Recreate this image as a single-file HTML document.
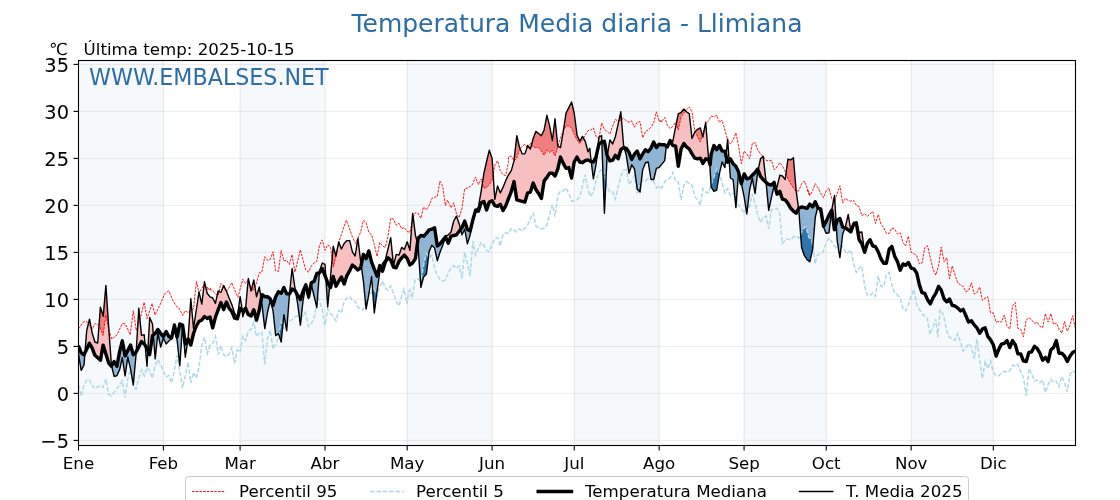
<!DOCTYPE html><html><head><meta charset="utf-8"><title>Temperatura Media diaria - Llimiana</title>
<style>html,body{margin:0;padding:0;background:#fff}svg{display:block}text{font-family:"DejaVu Sans","Liberation Sans",sans-serif;fill:#000}</style></head><body>
<svg width="1120" height="500" viewBox="0 0 1120 500">
<rect width="1120" height="500" fill="#fff"/>
<rect x="78.50" y="60.5" width="84.91" height="385.0" fill="#f5f9fc"/>
<rect x="240.10" y="60.5" width="84.91" height="385.0" fill="#f5f9fc"/>
<rect x="407.18" y="60.5" width="84.91" height="385.0" fill="#f5f9fc"/>
<rect x="574.26" y="60.5" width="84.91" height="385.0" fill="#f5f9fc"/>
<rect x="744.08" y="60.5" width="82.17" height="385.0" fill="#f5f9fc"/>
<rect x="911.16" y="60.5" width="82.17" height="385.0" fill="#f5f9fc"/>
<line x1="78.5" x2="1075.5" y1="440.40" y2="440.40" stroke="#808080" stroke-opacity="0.14" stroke-width="1"/>
<line x1="78.5" x2="1075.5" y1="393.40" y2="393.40" stroke="#808080" stroke-opacity="0.14" stroke-width="1"/>
<line x1="78.5" x2="1075.5" y1="346.40" y2="346.40" stroke="#808080" stroke-opacity="0.14" stroke-width="1"/>
<line x1="78.5" x2="1075.5" y1="299.40" y2="299.40" stroke="#808080" stroke-opacity="0.14" stroke-width="1"/>
<line x1="78.5" x2="1075.5" y1="252.40" y2="252.40" stroke="#808080" stroke-opacity="0.14" stroke-width="1"/>
<line x1="78.5" x2="1075.5" y1="205.40" y2="205.40" stroke="#808080" stroke-opacity="0.14" stroke-width="1"/>
<line x1="78.5" x2="1075.5" y1="158.40" y2="158.40" stroke="#808080" stroke-opacity="0.14" stroke-width="1"/>
<line x1="78.5" x2="1075.5" y1="111.40" y2="111.40" stroke="#808080" stroke-opacity="0.14" stroke-width="1"/>
<line x1="78.5" x2="1075.5" y1="64.40" y2="64.40" stroke="#808080" stroke-opacity="0.14" stroke-width="1"/>
<line x1="163.41" x2="163.41" y1="60.5" y2="445.5" stroke="#808080" stroke-opacity="0.17" stroke-width="1"/>
<line x1="240.10" x2="240.10" y1="60.5" y2="445.5" stroke="#808080" stroke-opacity="0.17" stroke-width="1"/>
<line x1="325.01" x2="325.01" y1="60.5" y2="445.5" stroke="#808080" stroke-opacity="0.17" stroke-width="1"/>
<line x1="407.18" x2="407.18" y1="60.5" y2="445.5" stroke="#808080" stroke-opacity="0.17" stroke-width="1"/>
<line x1="492.09" x2="492.09" y1="60.5" y2="445.5" stroke="#808080" stroke-opacity="0.17" stroke-width="1"/>
<line x1="574.26" x2="574.26" y1="60.5" y2="445.5" stroke="#808080" stroke-opacity="0.17" stroke-width="1"/>
<line x1="659.17" x2="659.17" y1="60.5" y2="445.5" stroke="#808080" stroke-opacity="0.17" stroke-width="1"/>
<line x1="744.08" x2="744.08" y1="60.5" y2="445.5" stroke="#808080" stroke-opacity="0.17" stroke-width="1"/>
<line x1="826.25" x2="826.25" y1="60.5" y2="445.5" stroke="#808080" stroke-opacity="0.17" stroke-width="1"/>
<line x1="911.16" x2="911.16" y1="60.5" y2="445.5" stroke="#808080" stroke-opacity="0.17" stroke-width="1"/>
<line x1="993.33" x2="993.33" y1="60.5" y2="445.5" stroke="#808080" stroke-opacity="0.17" stroke-width="1"/>
<clipPath id="c"><rect x="78.5" y="60.5" width="997.0" height="385.0"/></clipPath>
<g clip-path="url(#c)">
<polygon points="84.9,353.1 85.1,350.9 85.3,348.4 85.5,345.9 85.7,343.4 85.9,340.9 86.1,338.3 86.3,335.8 86.5,333.3 86.7,330.8 86.9,329.8 87.1,329.0 87.3,328.2 87.5,327.3 87.7,326.5 87.9,325.7 88.1,324.8 88.3,324.0 88.5,323.2 88.7,322.3 88.9,321.5 89.1,320.7 89.3,319.8 89.5,319.4 89.7,320.4 89.9,321.4 90.1,322.4 90.3,323.5 90.5,324.5 90.7,325.5 90.9,326.5 91.1,327.5 91.3,328.5 91.5,329.5 91.7,330.5 91.9,331.5 92.1,332.5 92.3,333.3 92.5,334.0 92.7,334.7 92.9,335.3 93.1,336.0 93.3,336.6 93.5,337.3 93.7,337.9 93.9,338.6 94.1,339.3 94.3,339.9 94.5,340.6 94.7,341.2 94.9,341.9 95.1,342.1 95.3,342.1 95.5,342.2 95.7,342.3 95.9,342.4 96.1,342.4 96.3,342.5 96.5,342.6 96.7,342.6 96.9,342.7 97.1,342.8 97.3,342.9 97.5,342.9 97.7,342.6 97.9,340.0 98.1,337.4 98.3,334.8 98.5,332.2 98.7,329.5 98.9,326.9 99.1,324.3 99.3,321.7 99.5,319.1 99.7,316.4 99.9,313.8 100.1,311.2 100.3,308.6 100.5,307.4 100.7,308.1 100.9,308.7 101.1,309.4 101.3,310.1 101.5,310.7 101.7,311.4 101.9,312.0 102.1,312.7 102.3,313.4 102.5,314.0 102.7,314.7 102.9,315.4 103.1,316.0 103.3,314.5 103.5,312.3 103.7,310.0 103.9,307.8 104.1,305.5 104.3,303.3 104.5,301.0 104.7,298.8 104.9,296.5 105.1,294.3 105.3,292.0 105.5,289.8 105.7,287.5 105.9,285.5 106.1,288.5 106.3,291.4 106.5,294.4 106.7,297.3 106.9,300.3 107.1,303.2 107.3,306.2 107.5,309.1 107.7,312.1 107.9,315.0 108.1,318.0 108.3,320.9 108.5,323.9 108.7,326.8 108.9,329.7 109.1,332.5 109.3,335.4 109.5,338.3 109.7,341.1 109.9,344.0 110.1,346.9 110.3,349.7 110.5,352.6 110.7,355.4 110.9,358.3 111.1,361.2 111.3,364.0 111.5,365.5 111.7,366.0 111.7,366.0 111.5,365.9 111.3,366.1 111.1,365.9 110.9,365.7 110.7,365.5 110.5,365.2 110.3,365.0 110.1,364.8 109.9,364.6 109.7,364.3 109.5,364.1 109.3,363.9 109.1,363.6 108.9,363.4 108.7,363.2 108.5,362.6 108.3,362.0 108.1,361.3 107.9,360.6 107.7,360.0 107.5,359.3 107.3,358.7 107.1,358.0 106.9,357.4 106.7,356.7 106.5,356.1 106.3,355.4 106.1,354.8 105.9,354.1 105.7,353.5 105.5,352.8 105.3,352.2 105.1,351.5 104.9,350.9 104.7,350.2 104.5,349.6 104.3,348.9 104.1,348.3 103.9,347.6 103.7,347.0 103.5,346.3 103.3,345.6 103.1,345.2 102.9,346.3 102.7,347.5 102.5,348.6 102.3,349.7 102.1,350.9 101.9,352.0 101.7,353.1 101.5,354.3 101.3,355.4 101.1,356.6 100.9,357.7 100.7,358.8 100.5,360.0 100.3,360.0 100.1,359.8 99.9,359.6 99.7,359.5 99.5,359.3 99.3,359.1 99.1,358.9 98.9,358.8 98.7,358.6 98.5,358.4 98.3,358.2 98.1,358.1 97.9,357.9 97.7,357.7 97.5,357.6 97.3,357.4 97.1,357.2 96.9,357.0 96.7,356.9 96.5,356.7 96.3,356.5 96.1,356.3 95.9,356.2 95.7,356.0 95.5,355.8 95.3,355.6 95.1,355.5 94.9,355.2 94.7,354.7 94.5,354.2 94.3,353.7 94.1,353.2 93.9,352.6 93.7,352.1 93.5,351.6 93.3,351.1 93.1,350.6 92.9,350.0 92.7,349.5 92.5,349.0 92.3,348.5 92.1,348.0 91.9,347.6 91.7,347.3 91.5,346.9 91.3,346.6 91.1,346.3 90.9,345.9 90.7,345.6 90.5,345.2 90.3,344.9 90.1,344.5 89.9,344.2 89.7,343.8 89.5,343.5 89.3,343.4 89.1,343.9 88.9,344.4 88.7,344.8 88.5,345.3 88.3,345.7 88.1,346.2 87.9,346.6 87.7,347.1 87.5,347.5 87.3,348.0 87.1,348.4 86.9,348.9 86.7,349.3 86.5,349.7 86.3,350.1 86.1,350.5 85.9,350.9 85.7,351.3 85.5,351.7 85.3,352.1 85.1,352.5 84.9,353.1" fill="#f7bfbf" fill-opacity="1"/>
<polygon points="136.1,353.0 136.3,350.5 136.5,347.0 136.7,343.6 136.9,340.2 137.1,336.8 137.3,333.3 137.5,329.9 137.7,326.5 137.9,323.0 138.1,319.6 138.3,316.2 138.5,312.7 138.7,309.3 138.9,309.7 139.1,311.7 139.3,313.7 139.5,315.6 139.7,317.6 139.9,319.6 140.1,321.6 140.3,323.6 140.5,325.5 140.7,327.5 140.9,329.5 141.1,331.5 141.3,333.5 141.5,335.4 141.7,335.4 141.9,335.3 142.1,335.3 142.3,335.2 142.5,335.2 142.7,335.1 142.9,335.1 143.1,335.0 143.3,335.0 143.5,335.0 143.7,334.9 143.9,334.9 144.1,334.8 144.3,335.5 144.5,337.8 144.7,340.1 144.9,342.4 145.1,344.7 145.3,346.2 145.3,346.2 145.1,345.2 144.9,344.9 144.7,344.6 144.5,344.3 144.3,344.0 144.1,343.8 143.9,343.6 143.7,343.4 143.5,343.2 143.3,343.1 143.1,342.9 142.9,342.7 142.7,342.5 142.5,342.4 142.3,342.2 142.1,342.0 141.9,341.8 141.7,341.7 141.5,341.5 141.3,341.8 141.1,342.1 140.9,342.5 140.7,342.9 140.5,343.3 140.3,343.7 140.1,344.1 139.9,344.5 139.7,344.9 139.5,345.3 139.3,345.7 139.1,346.1 138.9,346.4 138.7,346.8 138.5,347.2 138.3,347.7 138.1,348.1 137.9,348.5 137.7,348.9 137.5,349.3 137.3,349.7 137.1,350.1 136.9,350.5 136.7,350.9 136.5,351.3 136.3,351.7 136.1,353.0" fill="#f7bfbf" fill-opacity="1"/>
<polygon points="147.7,351.6 147.9,349.8 148.1,346.2 148.3,342.6 148.5,339.1 148.7,335.5 148.9,332.0 149.1,328.4 149.3,324.9 149.5,321.3 149.7,317.7 149.9,317.9 150.1,318.4 150.3,318.9 150.5,319.4 150.7,319.8 150.9,320.3 151.1,320.8 151.3,321.3 151.5,321.7 151.7,322.2 151.9,322.7 152.1,323.2 152.3,323.6 152.5,324.6 152.7,327.1 152.9,329.7 153.1,332.2 153.3,334.8 153.5,336.0 153.5,336.0 153.3,334.9 153.1,335.0 152.9,335.2 152.7,335.3 152.5,335.5 152.3,336.5 152.1,337.9 151.9,339.3 151.7,340.7 151.5,342.0 151.3,343.4 151.1,344.8 150.9,346.1 150.7,347.5 150.5,348.9 150.3,350.3 150.1,351.6 149.9,353.0 149.7,354.4 149.5,354.3 149.3,353.8 149.1,353.3 148.9,352.8 148.7,352.3 148.5,351.8 148.3,351.3 148.1,350.8 147.9,350.3 147.7,351.6" fill="#f7bfbf" fill-opacity="1"/>
<polygon points="187.9,339.4 188.1,337.9 188.3,335.0 188.5,332.1 188.7,329.2 188.9,326.3 189.1,323.4 189.3,320.5 189.5,317.6 189.7,314.7 189.9,311.8 190.1,308.9 190.3,306.0 190.5,303.0 190.7,300.1 190.9,299.8 191.1,302.0 191.3,304.2 191.5,306.3 191.7,308.5 191.9,310.7 192.1,312.9 192.3,315.0 192.5,317.2 192.7,319.4 192.9,321.6 193.1,323.7 193.3,325.9 193.5,328.1 193.7,327.4 193.9,326.1 194.1,324.7 194.3,323.4 194.5,322.0 194.7,320.7 194.9,319.3 195.1,317.9 195.3,316.6 195.5,315.2 195.7,313.9 195.9,312.5 196.1,311.2 196.3,309.8 196.5,308.5 196.7,307.2 196.9,305.9 197.1,304.6 197.3,303.3 197.5,302.0 197.7,300.6 197.9,299.3 198.1,298.0 198.3,296.7 198.5,295.4 198.7,294.1 198.9,292.8 199.1,292.4 199.3,293.3 199.5,294.1 199.7,295.0 199.9,295.9 200.1,296.8 200.3,297.7 200.5,298.6 200.7,299.4 200.9,300.3 201.1,301.2 201.3,302.1 201.5,303.0 201.7,303.9 201.9,302.9 202.1,301.3 202.3,299.7 202.5,298.0 202.7,296.4 202.9,294.8 203.1,293.1 203.3,291.5 203.5,289.9 203.7,288.3 203.9,286.6 204.1,285.0 204.3,283.4 204.5,281.8 204.7,282.7 204.9,283.5 205.1,284.3 205.3,285.2 205.5,286.0 205.7,286.9 205.9,287.7 206.1,288.5 206.3,289.4 206.5,290.2 206.7,291.1 206.9,291.9 207.1,292.7 207.3,293.4 207.5,293.7 207.7,293.9 207.9,294.2 208.1,294.4 208.3,294.7 208.5,295.0 208.7,295.2 208.9,295.5 209.1,295.8 209.3,296.0 209.5,296.3 209.7,296.5 209.9,296.8 210.1,297.0 210.3,297.0 210.5,297.1 210.7,297.2 210.9,297.3 211.1,297.4 211.3,297.4 211.5,297.5 211.7,297.6 211.9,297.7 212.1,297.8 212.3,297.8 212.5,297.9 212.7,298.0 212.9,298.4 213.1,298.8 213.3,299.2 213.5,299.6 213.7,299.9 213.9,300.3 214.1,300.7 214.3,301.1 214.5,301.5 214.7,301.9 214.9,302.3 215.1,302.7 215.3,303.1 215.5,303.2 215.7,302.3 215.9,301.4 216.1,300.5 216.3,299.6 216.5,298.6 216.7,297.7 216.9,296.8 217.1,295.9 217.3,295.0 217.5,294.1 217.7,293.2 217.9,292.3 218.1,291.4 218.3,291.1 218.5,291.2 218.7,291.3 218.9,291.4 219.1,291.5 219.3,291.6 219.5,291.7 219.7,291.8 219.9,291.9 220.1,292.0 220.3,292.2 220.5,292.3 220.7,292.4 220.9,292.5 221.1,292.1 221.3,291.5 221.5,291.0 221.7,290.5 221.9,290.0 222.1,289.5 222.3,289.0 222.5,288.5 222.7,288.0 222.9,287.5 223.1,286.9 223.3,286.4 223.5,285.9 223.7,285.6 223.9,286.0 224.1,286.4 224.3,286.8 224.5,287.2 224.7,287.6 224.9,288.0 225.1,288.4 225.3,288.8 225.5,289.2 225.7,289.6 225.9,290.0 226.1,290.4 226.3,290.8 226.5,291.2 226.7,291.8 226.9,292.3 227.1,292.8 227.3,293.3 227.5,293.8 227.7,294.3 227.9,294.8 228.1,295.3 228.3,295.8 228.5,296.4 228.7,296.9 228.9,297.4 229.1,297.9 229.3,298.4 229.5,298.9 229.7,299.4 229.9,299.9 230.1,300.4 230.3,300.9 230.5,301.4 230.7,301.9 230.9,302.4 231.1,302.9 231.3,303.4 231.5,303.8 231.7,304.3 231.9,304.8 232.1,305.5 232.3,306.1 232.5,306.7 232.7,307.3 232.9,307.9 233.1,308.5 233.3,309.1 233.5,309.8 233.7,310.4 233.9,311.0 234.1,311.6 234.3,312.2 234.5,312.8 234.7,313.3 234.9,313.6 235.1,313.9 235.3,314.2 235.5,314.4 235.7,314.7 235.9,315.0 236.1,315.3 236.3,315.6 236.5,315.9 236.7,316.2 236.9,316.4 237.1,316.7 237.3,317.0 237.5,316.1 237.7,314.6 237.9,313.1 238.1,311.6 238.3,310.1 238.5,308.6 238.7,307.1 238.9,305.6 239.1,304.2 239.3,302.7 239.5,301.2 239.7,299.7 239.9,298.2 240.1,296.7 240.3,297.9 240.5,299.1 240.7,300.3 240.9,301.5 241.1,302.8 241.3,304.0 241.5,305.3 241.7,307.0 241.9,308.7 242.1,310.4 242.1,310.4 241.9,310.1 241.7,309.9 241.5,309.7 241.3,309.5 241.1,309.3 240.9,309.1 240.7,308.9 240.5,308.7 240.3,308.5 240.1,308.3 239.9,309.1 239.7,309.8 239.5,310.6 239.3,311.4 239.1,312.1 238.9,312.9 238.7,313.7 238.5,314.4 238.3,315.2 238.1,316.0 237.9,316.7 237.7,317.5 237.5,318.3 237.3,318.8 237.1,318.7 236.9,318.7 236.7,318.6 236.5,318.6 236.3,318.5 236.1,318.5 235.9,318.4 235.7,318.4 235.5,318.3 235.3,318.3 235.1,318.2 234.9,318.2 234.7,318.1 234.5,317.8 234.3,317.4 234.1,316.9 233.9,316.4 233.7,316.0 233.5,315.5 233.3,315.1 233.1,314.6 232.9,314.1 232.7,313.7 232.5,313.2 232.3,312.8 232.1,312.3 231.9,311.8 231.7,311.6 231.5,311.3 231.3,311.1 231.1,310.8 230.9,310.5 230.7,310.3 230.5,310.0 230.3,309.8 230.1,309.5 229.9,309.3 229.7,309.0 229.5,308.8 229.3,308.5 229.1,308.2 228.9,307.7 228.7,307.3 228.5,306.8 228.3,306.4 228.1,305.9 227.9,305.4 227.7,305.0 227.5,304.5 227.3,304.1 227.1,303.6 226.9,303.1 226.7,302.7 226.5,302.2 226.3,302.3 226.1,302.9 225.9,303.4 225.7,304.0 225.5,304.5 225.3,305.1 225.1,305.7 224.9,306.2 224.7,306.8 224.5,307.4 224.3,307.9 224.1,308.5 223.9,309.0 223.7,309.6 223.5,309.3 223.3,308.7 223.1,308.2 222.9,307.7 222.7,307.2 222.5,306.6 222.3,306.1 222.1,305.6 221.9,305.1 221.7,304.5 221.5,304.0 221.3,303.5 221.1,303.0 220.9,302.6 220.7,303.1 220.5,303.6 220.3,304.2 220.1,304.7 219.9,305.2 219.7,305.7 219.5,306.3 219.3,306.8 219.1,307.3 218.9,307.8 218.7,308.4 218.5,308.9 218.3,309.4 218.1,310.0 217.9,310.5 217.7,311.1 217.5,311.6 217.3,312.2 217.1,312.8 216.9,313.3 216.7,313.9 216.5,314.4 216.3,315.0 216.1,315.6 215.9,316.1 215.7,316.7 215.5,317.3 215.3,318.0 215.1,318.7 214.9,319.5 214.7,320.3 214.5,321.0 214.3,321.8 214.1,322.6 213.9,323.3 213.7,324.1 213.5,324.9 213.3,325.6 213.1,326.4 212.9,327.2 212.7,327.9 212.5,327.1 212.3,326.3 212.1,325.5 211.9,324.7 211.7,323.9 211.5,323.1 211.3,322.3 211.1,321.5 210.9,320.7 210.7,319.9 210.5,319.1 210.3,318.3 210.1,317.5 209.9,317.0 209.7,317.1 209.5,317.3 209.3,317.4 209.1,317.5 208.9,317.6 208.7,317.7 208.5,317.8 208.3,317.9 208.1,318.0 207.9,318.1 207.7,318.2 207.5,318.4 207.3,318.5 207.1,318.4 206.9,318.3 206.7,318.1 206.5,318.0 206.3,317.8 206.1,317.7 205.9,317.5 205.7,317.4 205.5,317.2 205.3,317.1 205.1,316.9 204.9,316.8 204.7,316.7 204.5,316.5 204.3,316.7 204.1,317.0 203.9,317.3 203.7,317.5 203.5,317.8 203.3,318.0 203.1,318.3 202.9,318.5 202.7,318.8 202.5,319.0 202.3,319.3 202.1,319.6 201.9,319.8 201.7,320.0 201.5,320.1 201.3,320.2 201.1,320.4 200.9,320.5 200.7,320.6 200.5,320.7 200.3,320.8 200.1,320.9 199.9,321.0 199.7,321.1 199.5,321.2 199.3,321.3 199.1,321.5 198.9,321.7 198.7,322.0 198.5,322.3 198.3,322.7 198.1,323.0 197.9,323.3 197.7,323.7 197.5,324.0 197.3,324.3 197.1,324.6 196.9,325.0 196.7,325.3 196.5,325.6 196.3,326.0 196.1,326.5 195.9,327.0 195.7,327.6 195.5,328.1 195.3,328.7 195.1,329.2 194.9,329.8 194.7,330.3 194.5,330.9 194.3,331.4 194.1,332.0 193.9,332.5 193.7,333.1 193.5,333.7 193.3,334.5 193.1,335.3 192.9,336.2 192.7,337.0 192.5,337.9 192.3,338.7 192.1,339.5 191.9,340.4 191.7,341.2 191.5,342.1 191.3,342.9 191.1,343.7 190.9,344.6 190.7,344.8 190.5,344.3 190.3,343.9 190.1,343.5 189.9,343.0 189.7,342.6 189.5,342.2 189.3,341.7 189.1,341.3 188.9,340.8 188.7,340.4 188.5,340.0 188.3,339.5 188.1,339.1 187.9,339.4" fill="#f7bfbf" fill-opacity="1"/>
<polygon points="245.5,308.6 245.7,307.2 245.9,305.0 246.1,302.8 246.3,300.6 246.5,298.4 246.7,296.2 246.9,294.0 247.1,291.8 247.3,289.7 247.5,287.5 247.7,285.3 247.9,283.1 248.1,280.9 248.3,278.7 248.5,279.3 248.7,280.2 248.9,281.2 249.1,282.1 249.3,283.0 249.5,283.9 249.7,284.8 249.9,285.7 250.1,286.6 250.3,287.5 250.5,288.5 250.7,289.4 250.9,290.3 251.1,290.8 251.3,290.0 251.5,289.2 251.7,288.4 251.9,287.6 252.1,286.8 252.3,286.0 252.5,285.2 252.7,284.3 252.9,283.5 253.1,282.7 253.3,281.9 253.5,281.1 253.7,280.3 253.9,280.5 254.1,281.8 254.3,283.0 254.5,284.2 254.7,285.4 254.9,286.7 255.1,287.9 255.3,289.1 255.5,290.4 255.7,291.6 255.9,292.8 256.1,294.0 256.3,295.3 256.5,296.5 256.7,296.1 256.9,295.4 257.1,294.7 257.3,294.0 257.5,293.2 257.7,292.5 257.9,291.8 258.1,291.1 258.3,290.4 258.5,289.7 258.7,289.0 258.9,288.2 259.1,287.5 259.3,287.1 259.5,288.4 259.7,289.7 259.9,291.0 260.1,292.3 260.3,293.6 260.5,294.9 260.7,296.2 260.9,297.5 261.1,298.8 261.3,299.4 261.3,299.4 261.1,299.7 260.9,300.9 260.7,302.0 260.5,303.1 260.3,304.2 260.1,305.4 259.9,306.5 259.7,307.6 259.5,308.7 259.3,309.9 259.1,310.6 258.9,311.4 258.7,312.1 258.5,312.9 258.3,313.6 258.1,314.4 257.9,315.1 257.7,315.9 257.5,316.6 257.3,317.4 257.1,318.1 256.9,318.8 256.7,319.6 256.5,320.1 256.3,319.3 256.1,318.5 255.9,317.8 255.7,317.0 255.5,316.2 255.3,315.5 255.1,314.7 254.9,313.9 254.7,313.2 254.5,312.4 254.3,311.6 254.1,310.9 253.9,310.1 253.7,309.9 253.5,310.4 253.3,310.8 253.1,311.3 252.9,311.8 252.7,312.2 252.5,312.7 252.3,313.1 252.1,313.6 251.9,314.1 251.7,314.5 251.5,315.0 251.3,315.4 251.1,315.9 250.9,315.9 250.7,315.8 250.5,315.7 250.3,315.6 250.1,315.5 249.9,315.4 249.7,315.3 249.5,315.2 249.3,315.1 249.1,315.0 248.9,314.9 248.7,314.8 248.5,314.7 248.3,314.6 248.1,314.1 247.9,313.6 247.7,313.2 247.5,312.7 247.3,312.3 247.1,311.8 246.9,311.3 246.7,310.9 246.5,310.4 246.3,310.0 246.1,309.5 245.9,309.0 245.7,308.6 245.5,308.6" fill="#f7bfbf" fill-opacity="1"/>
<polygon points="289.5,293.9 289.7,292.1 289.9,290.2 290.1,288.3 290.3,286.4 290.5,284.4 290.7,282.5 290.9,280.6 291.1,278.6 291.3,276.7 291.5,274.8 291.7,272.9 291.9,270.9 292.1,269.0 292.3,269.7 292.5,271.1 292.7,272.5 292.9,273.9 293.1,275.2 293.3,276.6 293.5,278.0 293.7,279.4 293.9,280.8 294.1,282.2 294.3,283.6 294.5,285.0 294.7,286.3 294.9,287.7 295.1,288.9 295.3,290.0 295.5,291.2 295.7,292.1 295.7,292.1 295.5,291.5 295.3,291.1 295.1,290.8 294.9,290.4 294.7,290.3 294.5,290.2 294.3,290.1 294.1,290.0 293.9,289.9 293.7,289.8 293.5,289.7 293.3,289.6 293.1,289.5 292.9,289.4 292.7,289.3 292.5,289.2 292.3,289.1 292.1,289.1 291.9,289.4 291.7,289.8 291.5,290.1 291.3,290.5 291.1,290.9 290.9,291.2 290.7,291.6 290.5,291.9 290.3,292.3 290.1,292.7 289.9,293.0 289.7,293.4 289.5,293.9" fill="#f7bfbf" fill-opacity="1"/>
<polygon points="319.3,273.5 319.5,271.4 319.7,270.5 319.9,269.9 320.1,269.3 320.3,268.8 320.5,268.2 320.7,267.6 320.9,267.0 321.1,266.4 321.3,265.8 321.5,265.3 321.7,264.7 321.9,264.1 322.1,263.5 322.3,263.0 322.5,263.1 322.7,263.2 322.9,263.3 323.1,263.4 323.3,263.5 323.5,263.6 323.7,263.7 323.9,263.8 324.1,263.9 324.3,264.0 324.5,264.1 324.7,264.2 324.9,264.3 325.1,265.8 325.3,268.9 325.5,272.0 325.7,275.1 325.9,278.1 325.9,278.1 325.7,277.4 325.5,276.9 325.3,276.4 325.1,275.8 324.9,275.3 324.7,274.8 324.5,274.3 324.3,273.8 324.1,273.3 323.9,272.8 323.7,272.3 323.5,271.7 323.3,271.2 323.1,270.7 322.9,270.2 322.7,269.7 322.5,269.2 322.3,268.7 322.1,268.9 321.9,269.2 321.7,269.5 321.5,269.8 321.3,270.1 321.1,270.4 320.9,270.7 320.7,271.0 320.5,271.3 320.3,271.6 320.1,271.9 319.9,272.2 319.7,272.5 319.5,272.8 319.3,273.5" fill="#f7bfbf" fill-opacity="1"/>
<polygon points="329.5,286.8 329.7,285.6 329.9,283.4 330.1,281.2 330.3,279.1 330.5,276.9 330.7,274.6 330.9,272.4 331.1,270.1 331.3,267.9 331.5,265.6 331.7,263.4 331.9,261.1 332.1,258.9 332.3,256.6 332.5,254.4 332.7,252.1 332.9,249.9 333.1,247.6 333.3,246.5 333.5,247.2 333.7,247.9 333.9,248.6 334.1,249.3 334.3,250.0 334.5,250.8 334.7,251.5 334.9,252.2 335.1,252.9 335.3,253.6 335.5,254.3 335.7,255.0 335.9,255.8 336.1,255.3 336.3,254.3 336.5,253.3 336.7,252.2 336.9,251.2 337.1,250.2 337.3,249.2 337.5,248.2 337.7,247.1 337.9,246.1 338.1,245.1 338.3,244.1 338.5,243.0 338.7,242.0 338.9,242.5 339.1,243.0 339.3,243.5 339.5,244.0 339.7,244.5 339.9,245.1 340.1,245.6 340.3,246.1 340.5,246.6 340.7,247.1 340.9,247.6 341.1,248.1 341.3,248.6 341.5,248.9 341.7,248.5 341.9,248.1 342.1,247.7 342.3,247.2 342.5,246.8 342.7,246.4 342.9,246.0 343.1,245.6 343.3,245.2 343.5,244.8 343.7,244.4 343.9,244.0 344.1,243.6 344.3,243.3 344.5,243.1 344.7,242.9 344.9,242.7 345.1,242.5 345.3,242.3 345.5,242.1 345.7,241.8 345.9,241.6 346.1,241.4 346.3,241.2 346.5,241.0 346.7,240.8 346.9,240.6 347.1,240.6 347.3,240.6 347.5,240.6 347.7,240.6 347.9,240.6 348.1,240.6 348.3,240.6 348.5,240.6 348.7,240.6 348.9,240.6 349.1,240.6 349.3,240.6 349.5,240.6 349.7,240.8 349.9,241.6 350.1,242.4 350.3,243.2 350.5,244.0 350.7,244.8 350.9,245.7 351.1,246.5 351.3,247.3 351.5,248.1 351.7,248.9 351.9,249.8 352.1,250.6 352.3,251.4 352.5,252.0 352.7,252.3 352.9,252.6 353.1,252.9 353.3,253.2 353.5,253.5 353.7,253.8 353.9,254.1 354.1,254.4 354.3,254.7 354.5,255.0 354.7,255.3 354.9,255.6 355.1,255.9 355.3,255.0 355.5,253.7 355.7,252.4 355.9,251.1 356.1,249.9 356.3,248.6 356.5,247.3 356.7,246.0 356.9,244.7 357.1,243.5 357.3,242.2 357.5,240.9 357.7,239.6 357.9,238.7 358.1,240.3 358.3,242.0 358.5,243.6 358.7,245.3 358.9,246.9 359.1,248.5 359.3,250.2 359.5,251.8 359.7,253.5 359.9,255.1 360.1,256.8 360.3,258.4 360.5,260.0 360.7,261.6 360.9,263.1 361.1,264.5 361.3,265.3 361.3,265.3 361.1,265.5 360.9,266.5 360.7,267.5 360.5,268.0 360.3,268.1 360.1,268.3 359.9,268.4 359.7,268.6 359.5,268.8 359.3,268.9 359.1,269.1 358.9,269.2 358.7,269.4 358.5,269.5 358.3,269.7 358.1,269.8 357.9,270.0 357.7,269.8 357.5,269.6 357.3,269.4 357.1,269.2 356.9,269.0 356.7,268.8 356.5,268.6 356.3,268.4 356.1,268.2 355.9,268.0 355.7,267.8 355.5,267.6 355.3,267.4 355.1,267.2 354.9,267.0 354.7,266.9 354.5,266.7 354.3,266.6 354.1,266.4 353.9,266.3 353.7,266.1 353.5,265.9 353.3,265.8 353.1,265.6 352.9,265.5 352.7,265.3 352.5,265.2 352.3,265.3 352.1,265.7 351.9,266.1 351.7,266.5 351.5,266.9 351.3,267.3 351.1,267.8 350.9,268.2 350.7,268.6 350.5,269.0 350.3,269.4 350.1,269.8 349.9,270.2 349.7,270.6 349.5,271.0 349.3,271.3 349.1,271.7 348.9,272.1 348.7,272.4 348.5,272.8 348.3,273.1 348.1,273.5 347.9,273.9 347.7,274.2 347.5,274.6 347.3,274.9 347.1,275.3 346.9,275.7 346.7,276.3 346.5,276.9 346.3,277.5 346.1,278.1 345.9,278.7 345.7,279.3 345.5,280.0 345.3,280.6 345.1,281.2 344.9,281.8 344.7,282.4 344.5,283.0 344.3,283.6 344.1,283.8 343.9,283.3 343.7,282.8 343.5,282.3 343.3,281.7 343.1,281.2 342.9,280.7 342.7,280.2 342.5,279.7 342.3,279.2 342.1,278.7 341.9,278.2 341.7,277.7 341.5,277.1 341.3,277.2 341.1,277.5 340.9,277.9 340.7,278.2 340.5,278.5 340.3,278.8 340.1,279.1 339.9,279.4 339.7,279.7 339.5,280.1 339.3,280.4 339.1,280.7 338.9,281.0 338.7,281.3 338.5,281.7 338.3,282.0 338.1,282.4 337.9,282.7 337.7,283.1 337.5,283.5 337.3,283.8 337.1,284.2 336.9,284.5 336.7,284.9 336.5,285.2 336.3,285.6 336.1,286.0 335.9,286.0 335.7,285.2 335.5,284.5 335.3,283.8 335.1,283.1 334.9,282.4 334.7,281.7 334.5,281.0 334.3,280.2 334.1,279.5 333.9,278.8 333.7,278.1 333.5,277.4 333.3,276.7 333.1,276.9 332.9,277.7 332.7,278.6 332.5,279.4 332.3,280.2 332.1,281.0 331.9,281.8 331.7,282.6 331.5,283.5 331.3,284.3 331.1,285.1 330.9,285.9 330.7,286.7 330.5,287.6 330.3,287.3 330.1,286.9 329.9,286.5 329.7,286.2 329.5,286.8" fill="#f7bfbf" fill-opacity="1"/>
<polygon points="380.9,268.2 381.1,267.9 381.3,267.3 381.5,266.7 381.7,266.1 381.9,265.5 382.1,264.8 382.3,264.2 382.5,263.6 382.7,263.3 382.9,263.0 383.1,262.8 383.3,262.5 383.5,262.3 383.7,262.0 383.9,261.7 384.1,261.5 384.3,261.2 384.5,261.0 384.7,260.7 384.9,260.5 385.1,260.2 385.3,259.9 385.5,259.1 385.7,258.2 385.9,257.4 386.1,256.6 386.3,255.8 386.5,255.0 386.7,254.1 386.9,253.3 387.1,252.5 387.3,251.7 387.5,250.9 387.7,250.1 387.9,249.2 388.1,248.4 388.3,247.6 388.5,246.8 388.7,246.0 388.9,245.1 389.1,244.3 389.3,243.5 389.5,242.7 389.7,241.9 389.9,241.1 390.1,240.2 390.3,239.4 390.5,238.6 390.7,237.8 390.9,239.2 391.1,241.2 391.3,243.3 391.5,245.3 391.7,247.4 391.9,249.4 392.1,251.4 392.3,253.5 392.5,255.5 392.7,257.6 392.9,259.6 393.1,261.7 393.3,263.7 393.5,265.5 393.7,264.7 393.9,263.9 394.1,263.1 394.3,262.3 394.5,261.4 394.7,260.6 394.9,259.8 395.1,259.0 395.3,258.2 395.5,257.4 395.7,256.5 395.9,255.7 396.1,254.9 396.3,254.4 396.5,254.5 396.7,254.5 396.9,254.6 397.1,254.6 397.3,254.7 397.5,254.7 397.7,254.8 397.9,254.8 398.1,254.9 398.3,254.9 398.5,255.0 398.7,255.0 398.9,255.1 399.1,254.7 399.3,254.2 399.5,253.6 399.7,253.0 399.9,252.5 400.1,251.9 400.3,251.3 400.5,250.8 400.7,250.2 400.9,249.7 401.1,249.1 401.3,248.5 401.5,248.0 401.7,247.4 401.9,247.6 402.1,247.7 402.3,247.9 402.5,248.0 402.7,248.2 402.9,248.3 403.1,248.5 403.3,248.6 403.5,248.8 403.7,248.9 403.9,249.1 404.1,249.2 404.3,249.4 404.5,249.3 404.7,248.8 404.9,248.2 405.1,247.6 405.3,247.1 405.5,246.5 405.7,246.0 405.9,245.4 406.1,244.8 406.3,244.3 406.5,243.7 406.7,243.1 406.9,242.6 407.1,242.0 407.3,242.2 407.5,242.8 407.7,243.4 407.9,244.0 408.1,244.6 408.3,245.2 408.5,245.8 408.7,246.5 408.9,247.1 409.1,247.7 409.3,248.3 409.5,248.9 409.7,249.5 409.9,250.1 410.1,247.8 410.3,245.1 410.5,242.4 410.7,239.7 410.9,237.0 411.1,234.3 411.3,231.6 411.5,229.0 411.7,226.3 411.9,223.6 412.1,220.9 412.3,218.2 412.5,215.5 412.7,213.7 412.9,215.3 413.1,216.9 413.3,218.4 413.5,220.0 413.7,221.5 413.9,223.1 414.1,224.7 414.3,226.2 414.5,227.8 414.7,229.4 414.9,230.9 415.1,232.5 415.3,234.0 415.5,235.2 415.7,236.0 415.9,236.9 416.1,237.7 416.3,238.5 416.5,239.3 416.7,240.1 416.9,240.9 417.1,241.8 417.3,242.6 417.5,243.2 417.5,243.2 417.3,244.5 417.1,246.0 416.9,247.5 416.7,248.9 416.5,250.4 416.3,251.9 416.1,253.4 415.9,254.9 415.7,256.4 415.5,257.8 415.3,258.7 415.1,259.1 414.9,259.4 414.7,259.7 414.5,260.0 414.3,260.3 414.1,260.6 413.9,260.9 413.7,261.2 413.5,261.5 413.3,261.8 413.1,262.1 412.9,262.4 412.7,262.7 412.5,262.9 412.3,263.1 412.1,263.2 411.9,263.4 411.7,263.6 411.5,263.7 411.3,263.9 411.1,264.1 410.9,264.2 410.7,264.4 410.5,264.5 410.3,264.7 410.1,264.9 409.9,265.0 409.7,264.5 409.5,264.0 409.3,263.6 409.1,263.1 408.9,262.6 408.7,262.2 408.5,261.7 408.3,261.2 408.1,260.7 407.9,260.3 407.7,259.8 407.5,259.3 407.3,258.9 407.1,258.5 406.9,258.2 406.7,258.0 406.5,257.7 406.3,257.5 406.1,257.2 405.9,257.0 405.7,256.7 405.5,256.5 405.3,256.2 405.1,255.9 404.9,255.7 404.7,255.4 404.5,255.2 404.3,255.2 404.1,255.4 403.9,255.7 403.7,255.9 403.5,256.1 403.3,256.3 403.1,256.5 402.9,256.7 402.7,256.9 402.5,257.1 402.3,257.3 402.1,257.5 401.9,257.7 401.7,257.9 401.5,258.2 401.3,258.4 401.1,258.7 400.9,258.9 400.7,259.2 400.5,259.4 400.3,259.7 400.1,259.9 399.9,260.2 399.7,260.5 399.5,260.7 399.3,261.0 399.1,261.2 398.9,261.5 398.7,262.0 398.5,262.5 398.3,262.9 398.1,263.4 397.9,263.9 397.7,264.4 397.5,264.8 397.3,265.3 397.1,265.8 396.9,266.2 396.7,266.7 396.5,267.2 396.3,267.6 396.1,267.8 395.9,267.7 395.7,267.6 395.5,267.6 395.3,267.5 395.1,267.5 394.9,267.4 394.7,267.4 394.5,267.3 394.3,267.2 394.1,267.2 393.9,267.1 393.7,267.1 393.5,267.0 393.3,266.5 393.1,266.0 392.9,265.5 392.7,265.0 392.5,264.5 392.3,264.0 392.1,263.5 391.9,262.9 391.7,262.4 391.5,261.9 391.3,261.4 391.1,260.9 390.9,260.4 390.7,260.0 390.5,259.8 390.3,259.7 390.1,259.5 389.9,259.4 389.7,259.2 389.5,259.0 389.3,258.9 389.1,258.7 388.9,258.6 388.7,258.4 388.5,258.3 388.3,258.1 388.1,258.0 387.9,258.1 387.7,258.4 387.5,258.7 387.3,259.0 387.1,259.3 386.9,259.6 386.7,259.9 386.5,260.2 386.3,260.5 386.1,260.8 385.9,261.1 385.7,261.4 385.5,261.7 385.3,262.1 385.1,262.7 384.9,263.3 384.7,264.0 384.5,264.7 384.3,265.4 384.1,266.0 383.9,266.7 383.7,267.4 383.5,268.0 383.3,268.7 383.1,269.4 382.9,270.1 382.7,270.7 382.5,271.2 382.3,270.8 382.1,270.4 381.9,270.0 381.7,269.6 381.5,269.2 381.3,268.7 381.1,268.3 380.9,268.2" fill="#f7bfbf" fill-opacity="1"/>
<polygon points="445.1,237.5 445.3,237.0 445.5,236.3 445.7,236.1 445.9,236.0 446.1,235.9 446.3,235.8 446.5,235.7 446.7,235.6 446.9,235.5 447.1,235.4 447.3,235.3 447.5,235.2 447.7,235.1 447.9,235.0 448.1,234.9 448.3,234.8 448.5,234.6 448.7,234.4 448.9,234.2 449.1,233.9 449.3,233.7 449.5,233.5 449.7,233.3 449.9,233.1 450.1,232.9 450.3,232.7 450.5,232.5 450.7,232.3 450.9,232.1 451.1,231.6 451.3,230.8 451.5,230.0 451.7,229.2 451.9,228.4 452.1,227.6 452.3,226.8 452.5,226.0 452.7,225.2 452.9,224.4 453.1,223.6 453.3,222.8 453.5,222.0 453.7,221.2 453.9,220.7 454.1,220.4 454.3,220.0 454.5,219.7 454.7,219.3 454.9,219.0 455.1,218.6 455.3,218.3 455.5,217.9 455.7,217.6 455.9,217.2 456.1,216.9 456.3,216.5 456.5,216.3 456.7,216.8 456.9,217.4 457.1,217.9 457.3,218.5 457.5,219.1 457.7,219.6 457.9,220.2 458.1,220.7 458.3,221.3 458.5,221.9 458.7,222.4 458.9,223.0 459.1,223.6 459.3,224.2 459.5,225.0 459.7,225.8 459.9,226.6 460.1,227.4 460.3,228.2 460.5,229.0 460.7,229.5 460.7,229.5 460.5,229.5 460.3,229.8 460.1,230.1 459.9,230.4 459.7,230.6 459.5,230.9 459.3,231.2 459.1,231.5 458.9,231.7 458.7,232.0 458.5,232.2 458.3,232.5 458.1,232.7 457.9,233.0 457.7,233.2 457.5,233.5 457.3,233.8 457.1,234.0 456.9,234.3 456.7,234.5 456.5,234.8 456.3,234.8 456.1,234.9 455.9,234.9 455.7,235.0 455.5,235.1 455.3,235.1 455.1,235.2 454.9,235.2 454.7,235.3 454.5,235.3 454.3,235.4 454.1,235.4 453.9,235.5 453.7,235.5 453.5,235.6 453.3,235.6 453.1,235.7 452.9,235.7 452.7,235.8 452.5,235.8 452.3,235.9 452.1,235.9 451.9,236.0 451.7,236.0 451.5,236.1 451.3,236.1 451.1,236.2 450.9,236.5 450.7,237.0 450.5,237.5 450.3,238.0 450.1,238.5 449.9,239.0 449.7,239.5 449.5,240.0 449.3,240.6 449.1,241.1 448.9,241.6 448.7,242.1 448.5,242.6 448.3,243.1 448.1,242.8 447.9,242.4 447.7,241.9 447.5,241.4 447.3,241.0 447.1,240.5 446.9,240.1 446.7,239.6 446.5,239.1 446.3,238.7 446.1,238.2 445.9,237.8 445.7,237.3 445.5,236.9 445.3,237.2 445.1,237.5" fill="#f7bfbf" fill-opacity="1"/>
<polygon points="476.1,210.2 476.3,210.1 476.5,209.8 476.7,209.5 476.9,209.2 477.1,208.9 477.3,208.6 477.5,208.3 477.7,208.0 477.9,207.7 478.1,207.4 478.3,207.1 478.5,206.4 478.7,205.3 478.9,204.2 479.1,203.0 479.3,201.9 479.5,200.8 479.7,199.7 479.9,198.5 480.1,197.4 480.3,196.3 480.5,195.2 480.7,194.0 480.9,192.9 481.1,191.8 481.3,190.5 481.5,189.2 481.7,187.8 481.9,186.5 482.1,185.2 482.3,183.8 482.5,182.5 482.7,181.2 482.9,179.9 483.1,178.5 483.3,177.2 483.5,175.9 483.7,174.5 483.9,173.3 484.1,172.4 484.3,171.5 484.5,170.7 484.7,169.8 484.9,168.9 485.1,168.1 485.3,167.2 485.5,166.3 485.7,165.5 485.9,164.6 486.1,163.7 486.3,162.9 486.5,162.0 486.7,161.1 486.9,160.3 487.1,159.5 487.3,158.6 487.5,157.8 487.7,157.0 487.9,156.1 488.1,155.3 488.3,154.5 488.5,153.6 488.7,152.8 488.9,152.0 489.1,151.1 489.3,150.3 489.5,150.6 489.7,151.2 489.9,151.8 490.1,152.4 490.3,153.0 490.5,153.6 490.7,154.2 490.9,154.9 491.1,155.5 491.3,156.1 491.5,156.7 491.7,157.3 491.9,157.9 492.1,158.7 492.3,161.6 492.5,164.6 492.7,167.6 492.9,170.6 493.1,173.6 493.3,176.5 493.5,179.5 493.7,182.5 493.9,185.5 494.1,188.5 494.3,191.4 494.5,194.4 494.7,197.4 494.9,199.0 495.1,198.0 495.3,197.0 495.5,196.0 495.7,195.1 495.9,194.1 496.1,193.1 496.3,192.2 496.5,191.2 496.7,190.2 496.9,189.2 497.1,188.3 497.3,187.3 497.5,186.3 497.7,186.3 497.9,186.9 498.1,187.4 498.3,187.9 498.5,188.4 498.7,188.9 498.9,189.4 499.1,189.9 499.3,190.4 499.5,190.9 499.7,191.5 499.9,192.0 500.1,192.5 500.3,193.0 500.5,192.6 500.7,192.2 500.9,191.8 501.1,191.4 501.3,191.0 501.5,190.6 501.7,190.1 501.9,189.7 502.1,189.3 502.3,188.9 502.5,188.5 502.7,188.1 502.9,187.7 503.1,187.3 503.3,186.7 503.5,186.2 503.7,185.7 503.9,185.2 504.1,184.7 504.3,184.2 504.5,183.7 504.7,183.2 504.9,182.7 505.1,182.1 505.3,181.6 505.5,181.1 505.7,180.6 505.9,180.2 506.1,179.8 506.3,179.3 506.5,178.9 506.7,178.5 506.9,178.1 507.1,177.7 507.3,177.3 507.5,176.9 507.7,176.5 507.9,176.1 508.1,175.7 508.3,175.3 508.5,174.8 508.7,174.5 508.9,174.2 509.1,173.9 509.3,173.6 509.5,173.3 509.7,173.0 509.9,172.7 510.1,172.4 510.3,172.1 510.5,171.8 510.7,171.5 510.9,171.2 511.1,170.8 511.3,170.5 511.5,169.7 511.7,169.0 511.9,168.3 512.1,167.6 512.3,166.9 512.5,166.2 512.7,165.4 512.9,164.7 513.1,164.0 513.3,163.3 513.5,162.6 513.7,161.9 513.9,161.1 514.1,159.7 514.3,157.9 514.5,156.1 514.7,154.3 514.9,152.5 515.1,150.7 515.3,148.9 515.5,147.1 515.7,145.3 515.9,143.5 516.1,141.7 516.3,139.9 516.5,138.1 516.7,136.3 516.9,136.2 517.1,137.0 517.3,137.9 517.5,138.7 517.7,139.5 517.9,140.4 518.1,141.2 518.3,142.1 518.5,142.9 518.7,143.8 518.9,144.6 519.1,145.4 519.3,146.3 519.5,147.0 519.7,147.5 519.9,148.0 520.1,148.5 520.3,149.0 520.5,149.5 520.7,150.0 520.9,150.5 521.1,151.0 521.3,151.5 521.5,152.0 521.7,152.5 521.9,153.0 522.1,153.5 522.3,153.9 522.5,153.9 522.7,153.9 522.9,153.9 523.1,153.9 523.3,153.9 523.5,153.9 523.7,153.9 523.9,153.9 524.1,153.9 524.3,153.9 524.5,153.9 524.7,153.9 524.9,153.9 525.1,153.3 525.3,152.7 525.5,152.1 525.7,151.5 525.9,150.9 526.1,150.3 526.3,149.7 526.5,149.1 526.7,148.5 526.9,147.9 527.1,147.3 527.3,146.7 527.5,146.1 527.7,145.5 527.9,145.7 528.1,146.0 528.3,146.2 528.5,146.5 528.7,146.8 528.9,147.0 529.1,147.3 529.3,147.6 529.5,147.8 529.7,148.1 529.9,148.3 530.1,148.6 530.3,148.9 530.5,148.5 530.7,147.7 530.9,147.0 531.1,146.2 531.3,145.5 531.5,144.7 531.7,144.0 531.9,143.2 532.1,142.5 532.3,141.7 532.5,141.0 532.7,140.2 532.9,139.5 533.1,138.7 533.3,138.1 533.5,137.6 533.7,137.1 533.9,136.5 534.1,136.0 534.3,135.5 534.5,135.0 534.7,134.4 534.9,133.9 535.1,133.4 535.3,132.9 535.5,132.3 535.7,131.8 535.9,131.5 536.1,131.6 536.3,131.8 536.5,131.9 536.7,132.1 536.9,132.2 537.1,132.4 537.3,132.5 537.5,132.7 537.7,132.8 537.9,133.0 538.1,133.1 538.3,133.3 538.5,133.4 538.7,133.6 538.9,133.7 539.1,133.9 539.3,134.0 539.5,134.2 539.7,134.3 539.9,134.5 540.1,134.6 540.3,134.8 540.5,134.9 540.7,135.1 540.9,135.2 541.1,135.4 541.3,135.5 541.5,135.5 541.7,135.1 541.9,134.7 542.1,134.3 542.3,133.9 542.5,133.4 542.7,133.0 542.9,132.6 543.1,132.2 543.3,131.7 543.5,131.3 543.7,130.9 543.9,130.5 544.1,130.1 544.3,129.0 544.5,128.0 544.7,126.9 544.9,125.9 545.1,124.8 545.3,123.8 545.5,122.7 545.7,121.7 545.9,120.6 546.1,119.6 546.3,118.5 546.5,117.5 546.7,116.4 546.9,115.4 547.1,116.1 547.3,116.9 547.5,117.6 547.7,118.4 547.9,119.2 548.1,120.0 548.3,120.8 548.5,121.6 548.7,122.4 548.9,123.2 549.1,124.0 549.3,124.8 549.5,125.5 549.7,126.5 549.9,127.5 550.1,128.6 550.3,129.6 550.5,130.7 550.7,131.7 550.9,132.8 551.1,133.8 551.3,134.9 551.5,135.9 551.7,137.0 551.9,138.0 552.1,139.1 552.3,140.1 552.5,139.6 552.7,137.9 552.9,136.3 553.1,134.7 553.3,133.0 553.5,131.4 553.7,129.8 553.9,128.1 554.1,126.5 554.3,124.9 554.5,123.3 554.7,121.6 554.9,120.0 555.1,119.4 555.3,121.3 555.5,123.3 555.7,125.2 555.9,127.2 556.1,129.1 556.3,131.1 556.5,133.0 556.7,135.0 556.9,136.9 557.1,138.9 557.3,140.8 557.5,142.8 557.7,144.7 557.9,146.2 558.1,146.3 558.3,146.4 558.5,146.5 558.7,146.6 558.9,146.7 559.1,146.8 559.3,146.9 559.5,147.0 559.7,147.1 559.9,147.2 560.1,147.4 560.3,147.5 560.5,147.6 560.7,146.5 560.9,145.3 561.1,144.2 561.3,143.0 561.5,141.9 561.7,140.7 561.9,139.6 562.1,138.4 562.3,137.3 562.5,136.1 562.7,135.0 562.9,133.8 563.1,132.7 563.3,131.5 563.5,130.2 563.7,128.8 563.9,127.4 564.1,126.1 564.3,124.7 564.5,123.3 564.7,122.0 564.9,120.6 565.1,119.2 565.3,117.8 565.5,116.5 565.7,115.1 565.9,113.7 566.1,113.0 566.3,112.6 566.5,112.2 566.7,111.8 566.9,111.4 567.1,111.0 567.3,110.6 567.5,110.2 567.7,109.8 567.9,109.4 568.1,109.0 568.3,108.6 568.5,108.2 568.7,107.8 568.9,107.4 569.1,107.0 569.3,106.6 569.5,106.2 569.7,105.8 569.9,105.4 570.1,105.0 570.3,104.6 570.5,104.2 570.7,103.8 570.9,103.4 571.1,103.0 571.3,102.6 571.5,102.2 571.7,102.5 571.9,103.3 572.1,104.2 572.3,105.0 572.5,105.9 572.7,106.7 572.9,107.6 573.1,108.4 573.3,109.2 573.5,110.1 573.7,110.9 573.9,111.8 574.1,112.6 574.3,113.6 574.5,115.2 574.7,116.7 574.9,118.3 575.1,119.8 575.3,121.4 575.5,122.9 575.7,124.5 575.9,126.0 576.1,127.6 576.3,129.1 576.5,130.7 576.7,132.2 576.9,133.8 577.1,135.1 577.3,135.5 577.5,136.0 577.7,136.5 577.9,137.0 578.1,137.4 578.3,137.9 578.5,138.4 578.7,138.9 578.9,139.3 579.1,139.8 579.3,140.3 579.5,140.8 579.7,141.2 579.9,140.9 580.1,140.6 580.3,140.2 580.5,139.9 580.7,139.5 580.9,139.2 581.1,138.8 581.3,138.5 581.5,138.1 581.7,137.8 581.9,137.4 582.1,137.1 582.3,136.7 582.5,136.4 582.7,136.7 582.9,137.1 583.1,137.4 583.3,137.8 583.5,138.2 583.7,138.5 583.9,138.9 584.1,139.3 584.3,139.6 584.5,140.0 584.7,140.4 584.9,140.7 585.1,141.1 585.3,141.7 585.5,142.5 585.7,143.2 585.9,144.0 586.1,144.7 586.3,145.5 586.5,146.2 586.7,147.0 586.9,147.7 587.1,148.5 587.3,149.2 587.5,150.0 587.7,150.7 587.9,151.5 588.1,151.5 588.3,151.2 588.5,150.8 588.7,150.4 588.9,150.0 589.1,149.6 589.3,149.2 589.5,148.9 589.7,148.5 589.9,149.2 590.1,151.2 590.3,153.2 590.5,155.2 590.7,157.1 590.9,158.7 591.1,160.3 591.3,161.7 591.3,161.7 591.1,161.4 590.9,161.4 590.7,161.3 590.5,161.2 590.3,161.1 590.1,161.0 589.9,160.9 589.7,160.8 589.5,160.7 589.3,160.6 589.1,160.5 588.9,160.4 588.7,160.3 588.5,160.2 588.3,160.1 588.1,160.0 587.9,159.9 587.7,160.0 587.5,160.0 587.3,160.1 587.1,160.1 586.9,160.2 586.7,160.2 586.5,160.3 586.3,160.3 586.1,160.4 585.9,160.4 585.7,160.5 585.5,160.5 585.3,160.6 585.1,160.7 584.9,160.8 584.7,161.0 584.5,161.1 584.3,161.3 584.1,161.5 583.9,161.6 583.7,161.8 583.5,161.9 583.3,162.1 583.1,162.2 582.9,162.4 582.7,162.6 582.5,162.7 582.3,162.7 582.1,162.6 581.9,162.6 581.7,162.5 581.5,162.5 581.3,162.4 581.1,162.4 580.9,162.3 580.7,162.3 580.5,162.2 580.3,162.2 580.1,162.1 579.9,162.1 579.7,162.0 579.5,161.6 579.3,161.2 579.1,160.9 578.9,160.5 578.7,160.1 578.5,159.8 578.3,159.4 578.1,159.0 577.9,158.7 577.7,158.3 577.5,157.9 577.3,157.6 577.1,157.2 576.9,157.4 576.7,157.7 576.5,158.1 576.3,158.4 576.1,158.8 575.9,159.1 575.7,159.5 575.5,159.8 575.3,160.2 575.1,160.5 574.9,160.9 574.7,161.2 574.5,161.6 574.3,161.9 574.1,162.9 573.9,164.1 573.7,165.3 573.5,166.5 573.3,167.7 573.1,168.9 572.9,170.2 572.7,171.4 572.5,172.6 572.3,173.8 572.1,175.0 571.9,176.2 571.7,177.4 571.5,177.8 571.3,177.1 571.1,176.3 570.9,175.6 570.7,174.8 570.5,174.1 570.3,173.3 570.1,172.6 569.9,171.8 569.7,171.1 569.5,170.3 569.3,169.6 569.1,168.8 568.9,168.1 568.7,167.6 568.5,167.7 568.3,167.7 568.1,167.8 567.9,167.8 567.7,167.9 567.5,167.9 567.3,168.0 567.1,168.0 566.9,168.1 566.7,168.1 566.5,168.2 566.3,168.2 566.1,168.3 565.9,168.2 565.7,167.8 565.5,167.4 565.3,167.1 565.1,166.7 564.9,166.3 564.7,166.0 564.5,165.6 564.3,165.2 564.1,164.9 563.9,164.5 563.7,164.1 563.5,163.8 563.3,163.4 563.1,162.9 562.9,162.5 562.7,162.0 562.5,161.6 562.3,161.1 562.1,160.7 561.9,160.2 561.7,159.8 561.5,159.3 561.3,158.9 561.1,158.4 560.9,158.0 560.7,157.5 560.5,157.1 560.3,158.0 560.1,158.9 559.9,159.8 559.7,160.7 559.5,161.6 559.3,162.5 559.1,163.4 558.9,164.3 558.7,165.2 558.5,166.1 558.3,167.0 558.1,167.9 557.9,168.8 557.7,169.4 557.5,169.9 557.3,170.4 557.1,170.9 556.9,171.4 556.7,171.9 556.5,172.4 556.3,172.9 556.1,173.4 555.9,173.9 555.7,174.4 555.5,174.9 555.3,175.4 555.1,175.9 554.9,175.9 554.7,175.7 554.5,175.5 554.3,175.2 554.1,175.0 553.9,174.8 553.7,174.6 553.5,174.4 553.3,174.2 553.1,174.0 552.9,173.8 552.7,173.6 552.5,173.4 552.3,173.2 552.1,173.2 551.9,173.2 551.7,173.2 551.5,173.2 551.3,173.2 551.1,173.2 550.9,173.2 550.7,173.2 550.5,173.2 550.3,173.2 550.1,173.2 549.9,173.2 549.7,173.2 549.5,173.3 549.3,173.7 549.1,174.0 548.9,174.3 548.7,174.6 548.5,174.9 548.3,175.2 548.1,175.6 547.9,175.9 547.7,176.2 547.5,176.5 547.3,176.8 547.1,177.1 546.9,177.4 546.7,177.7 546.5,177.9 546.3,178.2 546.1,178.4 545.9,178.7 545.7,178.9 545.5,179.2 545.3,179.4 545.1,179.7 544.9,179.9 544.7,180.2 544.5,180.4 544.3,180.7 544.1,181.0 543.9,182.3 543.7,183.6 543.5,184.9 543.3,186.3 543.1,187.6 542.9,188.9 542.7,190.2 542.5,191.5 542.3,192.8 542.1,194.1 541.9,195.5 541.7,196.8 541.5,198.1 541.3,198.2 541.1,197.8 540.9,197.5 540.7,197.1 540.5,196.8 540.3,196.4 540.1,196.1 539.9,195.7 539.7,195.4 539.5,195.0 539.3,194.7 539.1,194.3 538.9,194.0 538.7,193.6 538.5,193.3 538.3,193.0 538.1,192.7 537.9,192.4 537.7,192.1 537.5,191.8 537.3,191.5 537.1,191.2 536.9,190.9 536.7,190.6 536.5,190.3 536.3,190.0 536.1,189.7 535.9,189.4 535.7,189.0 535.5,188.5 535.3,188.1 535.1,187.6 534.9,187.1 534.7,186.6 534.5,186.2 534.3,185.7 534.1,185.2 533.9,184.8 533.7,184.3 533.5,183.8 533.3,183.3 533.1,183.3 532.9,183.9 532.7,184.6 532.5,185.2 532.3,185.9 532.1,186.5 531.9,187.2 531.7,187.8 531.5,188.5 531.3,189.1 531.1,189.8 530.9,190.4 530.7,191.1 530.5,191.7 530.3,192.2 530.1,192.2 529.9,192.3 529.7,192.3 529.5,192.4 529.3,192.4 529.1,192.5 528.9,192.5 528.7,192.6 528.5,192.6 528.3,192.7 528.1,192.7 527.9,192.8 527.7,192.9 527.5,193.5 527.3,194.2 527.1,194.8 526.9,195.5 526.7,196.1 526.5,196.8 526.3,197.4 526.1,198.1 525.9,198.7 525.7,199.4 525.5,200.0 525.3,200.7 525.1,201.3 524.9,202.0 524.7,201.9 524.5,201.9 524.3,201.8 524.1,201.7 523.9,201.7 523.7,201.6 523.5,201.6 523.3,201.5 523.1,201.5 522.9,201.4 522.7,201.4 522.5,201.3 522.3,201.3 522.1,201.2 521.9,201.2 521.7,201.1 521.5,201.1 521.3,201.0 521.1,201.0 520.9,200.9 520.7,200.9 520.5,200.8 520.3,200.8 520.1,200.7 519.9,200.7 519.7,200.6 519.5,200.6 519.3,200.5 519.1,200.5 518.9,200.4 518.7,200.4 518.5,200.3 518.3,200.3 518.1,200.2 517.9,200.2 517.7,200.1 517.5,200.0 517.3,200.0 517.1,199.9 516.9,199.9 516.7,199.4 516.5,198.1 516.3,196.8 516.1,195.5 515.9,194.2 515.7,192.9 515.5,191.6 515.3,190.3 515.1,189.0 514.9,187.7 514.7,186.4 514.5,185.1 514.3,183.8 514.1,182.5 513.9,181.9 513.7,182.6 513.5,183.4 513.3,184.1 513.1,184.8 512.9,185.6 512.7,186.3 512.5,187.0 512.3,187.8 512.1,188.5 511.9,189.3 511.7,190.0 511.5,190.7 511.3,191.5 511.1,192.0 510.9,192.5 510.7,193.0 510.5,193.5 510.3,194.1 510.1,194.6 509.9,195.1 509.7,195.6 509.5,196.1 509.3,196.6 509.1,197.1 508.9,197.6 508.7,198.1 508.5,198.7 508.3,199.2 508.1,199.7 507.9,200.2 507.7,200.7 507.5,201.2 507.3,201.7 507.1,202.2 506.9,202.7 506.7,203.3 506.5,203.8 506.3,204.3 506.1,204.8 505.9,205.3 505.7,205.8 505.5,206.1 505.3,206.5 505.1,206.8 504.9,207.2 504.7,207.6 504.5,207.9 504.3,208.3 504.1,208.7 503.9,209.0 503.7,209.4 503.5,209.8 503.3,210.1 503.1,210.5 502.9,210.3 502.7,209.8 502.5,209.3 502.3,208.9 502.1,208.4 501.9,207.9 501.7,207.5 501.5,207.0 501.3,206.5 501.1,206.1 500.9,205.6 500.7,205.1 500.5,204.7 500.3,204.2 500.1,204.4 499.9,204.5 499.7,204.7 499.5,204.8 499.3,205.0 499.1,205.2 498.9,205.3 498.7,205.5 498.5,205.7 498.3,205.8 498.1,206.0 497.9,206.1 497.7,206.3 497.5,206.4 497.3,206.3 497.1,206.3 496.9,206.2 496.7,206.1 496.5,206.1 496.3,206.0 496.1,206.0 495.9,205.9 495.7,205.9 495.5,205.8 495.3,205.7 495.1,205.7 494.9,205.6 494.7,205.4 494.5,205.0 494.3,204.7 494.1,204.3 493.9,203.9 493.7,203.6 493.5,203.2 493.3,202.9 493.1,202.5 492.9,202.2 492.7,201.8 492.5,201.4 492.3,201.1 492.1,200.7 491.9,200.8 491.7,200.9 491.5,201.0 491.3,201.1 491.1,201.2 490.9,201.3 490.7,201.4 490.5,201.5 490.3,201.6 490.1,201.7 489.9,201.8 489.7,201.9 489.5,202.0 489.3,202.2 489.1,202.8 488.9,203.4 488.7,204.0 488.5,204.5 488.3,205.1 488.1,205.7 487.9,206.2 487.7,206.8 487.5,207.4 487.3,207.9 487.1,208.5 486.9,209.1 486.7,209.6 486.5,209.6 486.3,208.9 486.1,208.3 485.9,207.7 485.7,207.1 485.5,206.5 485.3,205.8 485.1,205.2 484.9,204.6 484.7,204.0 484.5,203.3 484.3,202.7 484.1,202.1 483.9,201.5 483.7,201.5 483.5,201.6 483.3,201.7 483.1,201.8 482.9,201.9 482.7,202.0 482.5,202.1 482.3,202.2 482.1,202.3 481.9,202.4 481.7,202.5 481.5,202.6 481.3,202.7 481.1,202.9 480.9,203.5 480.7,204.1 480.5,204.8 480.3,205.4 480.1,206.0 479.9,206.6 479.7,207.2 479.5,207.9 479.3,208.5 479.1,209.1 478.9,209.7 478.7,210.4 478.5,211.0 478.3,211.3 478.1,211.1 477.9,211.0 477.7,210.9 477.5,210.8 477.3,210.7 477.1,210.6 476.9,210.5 476.7,210.4 476.5,210.3 476.3,210.2 476.1,210.2" fill="#f7bfbf" fill-opacity="1"/>
<polygon points="597.5,150.5 597.7,148.7 597.9,146.7 598.1,144.8 598.3,142.9 598.5,141.0 598.7,139.0 598.9,137.1 599.1,136.9 599.3,136.8 599.5,136.7 599.7,136.6 599.9,136.5 600.1,136.4 600.3,136.3 600.5,136.2 600.7,136.1 600.9,136.0 601.1,135.9 601.3,135.8 601.5,135.7 601.7,137.0 601.9,142.3 601.9,142.3 601.7,141.9 601.5,142.0 601.3,142.2 601.1,142.3 600.9,142.5 600.7,142.7 600.5,142.8 600.3,143.0 600.1,143.1 599.9,143.3 599.7,143.4 599.5,143.6 599.3,143.8 599.1,143.9 598.9,144.1 598.7,145.0 598.5,145.9 598.3,146.8 598.1,147.7 597.9,148.6 597.7,149.5 597.5,150.5" fill="#f7bfbf" fill-opacity="1"/>
<polygon points="607.1,156.3 607.3,155.6 607.5,154.4 607.7,153.2 607.9,152.0 608.1,150.7 608.3,149.5 608.5,148.3 608.7,147.1 608.9,145.8 609.1,144.6 609.3,143.4 609.5,142.1 609.7,140.9 609.9,140.0 610.1,140.3 610.3,140.5 610.5,140.8 610.7,141.1 610.9,141.4 611.1,141.7 611.3,142.0 611.5,142.3 611.7,142.6 611.9,142.9 612.1,143.2 612.3,143.5 612.5,143.8 612.7,143.8 612.9,143.2 613.1,142.7 613.3,142.2 613.5,141.7 613.7,141.2 613.9,140.7 614.1,140.2 614.3,139.7 614.5,139.2 614.7,138.6 614.9,138.1 615.1,137.6 615.3,137.1 615.5,136.3 615.7,135.4 615.9,134.4 616.1,133.5 616.3,132.6 616.5,131.7 616.7,130.8 616.9,129.8 617.1,128.9 617.3,128.0 617.5,127.1 617.7,126.2 617.9,125.2 618.1,124.3 618.3,123.4 618.5,122.5 618.7,121.6 618.9,120.6 619.1,119.7 619.3,118.8 619.5,117.9 619.7,117.0 619.9,116.0 620.1,115.1 620.3,114.2 620.5,113.3 620.7,112.4 620.9,112.8 621.1,115.2 621.3,117.7 621.5,120.1 621.7,122.6 621.9,125.1 622.1,127.5 622.3,130.0 622.5,132.4 622.7,134.9 622.9,137.4 623.1,139.8 623.3,142.3 623.5,144.7 623.7,146.0 623.9,146.7 624.1,147.4 624.3,147.9 624.3,147.9 624.1,147.7 623.9,147.6 623.7,147.6 623.5,147.6 623.3,147.8 623.1,147.9 622.9,148.1 622.7,148.2 622.5,148.4 622.3,148.5 622.1,148.7 621.9,148.8 621.7,149.0 621.5,149.1 621.3,149.3 621.1,149.4 620.9,149.6 620.7,150.0 620.5,150.6 620.3,151.3 620.1,152.0 619.9,152.7 619.7,153.4 619.5,154.1 619.3,154.7 619.1,155.4 618.9,156.1 618.7,156.8 618.5,157.5 618.3,158.2 618.1,158.8 617.9,158.5 617.7,158.3 617.5,158.0 617.3,157.8 617.1,157.5 616.9,157.3 616.7,157.0 616.5,156.8 616.3,156.5 616.1,156.3 615.9,156.0 615.7,155.8 615.5,155.5 615.3,155.3 615.1,155.7 614.9,156.0 614.7,156.4 614.5,156.8 614.3,157.1 614.1,157.5 613.9,157.9 613.7,158.3 613.5,158.6 613.3,159.0 613.1,159.4 612.9,159.7 612.7,160.1 612.5,160.2 612.3,160.3 612.1,160.3 611.9,160.4 611.7,160.4 611.5,160.5 611.3,160.5 611.1,160.6 610.9,160.6 610.7,160.7 610.5,160.7 610.3,160.8 610.1,160.8 609.9,160.9 609.7,160.6 609.5,160.2 609.3,159.8 609.1,159.4 608.9,159.0 608.7,158.6 608.5,158.2 608.3,157.8 608.1,157.4 607.9,157.0 607.7,156.6 607.5,156.2 607.3,155.8 607.1,156.3" fill="#f7bfbf" fill-opacity="1"/>
<polygon points="668.1,145.2 668.3,144.6 668.5,144.1 668.7,143.6 668.9,143.1 669.1,142.6 669.3,142.0 669.5,141.5 669.7,141.0 669.9,140.5 670.1,140.0 670.3,139.9 670.5,140.0 670.7,140.2 670.9,140.3 671.1,140.4 671.3,140.5 671.5,140.6 671.7,140.7 671.9,140.8 672.1,140.9 672.3,141.0 672.5,141.1 672.7,141.2 672.9,140.8 673.1,139.8 673.3,138.8 673.5,137.8 673.7,136.8 673.9,135.8 674.1,134.8 674.3,133.8 674.5,132.8 674.7,131.8 674.9,130.8 675.1,129.8 675.3,128.8 675.5,127.8 675.7,126.8 675.9,125.8 676.1,124.8 676.3,123.8 676.5,122.8 676.7,121.8 676.9,120.8 677.1,119.8 677.3,118.8 677.5,117.8 677.7,116.8 677.9,115.8 678.1,114.8 678.3,113.9 678.5,113.8 678.7,113.7 678.9,113.6 679.1,113.5 679.3,113.4 679.5,113.3 679.7,113.2 679.9,113.1 680.1,113.0 680.3,112.9 680.5,112.8 680.7,112.7 680.9,112.6 681.1,112.5 681.3,112.2 681.5,112.0 681.7,111.7 681.9,111.5 682.1,111.2 682.3,111.0 682.5,110.7 682.7,110.5 682.9,110.2 683.1,110.0 683.3,109.7 683.5,109.5 683.7,109.2 683.9,109.0 684.1,109.3 684.3,109.5 684.5,109.7 684.7,109.9 684.9,110.1 685.1,110.3 685.3,110.5 685.5,110.7 685.7,110.9 685.9,111.1 686.1,111.4 686.3,111.6 686.5,111.8 686.7,111.9 686.9,112.1 687.1,112.2 687.3,112.4 687.5,112.5 687.7,112.7 687.9,112.8 688.1,113.0 688.3,113.1 688.5,113.3 688.7,113.4 688.9,113.6 689.1,113.7 689.3,113.9 689.5,115.4 689.7,117.2 689.9,119.1 690.1,120.9 690.3,122.7 690.5,124.6 690.7,126.4 690.9,128.3 691.1,130.1 691.3,132.0 691.5,133.8 691.7,135.6 691.9,137.5 692.1,138.2 692.3,137.8 692.5,137.3 692.7,136.9 692.9,136.4 693.1,136.0 693.3,135.5 693.5,135.1 693.7,134.6 693.9,134.2 694.1,133.7 694.3,133.3 694.5,132.8 694.7,132.4 694.9,132.1 695.1,131.8 695.3,131.6 695.5,131.4 695.7,131.2 695.9,131.0 696.1,130.8 696.3,130.6 696.5,130.4 696.7,130.2 696.9,129.9 697.1,129.7 697.3,129.5 697.5,129.3 697.7,129.2 697.9,129.1 698.1,129.0 698.3,128.9 698.5,128.8 698.7,128.7 698.9,128.6 699.1,128.5 699.3,128.4 699.5,128.3 699.7,128.2 699.9,128.1 700.1,128.0 700.3,128.0 700.5,128.7 700.7,129.4 700.9,130.1 701.1,130.8 701.3,131.4 701.5,132.1 701.7,132.8 701.9,133.5 702.1,134.2 702.3,134.9 702.5,135.5 702.7,136.2 702.9,136.9 703.1,136.2 703.3,135.2 703.5,134.1 703.7,133.1 703.9,132.0 704.1,131.0 704.3,129.9 704.5,128.9 704.7,127.8 704.9,126.8 705.1,125.7 705.3,124.7 705.5,123.6 705.7,122.6 705.9,124.4 706.1,126.9 706.3,129.5 706.5,132.1 706.7,134.7 706.9,137.3 707.1,139.8 707.3,142.4 707.5,145.0 707.7,147.6 707.9,150.1 708.1,152.7 708.3,155.3 708.5,157.2 708.7,158.2 708.9,159.3 709.1,160.4 709.3,161.4 709.5,162.5 709.7,163.7 709.7,163.7 709.5,162.9 709.3,162.3 709.1,161.7 708.9,161.0 708.7,160.4 708.5,159.8 708.3,159.5 708.1,159.4 707.9,159.3 707.7,159.3 707.5,159.2 707.3,159.2 707.1,159.1 706.9,159.1 706.7,159.0 706.5,159.0 706.3,158.9 706.1,158.9 705.9,158.8 705.7,158.8 705.5,159.2 705.3,159.5 705.1,159.8 704.9,160.2 704.7,160.5 704.5,160.8 704.3,161.2 704.1,161.5 703.9,161.8 703.7,162.1 703.5,162.5 703.3,162.8 703.1,163.1 702.9,163.3 702.7,162.9 702.5,162.5 702.3,162.1 702.1,161.7 701.9,161.3 701.7,160.9 701.5,160.5 701.3,160.1 701.1,159.7 700.9,159.3 700.7,158.9 700.5,158.5 700.3,158.1 700.1,158.1 699.9,158.2 699.7,158.2 699.5,158.3 699.3,158.3 699.1,158.4 698.9,158.4 698.7,158.5 698.5,158.5 698.3,158.6 698.1,158.6 697.9,158.7 697.7,158.7 697.5,158.8 697.3,158.7 697.1,158.7 696.9,158.6 696.7,158.6 696.5,158.5 696.3,158.5 696.1,158.4 695.9,158.4 695.7,158.3 695.5,158.3 695.3,158.2 695.1,158.2 694.9,158.1 694.7,157.9 694.5,157.6 694.3,157.3 694.1,157.0 693.9,156.7 693.7,156.4 693.5,156.1 693.3,155.8 693.1,155.5 692.9,155.2 692.7,154.9 692.5,154.6 692.3,154.3 692.1,154.0 691.9,153.7 691.7,153.3 691.5,152.9 691.3,152.6 691.1,152.2 690.9,151.8 690.7,151.5 690.5,151.1 690.3,150.7 690.1,150.4 689.9,150.0 689.7,149.6 689.5,149.3 689.3,148.9 689.1,148.8 688.9,148.6 688.7,148.5 688.5,148.3 688.3,148.2 688.1,148.0 687.9,147.9 687.7,147.7 687.5,147.6 687.3,147.4 687.1,147.3 686.9,147.1 686.7,147.0 686.5,146.8 686.3,146.5 686.1,146.3 685.9,146.0 685.7,145.8 685.5,145.5 685.3,145.2 685.1,145.0 684.9,144.7 684.7,144.4 684.5,144.2 684.3,143.9 684.1,143.7 683.9,143.4 683.7,143.7 683.5,144.1 683.3,144.5 683.1,144.9 682.9,145.3 682.7,145.7 682.5,146.1 682.3,146.5 682.1,146.9 681.9,147.3 681.7,147.7 681.5,148.1 681.3,148.5 681.1,148.9 680.9,150.0 680.7,151.3 680.5,152.5 680.3,153.7 680.1,154.9 679.9,156.2 679.7,157.4 679.5,158.6 679.3,159.9 679.1,161.1 678.9,162.3 678.7,163.6 678.5,164.8 678.3,166.0 678.1,164.9 677.9,163.4 677.7,161.9 677.5,160.4 677.3,158.9 677.1,157.4 676.9,155.9 676.7,154.4 676.5,152.9 676.3,151.4 676.1,149.9 675.9,148.4 675.7,146.9 675.5,146.1 675.3,146.1 675.1,146.0 674.9,146.0 674.7,145.9 674.5,145.9 674.3,145.8 674.1,145.8 673.9,145.7 673.7,145.7 673.5,145.6 673.3,145.6 673.1,145.5 672.9,145.5 672.7,145.3 672.5,144.9 672.3,144.5 672.1,144.2 671.9,143.8 671.7,143.4 671.5,143.1 671.3,142.7 671.1,142.3 670.9,142.0 670.7,141.6 670.5,141.2 670.3,140.9 670.1,140.6 669.9,141.1 669.7,141.5 669.5,142.0 669.3,142.4 669.1,142.9 668.9,143.3 668.7,143.8 668.5,144.2 668.3,144.7 668.1,145.2" fill="#f7bfbf" fill-opacity="1"/>
<polygon points="725.9,156.3 726.1,155.3 726.3,153.2 726.5,151.0 726.7,148.9 726.9,146.7 727.1,144.6 727.3,142.5 727.5,140.3 727.7,140.4 727.9,143.2 728.1,145.9 728.3,148.7 728.5,151.5 728.7,154.3 728.9,157.0 729.1,159.8 729.3,161.4 729.3,161.4 729.1,160.4 728.9,160.7 728.7,160.9 728.5,161.2 728.3,161.4 728.1,161.7 727.9,161.9 727.7,162.2 727.5,161.8 727.3,161.0 727.1,160.1 726.9,159.3 726.7,158.5 726.5,157.6 726.3,156.8 726.1,155.9 725.9,156.3" fill="#f7bfbf" fill-opacity="1"/>
<polygon points="740.3,179.3 740.5,180.1 740.7,180.8 740.9,181.5 741.1,182.2 741.3,182.9 741.5,183.5 741.5,183.5 741.3,183.5 741.1,182.7 740.9,181.8 740.7,181.0 740.5,180.1 740.3,179.3" fill="#f7bfbf" fill-opacity="1"/>
<polygon points="758.1,170.1 758.3,169.2 758.5,168.2 758.7,167.3 758.9,166.3 759.1,165.4 759.3,164.4 759.5,163.5 759.7,162.5 759.9,161.6 760.1,160.6 760.3,159.7 760.5,158.7 760.7,158.4 760.9,158.2 761.1,158.1 761.3,157.9 761.5,157.8 761.7,157.6 761.9,157.4 762.1,157.3 762.3,157.1 762.5,157.0 762.7,156.8 762.9,156.6 763.1,156.5 763.3,157.2 763.5,159.0 763.7,160.8 763.9,162.6 764.1,164.4 764.3,166.2 764.5,168.0 764.7,169.8 764.9,171.6 765.1,173.4 765.3,175.2 765.5,177.0 765.7,178.8 765.9,180.6 766.1,182.5 766.1,182.5 765.9,182.2 765.7,182.0 765.5,181.8 765.3,181.6 765.1,181.4 764.9,181.2 764.7,181.0 764.5,180.8 764.3,180.6 764.1,180.4 763.9,180.2 763.7,180.0 763.5,179.8 763.3,179.6 763.1,179.4 762.9,179.2 762.7,179.0 762.5,178.8 762.3,178.6 762.1,178.4 761.9,178.1 761.7,177.9 761.5,177.7 761.3,177.5 761.1,177.3 760.9,177.1 760.7,176.9 760.5,176.6 760.3,176.0 760.1,175.5 759.9,174.9 759.7,174.4 759.5,173.8 759.3,173.3 759.1,172.7 758.9,172.2 758.7,171.6 758.5,171.1 758.3,170.5 758.1,170.1" fill="#f7bfbf" fill-opacity="1"/>
<polygon points="774.9,185.9 775.1,186.3 775.3,186.4 775.5,186.5 775.7,186.6 775.9,186.7 776.1,186.8 776.3,186.9 776.5,187.0 776.7,187.1 776.9,187.2 777.1,186.6 777.3,185.8 777.5,184.9 777.7,184.1 777.9,183.2 778.1,182.4 778.3,181.5 778.5,180.7 778.7,179.8 778.9,179.0 779.1,178.1 779.3,177.3 779.5,176.4 779.7,175.6 779.9,175.4 780.1,175.4 780.3,175.5 780.5,175.5 780.7,175.6 780.9,175.6 781.1,175.7 781.3,175.7 781.5,175.8 781.7,175.8 781.9,175.9 782.1,175.9 782.3,176.0 782.5,176.1 782.7,176.4 782.9,176.6 783.1,176.9 783.3,177.1 783.5,177.4 783.7,177.6 783.9,177.9 784.1,178.1 784.3,178.4 784.5,178.6 784.7,178.9 784.9,179.1 785.1,179.4 785.3,178.9 785.5,177.4 785.7,175.9 785.9,174.4 786.1,172.8 786.3,171.3 786.5,169.8 786.7,168.2 786.9,166.7 787.1,165.2 787.3,163.7 787.5,162.1 787.7,160.6 787.9,159.2 788.1,159.3 788.3,159.3 788.5,159.4 788.7,159.4 788.9,159.5 789.1,159.5 789.3,159.6 789.5,159.6 789.7,159.7 789.9,159.7 790.1,159.8 790.3,159.8 790.5,159.9 790.7,159.9 790.9,159.7 791.1,159.6 791.3,159.4 791.5,159.3 791.7,159.1 791.9,158.9 792.1,158.8 792.3,158.6 792.5,158.5 792.7,158.3 792.9,158.2 793.1,158.0 793.3,157.8 793.5,159.6 793.7,162.0 793.9,164.4 794.1,166.8 794.3,169.2 794.5,171.6 794.7,174.0 794.9,176.4 795.1,178.8 795.3,181.2 795.5,183.6 795.7,186.0 795.9,188.4 796.1,190.8 796.3,192.5 796.5,193.8 796.7,195.2 796.9,196.6 797.1,198.0 797.3,199.4 797.5,200.8 797.7,202.2 797.9,203.6 798.1,205.0 798.3,206.3 798.5,207.7 798.7,208.8 798.7,208.8 798.5,208.9 798.3,209.2 798.1,209.6 797.9,210.0 797.7,210.3 797.5,210.7 797.3,211.1 797.1,211.4 796.9,211.8 796.7,212.2 796.5,212.5 796.3,212.9 796.1,213.1 795.9,213.0 795.7,212.8 795.5,212.7 795.3,212.5 795.1,212.4 794.9,212.2 794.7,212.1 794.5,211.9 794.3,211.8 794.1,211.6 793.9,211.5 793.7,211.3 793.5,211.2 793.3,211.0 793.1,210.8 792.9,210.6 792.7,210.4 792.5,210.2 792.3,210.0 792.1,209.8 791.9,209.5 791.7,209.3 791.5,209.1 791.3,208.9 791.1,208.7 790.9,208.5 790.7,208.3 790.5,207.9 790.3,207.6 790.1,207.2 789.9,206.9 789.7,206.5 789.5,206.2 789.3,205.8 789.1,205.5 788.9,205.1 788.7,204.8 788.5,204.4 788.3,204.1 788.1,203.7 787.9,203.4 787.7,203.1 787.5,202.9 787.3,202.6 787.1,202.3 786.9,202.1 786.7,201.8 786.5,201.5 786.3,201.3 786.1,201.0 785.9,200.7 785.7,200.5 785.5,200.2 785.3,200.0 785.1,199.8 784.9,199.8 784.7,199.7 784.5,199.7 784.3,199.6 784.1,199.6 783.9,199.5 783.7,199.5 783.5,199.4 783.3,199.4 783.1,199.3 782.9,199.3 782.7,199.2 782.5,199.2 782.3,198.8 782.1,198.2 781.9,197.7 781.7,197.1 781.5,196.5 781.3,195.9 781.1,195.3 780.9,194.8 780.7,194.2 780.5,193.6 780.3,193.0 780.1,192.4 779.9,191.9 779.7,191.5 779.5,191.7 779.3,191.9 779.1,192.1 778.9,192.3 778.7,192.5 778.5,192.7 778.3,192.9 778.1,193.1 777.9,193.3 777.7,193.5 777.5,193.7 777.3,193.9 777.1,194.1 776.9,194.0 776.7,193.2 776.5,192.3 776.3,191.5 776.1,190.6 775.9,189.8 775.7,188.9 775.5,188.1 775.3,187.2 775.1,186.4 774.9,185.9" fill="#f7bfbf" fill-opacity="1"/>
<polygon points="817.5,207.5 817.7,207.3 817.9,206.5 818.1,206.2 818.3,206.7 818.5,207.2 818.7,207.7 818.9,208.2 819.1,208.6 819.1,208.6 818.9,208.4 818.7,208.3 818.5,208.3 818.3,208.2 818.1,208.1 817.9,207.8 817.7,207.4 817.5,207.5" fill="#f7bfbf" fill-opacity="1"/>
<polygon points="831.7,210.4 831.9,209.3 832.1,208.2 832.3,207.1 832.5,206.0 832.7,205.0 832.9,203.9 833.1,202.8 833.3,201.7 833.5,200.7 833.7,199.6 833.9,198.5 834.1,197.5 834.3,196.4 834.5,196.1 834.7,199.4 834.9,202.7 835.1,206.1 835.3,209.4 835.5,212.7 835.7,216.0 835.9,219.4 836.1,222.7 836.3,224.7 836.3,224.7 836.1,224.0 835.9,224.7 835.7,225.4 835.5,226.1 835.3,226.8 835.1,227.5 834.9,228.2 834.7,228.9 834.5,229.6 834.3,228.8 834.1,227.4 833.9,225.9 833.7,224.4 833.5,223.0 833.3,221.5 833.1,220.0 832.9,218.5 832.7,217.1 832.5,215.6 832.3,214.1 832.1,212.6 831.9,211.2 831.7,210.4" fill="#f7bfbf" fill-opacity="1"/>
<polygon points="845.1,227.7 845.3,227.3 845.5,226.6 845.7,225.7 845.9,224.8 846.1,223.9 846.3,223.0 846.5,222.0 846.7,221.1 846.9,220.2 847.1,219.3 847.3,218.4 847.5,217.4 847.7,216.5 847.9,215.6 848.1,214.7 848.3,215.3 848.5,216.5 848.7,217.7 848.9,219.0 849.1,220.2 849.3,221.4 849.5,222.7 849.7,223.9 849.9,225.1 850.1,226.4 850.3,227.6 850.5,228.8 850.7,230.1 850.9,231.3 851.1,230.6 851.3,229.9 851.5,229.3 851.7,228.6 851.9,227.9 852.1,227.3 852.3,226.6 852.5,225.9 852.7,225.2 852.9,224.6 853.1,223.9 853.3,223.2 853.5,222.6 853.7,222.1 853.9,222.2 854.1,222.2 854.3,222.3 854.5,222.3 854.7,222.4 854.9,222.4 855.1,222.5 855.3,222.5 855.5,222.6 855.7,222.6 855.9,222.7 856.1,222.7 856.3,222.8 856.5,223.2 856.7,224.0 856.9,224.7 857.1,225.4 857.3,226.1 857.5,226.9 857.7,227.6 857.9,228.3 858.1,229.0 858.3,229.8 858.5,230.5 858.7,231.2 858.9,231.9 859.1,232.6 859.3,232.7 859.5,232.6 859.7,232.6 859.9,232.5 860.1,232.4 860.3,232.4 860.5,232.3 860.7,232.3 860.9,232.2 861.1,232.2 861.3,232.1 861.5,232.1 861.7,232.0 861.9,232.3 862.1,233.8 862.3,235.3 862.5,236.8 862.7,238.3 862.9,239.8 863.1,241.3 863.3,242.8 863.5,244.3 863.7,245.8 863.9,247.3 864.1,248.8 864.3,250.3 864.5,251.8 864.5,252.1 864.3,251.4 864.1,250.8 863.9,250.2 863.7,249.5 863.5,248.9 863.3,248.3 863.1,247.6 862.9,247.0 862.7,246.4 862.5,245.7 862.3,245.1 862.1,244.5 861.9,243.9 861.7,243.6 861.5,243.3 861.3,243.0 861.1,242.7 860.9,242.4 860.7,242.1 860.5,241.8 860.3,241.5 860.1,241.2 859.9,240.9 859.7,240.6 859.5,240.3 859.3,240.0 859.1,239.6 858.9,238.4 858.7,237.2 858.5,236.0 858.3,234.8 858.1,233.6 857.9,232.4 857.7,231.2 857.5,230.0 857.3,228.8 857.1,227.6 856.9,226.4 856.7,225.2 856.5,224.0 856.3,222.8 856.1,223.0 855.9,223.1 855.7,223.2 855.5,223.3 855.3,223.4 855.1,223.5 854.9,223.6 854.7,223.7 854.5,223.8 854.3,223.9 854.1,224.0 853.9,224.1 853.7,224.2 853.5,224.6 853.3,225.2 853.1,225.7 852.9,226.3 852.7,226.8 852.5,227.4 852.3,227.9 852.1,228.5 851.9,229.0 851.7,229.6 851.5,230.1 851.3,230.7 851.1,231.2 850.9,231.8 850.7,231.9 850.5,231.7 850.3,231.5 850.1,231.4 849.9,231.2 849.7,231.1 849.5,230.9 849.3,230.7 849.1,230.6 848.9,230.4 848.7,230.3 848.5,230.1 848.3,230.0 848.1,229.8 847.9,229.7 847.7,229.5 847.5,229.4 847.3,229.2 847.1,229.1 846.9,228.9 846.7,228.8 846.5,228.6 846.3,228.5 846.1,228.3 845.9,228.2 845.7,228.0 845.5,227.9 845.3,227.7 845.1,227.7" fill="#f7bfbf" fill-opacity="1"/>
<polygon points="78.5,354.0 78.7,355.2 78.9,356.4 79.1,357.6 79.3,358.8 79.5,360.0 79.7,361.2 79.9,362.4 80.1,363.6 80.3,364.8 80.5,366.0 80.7,367.2 80.9,368.4 81.1,369.6 81.3,370.3 81.5,369.9 81.7,369.5 81.9,369.1 82.1,368.7 82.3,368.3 82.5,367.9 82.7,367.5 82.9,367.1 83.1,366.7 83.3,366.3 83.5,365.9 83.7,365.5 83.9,365.2 84.1,363.5 84.3,361.0 84.5,358.4 84.7,355.9 84.9,353.4 85.1,351.7 85.1,351.7 84.9,352.9 84.7,353.3 84.5,353.6 84.3,354.0 84.1,354.4 83.9,354.7 83.7,354.5 83.5,354.4 83.3,354.3 83.1,354.2 82.9,354.0 82.7,353.9 82.5,353.8 82.3,353.6 82.1,353.5 81.9,353.4 81.7,353.2 81.5,353.1 81.3,353.0 81.1,352.7 80.9,352.2 80.7,351.6 80.5,351.1 80.3,350.6 80.1,350.1 79.9,349.6 79.7,349.0 79.5,348.5 79.3,348.0 79.1,347.5 78.9,346.9 78.7,346.4 78.5,345.9" fill="#90b4d4" fill-opacity="1"/>
<polygon points="111.5,365.7 111.7,366.4 111.9,367.2 112.1,368.0 112.3,368.9 112.5,369.7 112.7,370.5 112.9,371.4 113.1,372.2 113.3,373.0 113.5,373.9 113.7,374.7 113.9,375.5 114.1,376.4 114.3,376.4 114.5,376.3 114.7,376.3 114.9,376.2 115.1,376.2 115.3,376.1 115.5,376.1 115.7,376.1 115.9,376.0 116.1,376.0 116.3,375.9 116.5,375.9 116.7,375.8 116.9,375.7 117.1,375.2 117.3,374.8 117.5,374.4 117.7,373.9 117.9,373.5 118.1,373.1 118.3,372.6 118.5,372.2 118.7,371.7 118.9,371.3 119.1,370.9 119.3,370.4 119.5,370.0 119.7,369.3 119.9,368.4 120.1,367.5 120.3,366.6 120.5,365.8 120.7,364.9 120.9,364.0 121.1,363.1 121.3,362.2 121.5,361.3 121.7,360.5 121.9,359.6 122.1,358.7 122.3,357.8 122.5,358.9 122.7,360.2 122.9,361.5 123.1,362.8 123.3,364.1 123.5,365.5 123.7,366.8 123.9,368.1 124.1,369.4 124.3,370.8 124.5,372.1 124.7,373.4 124.9,374.7 125.1,375.5 125.3,374.2 125.5,372.8 125.7,371.4 125.9,370.1 126.1,368.7 126.3,367.3 126.5,365.9 126.7,364.6 126.9,363.2 127.1,361.8 127.3,360.4 127.5,359.1 127.7,357.7 127.9,357.4 128.1,358.3 128.3,359.1 128.5,360.0 128.7,360.8 128.9,361.7 129.1,362.5 129.3,363.3 129.5,364.2 129.7,365.0 129.9,365.9 130.1,366.7 130.3,367.6 130.5,368.4 130.7,369.5 130.9,370.7 131.1,371.9 131.3,373.1 131.5,374.3 131.7,375.5 131.9,376.6 132.1,377.8 132.3,379.0 132.5,380.2 132.7,381.4 132.9,382.6 133.1,383.7 133.3,384.6 133.5,382.4 133.7,380.3 133.9,378.1 134.1,376.0 134.3,373.8 134.5,371.7 134.7,369.5 134.9,367.4 135.1,365.2 135.3,363.0 135.5,360.9 135.7,358.7 135.9,356.6 136.1,353.9 136.3,351.1 136.3,351.1 136.1,352.2 135.9,352.4 135.7,352.6 135.5,352.8 135.3,352.9 135.1,353.1 134.9,353.3 134.7,353.5 134.5,353.6 134.3,353.8 134.1,354.0 133.9,354.2 133.7,354.3 133.5,354.5 133.3,354.7 133.1,354.2 132.9,353.5 132.7,352.8 132.5,352.1 132.3,351.4 132.1,350.7 131.9,350.0 131.7,349.3 131.5,348.6 131.3,347.9 131.1,347.2 130.9,346.5 130.7,345.8 130.5,345.1 130.3,345.4 130.1,345.9 129.9,346.3 129.7,346.7 129.5,347.1 129.3,347.5 129.1,347.9 128.9,348.3 128.7,348.7 128.5,349.1 128.3,349.5 128.1,349.9 127.9,350.4 127.7,350.8 127.5,351.1 127.3,351.5 127.1,351.9 126.9,352.3 126.7,352.7 126.5,353.1 126.3,353.5 126.1,353.9 125.9,354.3 125.7,354.7 125.5,355.1 125.3,355.4 125.1,355.8 124.9,355.0 124.7,354.0 124.5,352.9 124.3,351.8 124.1,350.7 123.9,349.6 123.7,348.5 123.5,347.4 123.3,346.4 123.1,345.3 122.9,344.2 122.7,343.1 122.5,342.0 122.3,340.9 122.1,341.6 121.9,342.4 121.7,343.3 121.5,344.1 121.3,344.9 121.1,345.7 120.9,346.5 120.7,347.3 120.5,348.2 120.3,349.0 120.1,349.8 119.9,350.6 119.7,351.4 119.5,352.4 119.3,353.4 119.1,354.5 118.9,355.5 118.7,356.6 118.5,357.6 118.3,358.7 118.1,359.7 117.9,360.8 117.7,361.8 117.5,362.8 117.3,363.9 117.1,364.9 116.9,366.0 116.7,365.9 116.5,365.6 116.3,365.2 116.1,364.9 115.9,364.6 115.7,364.2 115.5,363.9 115.3,363.6 115.1,363.2 114.9,362.9 114.7,362.6 114.5,362.3 114.3,361.9 114.1,361.6 113.9,361.9 113.7,362.2 113.5,362.6 113.3,362.9 113.1,363.2 112.9,363.5 112.7,363.9 112.5,364.2 112.3,364.5 112.1,364.9 111.9,365.2 111.7,365.5 111.5,365.7" fill="#90b4d4" fill-opacity="1"/>
<polygon points="145.1,344.9 145.3,347.0 145.5,349.3 145.7,351.6 145.9,353.9 146.1,356.2 146.3,358.5 146.5,360.8 146.7,363.0 146.9,365.3 147.1,364.0 147.3,360.4 147.5,356.9 147.7,353.3 147.9,350.0 147.9,350.0 147.7,349.8 147.5,349.3 147.3,348.8 147.1,348.3 146.9,347.9 146.7,347.6 146.5,347.3 146.3,347.0 146.1,346.7 145.9,346.4 145.7,346.1 145.5,345.8 145.3,345.5 145.1,344.9" fill="#90b4d4" fill-opacity="1"/>
<polygon points="153.3,334.8 153.5,337.3 153.7,339.9 153.9,342.4 154.1,345.0 154.3,347.5 154.5,350.1 154.7,352.6 154.9,355.2 155.1,357.7 155.3,357.9 155.5,356.0 155.7,354.1 155.9,352.2 156.1,350.3 156.3,348.4 156.5,346.5 156.7,344.6 156.9,342.7 157.1,340.9 157.3,339.0 157.5,337.1 157.7,335.2 157.9,333.3 158.1,333.9 158.3,334.9 158.5,335.9 158.7,336.9 158.9,338.0 159.1,339.0 159.3,340.0 159.5,341.0 159.7,342.0 159.9,343.1 160.1,344.1 160.3,345.1 160.5,346.1 160.7,346.9 160.9,346.2 161.1,345.6 161.3,344.9 161.5,344.3 161.7,343.6 161.9,343.0 162.1,342.3 162.3,341.6 162.5,341.0 162.7,340.3 162.9,339.7 163.1,339.0 163.3,338.4 163.5,338.2 163.7,338.6 163.9,339.1 164.1,339.5 164.3,340.0 164.5,340.4 164.7,340.8 164.9,341.3 165.1,341.7 165.3,342.1 165.5,342.6 165.7,343.0 165.9,343.5 166.1,343.9 166.3,343.8 166.5,343.6 166.7,343.4 166.9,343.2 167.1,343.0 167.3,342.7 167.5,342.5 167.7,342.3 167.9,342.1 168.1,341.9 168.3,341.6 168.5,341.4 168.7,341.2 168.9,341.0 169.1,340.8 169.3,340.6 169.5,340.4 169.7,340.3 169.9,340.1 170.1,339.9 170.3,339.7 170.5,339.5 170.7,339.3 170.9,339.2 171.1,339.0 171.3,338.8 171.5,338.6 171.7,338.3 171.9,337.7 172.1,337.2 172.3,336.7 172.5,336.1 172.7,335.6 172.9,335.0 173.1,334.5 173.3,333.9 173.5,333.4 173.7,332.8 173.9,332.3 174.1,331.7 174.3,331.2 174.5,331.4 174.7,332.1 174.9,332.8 175.1,333.4 175.3,334.1 175.5,334.7 175.7,335.4 175.9,336.0 176.1,336.7 176.3,337.4 176.5,338.0 176.7,338.7 176.9,339.3 177.1,340.0 177.3,341.8 177.5,343.7 177.7,345.6 177.9,347.4 178.1,349.3 178.3,351.2 178.5,353.0 178.7,354.9 178.9,356.8 179.1,358.7 179.3,360.5 179.5,362.4 179.7,364.3 179.9,364.7 180.1,361.7 180.3,358.7 180.5,355.7 180.7,352.7 180.9,349.7 181.1,346.7 181.3,343.7 181.5,340.7 181.7,337.7 181.9,334.7 182.1,331.7 182.3,328.7 182.5,325.7 182.7,325.9 182.9,328.3 183.1,330.7 183.3,333.0 183.5,335.4 183.7,337.8 183.9,340.2 184.1,342.6 184.3,344.9 184.5,347.3 184.7,349.7 184.9,352.1 185.1,354.5 185.3,356.9 185.5,355.9 185.7,354.5 185.9,353.2 186.1,351.8 186.3,350.5 186.5,349.1 186.7,347.7 186.9,346.4 187.1,345.0 187.3,343.7 187.5,342.3 187.7,340.9 187.9,339.6 188.1,338.5 188.1,338.5 187.9,339.3 187.7,339.7 187.5,340.0 187.3,340.4 187.1,340.8 186.9,341.1 186.7,341.5 186.5,341.8 186.3,342.2 186.1,342.6 185.9,342.9 185.7,343.3 185.5,343.7 185.3,343.9 185.1,342.5 184.9,341.1 184.7,339.7 184.5,338.3 184.3,336.9 184.1,335.5 183.9,334.1 183.7,332.8 183.5,331.4 183.3,330.0 183.1,328.6 182.9,327.2 182.7,325.8 182.5,325.0 182.3,324.9 182.1,324.8 181.9,324.8 181.7,324.7 181.5,324.6 181.3,324.5 181.1,324.5 180.9,324.4 180.7,324.3 180.5,324.2 180.3,324.2 180.1,324.1 179.9,324.0 179.7,324.7 179.5,325.6 179.3,326.6 179.1,327.5 178.9,328.5 178.7,329.4 178.5,330.4 178.3,331.3 178.1,332.3 177.9,333.2 177.7,334.2 177.5,335.1 177.3,336.1 177.1,337.0 176.9,336.1 176.7,335.2 176.5,334.4 176.3,333.5 176.1,332.6 175.9,331.7 175.7,330.8 175.5,330.0 175.3,329.1 175.1,328.2 174.9,327.3 174.7,326.5 174.5,325.6 174.3,325.3 174.1,326.3 173.9,327.2 173.7,328.2 173.5,329.1 173.3,330.1 173.1,331.0 172.9,332.0 172.7,332.9 172.5,333.9 172.3,334.8 172.1,335.8 171.9,336.7 171.7,337.6 171.5,337.9 171.3,337.8 171.1,337.7 170.9,337.6 170.7,337.5 170.5,337.4 170.3,337.3 170.1,337.2 169.9,337.1 169.7,336.9 169.5,336.8 169.3,336.7 169.1,336.6 168.9,336.5 168.7,336.2 168.5,335.8 168.3,335.4 168.1,335.1 167.9,334.7 167.7,334.3 167.5,334.0 167.3,333.6 167.1,333.2 166.9,332.9 166.7,332.5 166.5,332.1 166.3,331.8 166.1,331.6 165.9,332.0 165.7,332.3 165.5,332.7 165.3,333.0 165.1,333.4 164.9,333.8 164.7,334.1 164.5,334.5 164.3,334.9 164.1,335.2 163.9,335.6 163.7,336.0 163.5,336.3 163.3,336.4 163.1,336.2 162.9,335.9 162.7,335.7 162.5,335.5 162.3,335.3 162.1,335.1 161.9,334.8 161.7,334.6 161.5,334.4 161.3,334.2 161.1,334.0 160.9,333.8 160.7,333.5 160.5,333.3 160.3,333.0 160.1,332.7 159.9,332.4 159.7,332.1 159.5,331.8 159.3,331.5 159.1,331.2 158.9,330.9 158.7,330.6 158.5,330.3 158.3,330.0 158.1,329.7 157.9,329.5 157.7,329.8 157.5,330.1 157.3,330.4 157.1,330.7 156.9,331.0 156.7,331.3 156.5,331.6 156.3,331.9 156.1,332.2 155.9,332.5 155.7,332.8 155.5,333.1 155.3,333.3 155.1,333.6 154.9,333.7 154.7,333.9 154.5,334.0 154.3,334.2 154.1,334.3 153.9,334.4 153.7,334.6 153.5,334.7 153.3,334.8" fill="#90b4d4" fill-opacity="1"/>
<polygon points="241.9,309.4 242.1,310.4 242.3,312.1 242.5,313.8 242.7,315.5 242.9,316.5 243.1,315.9 243.3,315.3 243.5,314.7 243.7,314.1 243.9,313.5 244.1,312.9 244.3,312.3 244.5,311.7 244.7,311.1 244.9,310.5 245.1,309.9 245.3,309.3 245.5,308.7 245.7,307.9 245.7,307.9 245.5,308.4 245.3,308.6 245.1,308.8 244.9,309.0 244.7,309.2 244.5,309.4 244.3,309.6 244.1,309.8 243.9,310.0 243.7,310.2 243.5,310.4 243.3,310.6 243.1,310.8 242.9,311.0 242.7,311.0 242.5,310.8 242.3,310.5 242.1,310.3 241.9,309.4" fill="#90b4d4" fill-opacity="1"/>
<polygon points="261.1,299.3 261.3,300.1 261.5,301.4 261.7,302.8 261.9,304.1 262.1,305.6 262.3,307.3 262.5,309.0 262.7,310.8 262.9,312.5 263.1,314.2 263.3,316.0 263.5,317.7 263.7,319.5 263.9,321.2 264.1,322.9 264.3,324.7 264.5,326.4 264.7,328.1 264.9,327.7 265.1,326.6 265.3,325.4 265.5,324.2 265.7,323.0 265.9,321.9 266.1,320.7 266.3,319.5 266.5,318.3 266.7,317.1 266.9,316.0 267.1,314.8 267.3,313.6 267.5,312.5 267.7,311.6 267.9,310.7 268.1,309.9 268.3,309.0 268.5,308.1 268.7,307.2 268.9,306.4 269.1,305.5 269.3,304.6 269.5,303.8 269.7,302.9 269.9,302.0 270.1,301.2 270.3,300.9 270.5,301.6 270.7,302.3 270.9,303.0 271.1,303.7 271.3,304.4 271.5,305.1 271.7,305.9 271.9,306.6 272.1,307.3 272.3,308.0 272.5,308.7 272.7,309.4 272.9,310.2 273.1,311.6 273.3,313.4 273.5,315.3 273.7,317.1 273.9,319.0 274.1,320.8 274.3,322.6 274.5,324.5 274.7,326.3 274.9,328.2 275.1,330.0 275.3,331.8 275.5,333.7 275.7,335.5 275.9,335.5 276.1,335.3 276.3,335.1 276.5,335.0 276.7,334.8 276.9,334.7 277.1,334.5 277.3,334.4 277.5,334.2 277.7,334.1 277.9,333.9 278.1,333.8 278.3,333.6 278.5,333.7 278.7,334.3 278.9,334.9 279.1,335.5 279.3,336.1 279.5,336.8 279.7,337.4 279.9,338.0 280.1,338.6 280.3,339.3 280.5,339.9 280.7,340.5 280.9,341.1 281.1,341.7 281.3,340.9 281.5,338.9 281.7,336.9 281.9,334.9 282.1,332.9 282.3,330.9 282.5,328.9 282.7,326.9 282.9,324.9 283.1,322.9 283.3,320.9 283.5,318.9 283.7,316.9 283.9,314.9 284.1,315.6 284.3,316.8 284.5,318.0 284.7,319.2 284.9,320.3 285.1,321.5 285.3,322.7 285.5,323.9 285.7,325.0 285.9,326.2 286.1,327.4 286.3,328.6 286.5,329.7 286.7,330.2 286.9,327.6 287.1,325.0 287.3,322.4 287.5,319.8 287.7,317.2 287.9,314.6 288.1,312.0 288.3,309.4 288.5,306.8 288.7,304.2 288.9,301.6 289.1,298.9 289.3,296.3 289.5,294.1 289.7,292.8 289.7,292.8 289.5,293.7 289.3,293.9 289.1,293.9 288.9,293.9 288.7,293.9 288.5,293.9 288.3,293.9 288.1,293.9 287.9,293.9 287.7,293.9 287.5,293.9 287.3,293.9 287.1,293.9 286.9,293.9 286.7,293.9 286.5,293.5 286.3,293.1 286.1,292.6 285.9,292.1 285.7,291.7 285.5,291.2 285.3,290.8 285.1,290.3 284.9,289.8 284.7,289.4 284.5,288.9 284.3,288.5 284.1,288.0 283.9,287.7 283.7,288.1 283.5,288.5 283.3,288.9 283.1,289.3 282.9,289.7 282.7,290.1 282.5,290.5 282.3,290.9 282.1,291.3 281.9,291.7 281.7,292.1 281.5,292.6 281.3,293.0 281.1,293.2 280.9,293.1 280.7,293.0 280.5,292.8 280.3,292.7 280.1,292.6 279.9,292.5 279.7,292.4 279.5,292.3 279.3,292.2 279.1,292.1 278.9,292.0 278.7,291.9 278.5,291.8 278.3,292.1 278.1,292.4 277.9,292.8 277.7,293.1 277.5,293.5 277.3,293.9 277.1,294.2 276.9,294.6 276.7,294.9 276.5,295.3 276.3,295.6 276.1,296.0 275.9,296.4 275.7,296.7 275.5,297.4 275.3,298.0 275.1,298.7 274.9,299.3 274.7,299.9 274.5,300.6 274.3,301.2 274.1,301.9 273.9,302.5 273.7,303.2 273.5,303.8 273.3,304.4 273.1,305.1 272.9,305.3 272.7,304.8 272.5,304.4 272.3,303.9 272.1,303.4 271.9,302.9 271.7,302.4 271.5,301.9 271.3,301.4 271.1,300.9 270.9,300.4 270.7,299.9 270.5,299.5 270.3,299.0 270.1,298.7 269.9,298.5 269.7,298.4 269.5,298.2 269.3,298.1 269.1,297.9 268.9,297.8 268.7,297.6 268.5,297.5 268.3,297.3 268.1,297.2 267.9,297.0 267.7,296.9 267.5,296.7 267.3,296.7 267.1,296.7 266.9,296.7 266.7,296.7 266.5,296.7 266.3,296.7 266.1,296.7 265.9,296.7 265.7,296.7 265.5,296.7 265.3,296.7 265.1,296.7 264.9,296.7 264.7,296.7 264.5,296.5 264.3,296.4 264.1,296.2 263.9,296.0 263.7,295.9 263.5,295.7 263.3,295.6 263.1,295.4 262.9,295.3 262.7,295.1 262.5,295.0 262.3,294.8 262.1,294.7 261.9,295.2 261.7,296.4 261.5,297.5 261.3,298.6 261.1,299.3" fill="#90b4d4" fill-opacity="1"/>
<polygon points="295.5,291.3 295.7,292.3 295.9,293.5 296.1,294.6 296.3,295.8 296.5,296.9 296.7,298.1 296.9,299.2 297.1,300.4 297.3,301.6 297.5,302.7 297.7,304.0 297.9,305.6 298.1,307.2 298.3,308.8 298.5,310.4 298.7,312.0 298.9,313.5 299.1,315.1 299.3,316.7 299.5,318.3 299.7,319.9 299.9,321.5 300.1,323.0 300.3,324.6 300.5,323.8 300.7,322.0 300.9,320.1 301.1,318.3 301.3,316.5 301.5,314.6 301.7,312.8 301.9,311.0 302.1,309.1 302.3,307.3 302.5,305.5 302.7,303.6 302.9,301.8 303.1,300.0 303.3,298.9 303.5,297.9 303.7,296.8 303.9,295.8 304.1,294.7 304.3,293.6 304.5,292.6 304.7,291.5 304.9,290.5 305.1,289.4 305.3,288.3 305.5,287.3 305.7,286.2 305.9,285.8 306.1,286.7 306.3,287.7 306.5,288.6 306.7,289.6 306.9,290.5 307.1,291.5 307.3,292.4 307.5,293.4 307.7,294.3 307.9,295.3 308.1,296.2 308.3,297.2 308.5,298.1 308.7,297.9 308.9,296.8 309.1,295.8 309.3,294.8 309.5,293.8 309.7,292.8 309.9,291.7 310.1,290.7 310.3,289.7 310.5,288.7 310.7,287.6 310.9,286.6 311.1,285.6 311.3,284.6 311.5,285.3 311.7,286.1 311.9,287.0 312.1,287.8 312.3,288.6 312.5,289.5 312.7,290.3 312.9,291.2 313.1,292.0 313.3,292.8 313.5,293.7 313.7,294.5 313.9,295.4 314.1,296.2 314.3,297.0 314.5,297.9 314.7,298.7 314.9,299.6 315.1,300.4 315.3,301.3 315.5,302.1 315.7,303.0 315.9,303.8 316.1,304.7 316.3,305.5 316.5,306.4 316.7,307.2 316.9,306.2 317.1,303.5 317.3,300.8 317.5,298.2 317.7,295.5 317.9,292.8 318.1,290.1 318.3,287.5 318.5,284.8 318.7,282.1 318.9,279.4 319.1,276.8 319.3,274.1 319.5,272.1 319.5,272.1 319.3,272.9 319.1,272.9 318.9,273.0 318.7,273.0 318.5,273.1 318.3,273.1 318.1,273.2 317.9,273.2 317.7,273.3 317.5,273.3 317.3,273.4 317.1,273.4 316.9,273.5 316.7,273.8 316.5,274.3 316.3,274.9 316.1,275.5 315.9,276.0 315.7,276.6 315.5,277.2 315.3,277.8 315.1,278.3 314.9,278.9 314.7,279.5 314.5,280.0 314.3,280.6 314.1,281.2 313.9,281.4 313.7,281.5 313.5,281.6 313.3,281.7 313.1,281.8 312.9,281.9 312.7,282.0 312.5,282.1 312.3,282.2 312.1,282.3 311.9,282.4 311.7,282.5 311.5,282.6 311.3,282.8 311.1,283.8 310.9,284.8 310.7,285.8 310.5,286.9 310.3,287.9 310.1,288.9 309.9,289.9 309.7,291.0 309.5,292.0 309.3,293.0 309.1,294.0 308.9,295.0 308.7,296.1 308.5,296.4 308.3,295.5 308.1,294.6 307.9,293.8 307.7,292.9 307.5,292.0 307.3,291.2 307.1,290.3 306.9,289.4 306.7,288.5 306.5,287.7 306.3,286.8 306.1,285.9 305.9,285.1 305.7,285.1 305.5,285.6 305.3,286.0 305.1,286.5 304.9,287.0 304.7,287.4 304.5,287.9 304.3,288.3 304.1,288.8 303.9,289.3 303.7,289.7 303.5,290.2 303.3,290.6 303.1,291.1 302.9,291.7 302.7,292.3 302.5,292.9 302.3,293.5 302.1,294.2 301.9,294.8 301.7,295.4 301.5,296.0 301.3,296.6 301.1,297.2 300.9,297.8 300.7,298.5 300.5,299.1 300.3,299.4 300.1,299.1 299.9,298.8 299.7,298.5 299.5,298.2 299.3,297.9 299.1,297.6 298.9,297.3 298.7,297.0 298.5,296.6 298.3,296.3 298.1,296.0 297.9,295.7 297.7,295.4 297.5,295.1 297.3,294.7 297.1,294.4 296.9,294.0 296.7,293.7 296.5,293.3 296.3,292.9 296.1,292.6 295.9,292.2 295.7,291.9 295.5,291.3" fill="#90b4d4" fill-opacity="1"/>
<polygon points="325.7,276.2 325.9,278.2 326.1,281.3 326.3,284.4 326.5,287.5 326.7,290.6 326.9,293.7 327.1,296.8 327.3,299.9 327.5,303.0 327.7,306.1 327.9,305.3 328.1,303.1 328.3,300.9 328.5,298.7 328.7,296.5 328.9,294.3 329.1,292.2 329.3,290.0 329.5,287.8 329.7,285.9 329.7,285.9 329.5,285.8 329.3,285.5 329.1,285.1 328.9,284.8 328.7,284.4 328.5,284.0 328.3,283.7 328.1,283.3 327.9,283.0 327.7,282.6 327.5,282.1 327.3,281.5 327.1,281.0 326.9,280.5 326.7,280.0 326.5,279.5 326.3,278.9 326.1,278.4 325.9,277.9 325.7,276.2" fill="#90b4d4" fill-opacity="1"/>
<polygon points="361.1,265.0 361.3,266.0 361.5,267.5 361.7,268.9 361.9,270.4 362.1,271.9 362.3,273.4 362.5,274.8 362.7,276.3 362.9,277.8 363.1,279.2 363.3,280.7 363.5,282.6 363.7,284.6 363.9,286.6 364.1,288.7 364.3,290.7 364.5,292.8 364.7,294.8 364.9,296.8 365.1,298.9 365.3,300.9 365.5,302.9 365.7,305.0 365.9,307.0 366.1,309.0 366.3,307.9 366.5,306.9 366.7,305.8 366.9,304.7 367.1,303.7 367.3,302.6 367.5,301.6 367.7,300.5 367.9,299.4 368.1,298.4 368.3,297.3 368.5,296.3 368.7,295.2 368.9,294.1 369.1,292.8 369.3,291.4 369.5,290.1 369.7,288.8 369.9,287.5 370.1,286.2 370.3,284.9 370.5,283.6 370.7,282.2 370.9,280.9 371.1,279.6 371.3,278.3 371.5,277.0 371.7,278.2 371.9,280.9 372.1,283.5 372.3,286.2 372.5,288.9 372.7,291.5 372.9,294.2 373.1,296.8 373.3,299.5 373.5,302.2 373.7,304.8 373.9,307.5 374.1,310.2 374.3,312.8 374.5,311.5 374.7,309.9 374.9,308.3 375.1,306.7 375.3,305.1 375.5,303.5 375.7,301.9 375.9,300.2 376.1,298.6 376.3,297.0 376.5,295.4 376.7,293.8 376.9,292.2 377.1,290.7 377.3,289.3 377.5,287.9 377.7,286.5 377.9,285.1 378.1,283.7 378.3,282.3 378.5,280.9 378.7,279.6 378.9,278.2 379.1,276.8 379.3,275.4 379.5,274.0 379.7,272.6 379.9,271.7 380.1,271.0 380.3,270.4 380.5,269.8 380.7,269.2 380.9,268.6 381.1,268.1 381.1,268.1 380.9,267.9 380.7,267.5 380.5,267.1 380.3,266.7 380.1,266.2 379.9,265.8 379.7,265.9 379.5,266.7 379.3,267.5 379.1,268.3 378.9,269.0 378.7,269.8 378.5,270.6 378.3,271.4 378.1,272.1 377.9,272.9 377.7,273.7 377.5,274.5 377.3,275.2 377.1,276.0 376.9,275.8 376.7,275.3 376.5,274.8 376.3,274.3 376.1,273.8 375.9,273.3 375.7,272.7 375.5,272.2 375.3,271.7 375.1,271.2 374.9,270.7 374.7,270.2 374.5,269.7 374.3,269.2 374.1,268.7 373.9,268.1 373.7,267.6 373.5,267.1 373.3,266.6 373.1,266.1 372.9,265.5 372.7,265.0 372.5,264.5 372.3,264.0 372.1,263.5 371.9,262.9 371.7,262.4 371.5,261.8 371.3,261.0 371.1,260.2 370.9,259.3 370.7,258.5 370.5,257.7 370.3,256.9 370.1,256.1 369.9,255.3 369.7,254.4 369.5,253.6 369.3,252.8 369.1,252.0 368.9,251.2 368.7,251.3 368.5,251.8 368.3,252.4 368.1,253.0 367.9,253.5 367.7,254.1 367.5,254.7 367.3,255.2 367.1,255.8 366.9,256.3 366.7,256.9 366.5,257.5 366.3,258.0 366.1,258.6 365.9,258.3 365.7,258.0 365.5,257.7 365.3,257.4 365.1,257.1 364.9,256.8 364.7,256.5 364.5,256.2 364.3,255.8 364.1,255.5 363.9,255.2 363.7,254.9 363.5,254.6 363.3,254.7 363.1,255.7 362.9,256.6 362.7,257.6 362.5,258.6 362.3,259.6 362.1,260.6 361.9,261.6 361.7,262.6 361.5,263.5 361.3,264.5 361.1,265.0" fill="#90b4d4" fill-opacity="1"/>
<polygon points="417.3,243.5 417.5,243.4 417.7,244.2 417.9,245.0 418.1,245.9 418.3,248.5 418.5,251.5 418.7,254.5 418.9,257.5 419.1,260.6 419.3,263.6 419.5,266.6 419.7,269.6 419.9,272.7 420.1,275.7 420.3,278.7 420.5,281.7 420.7,284.8 420.9,287.3 421.1,286.5 421.3,285.8 421.5,285.0 421.7,284.2 421.9,283.5 422.1,282.7 422.3,281.9 422.5,281.2 422.7,280.4 422.9,279.6 423.1,278.9 423.3,278.1 423.5,277.3 423.7,276.8 423.9,276.6 424.1,276.4 424.3,276.2 424.5,276.0 424.7,275.8 424.9,275.5 425.1,275.3 425.3,275.1 425.5,274.9 425.7,274.7 425.9,274.5 426.1,274.3 426.3,274.1 426.5,272.8 426.7,271.2 426.9,269.5 427.1,267.9 427.3,266.3 427.5,264.6 427.7,263.0 427.9,261.3 428.1,259.7 428.3,258.1 428.5,256.4 428.7,254.8 428.9,253.2 429.1,251.6 429.3,251.1 429.5,250.7 429.7,250.2 429.9,249.7 430.1,249.3 430.3,248.8 430.5,248.4 430.7,247.9 430.9,247.4 431.1,247.0 431.3,246.5 431.5,246.1 431.7,245.6 431.9,245.4 432.1,245.6 432.3,245.8 432.5,246.0 432.7,246.2 432.9,246.4 433.1,246.6 433.3,246.8 433.5,247.0 433.7,247.2 433.9,247.4 434.1,247.6 434.3,247.8 434.5,248.0 434.7,248.7 434.9,249.6 435.1,250.5 435.3,251.5 435.5,252.4 435.7,253.3 435.9,254.2 436.1,255.1 436.3,256.1 436.5,257.0 436.7,257.9 436.9,258.8 437.1,259.7 437.3,260.7 437.5,260.1 437.7,259.5 437.9,258.9 438.1,258.3 438.3,257.7 438.5,257.0 438.7,256.4 438.9,255.8 439.1,255.2 439.3,254.6 439.5,254.0 439.7,253.4 439.9,252.8 440.1,252.2 440.3,251.7 440.5,251.1 440.7,250.6 440.9,250.1 441.1,249.6 441.3,249.1 441.5,248.6 441.7,248.1 441.9,247.6 442.1,247.1 442.3,246.5 442.5,246.0 442.7,245.5 442.9,244.9 443.1,244.3 443.3,243.6 443.5,242.9 443.7,242.3 443.9,241.6 444.1,240.9 444.3,240.3 444.5,239.6 444.7,238.9 444.9,238.3 445.1,237.6 445.3,237.1 445.3,237.1 445.1,237.4 444.9,237.7 444.7,238.0 444.5,238.2 444.3,238.5 444.1,238.7 443.9,239.0 443.7,239.2 443.5,239.5 443.3,239.7 443.1,240.0 442.9,240.3 442.7,240.5 442.5,240.8 442.3,241.0 442.1,241.3 441.9,241.5 441.7,241.8 441.5,242.0 441.3,242.3 441.1,242.6 440.9,242.8 440.7,243.1 440.5,243.3 440.3,243.6 440.1,243.8 439.9,244.0 439.7,244.2 439.5,244.3 439.3,244.5 439.1,244.6 438.9,244.8 438.7,244.9 438.5,245.1 438.3,245.2 438.1,245.4 437.9,245.5 437.7,245.7 437.5,245.9 437.3,245.9 437.1,244.6 436.9,243.3 436.7,242.0 436.5,240.6 436.3,239.3 436.1,238.0 435.9,236.6 435.7,235.3 435.5,234.0 435.3,232.7 435.1,231.3 434.9,230.0 434.7,228.7 434.5,227.8 434.3,227.9 434.1,228.0 433.9,228.1 433.7,228.2 433.5,228.3 433.3,228.4 433.1,228.6 432.9,228.7 432.7,228.8 432.5,228.9 432.3,229.0 432.1,229.1 431.9,229.2 431.7,229.2 431.5,229.3 431.3,229.3 431.1,229.4 430.9,229.4 430.7,229.5 430.5,229.5 430.3,229.6 430.1,229.6 429.9,229.7 429.7,229.7 429.5,229.8 429.3,229.8 429.1,229.9 428.9,230.1 428.7,230.4 428.5,230.7 428.3,230.9 428.1,231.2 427.9,231.4 427.7,231.7 427.5,231.9 427.3,232.2 427.1,232.4 426.9,232.7 426.7,233.0 426.5,233.2 426.3,233.5 426.1,233.7 425.9,233.9 425.7,234.1 425.5,234.3 425.3,234.5 425.1,234.7 424.9,234.9 424.7,235.1 424.5,235.3 424.3,235.5 424.1,235.7 423.9,235.9 423.7,236.1 423.5,236.2 423.3,236.1 423.1,236.1 422.9,236.0 422.7,236.0 422.5,235.9 422.3,235.9 422.1,235.8 421.9,235.8 421.7,235.7 421.5,235.7 421.3,235.6 421.1,235.6 420.9,235.5 420.7,235.7 420.5,235.9 420.3,236.1 420.1,236.3 419.9,236.5 419.7,236.7 419.5,236.9 419.3,237.1 419.1,237.3 418.9,237.5 418.7,237.7 418.5,237.9 418.3,238.1 418.1,238.6 417.9,240.0 417.7,241.5 417.5,243.0 417.3,243.5" fill="#90b4d4" fill-opacity="1"/>
<polygon points="460.5,229.3 460.7,229.8 460.9,230.6 461.1,231.4 461.3,232.2 461.5,233.0 461.7,233.8 461.9,234.6 462.1,234.5 462.3,234.1 462.5,233.7 462.7,233.3 462.9,232.9 463.1,232.5 463.3,232.1 463.5,231.7 463.7,231.2 463.9,230.8 464.1,230.4 464.3,230.0 464.5,229.6 464.7,229.2 464.9,230.3 465.1,231.4 465.3,232.4 465.5,233.5 465.7,234.6 465.9,235.6 466.1,236.7 466.3,237.8 466.5,238.9 466.7,239.9 466.9,241.0 467.1,242.1 467.3,243.2 467.5,243.7 467.7,243.0 467.9,242.4 468.1,241.7 468.3,241.0 468.5,240.4 468.7,239.7 468.9,239.0 469.1,238.4 469.3,237.7 469.5,237.0 469.7,236.4 469.9,235.7 470.1,235.1 470.3,234.2 470.5,233.2 470.7,232.2 470.9,231.2 471.1,230.1 471.3,229.1 471.5,228.1 471.7,227.1 471.9,226.1 472.1,225.1 472.3,224.1 472.5,223.1 472.7,222.1 472.9,221.1 473.1,220.3 473.3,219.6 473.5,218.9 473.7,218.1 473.9,217.4 474.1,216.7 474.3,215.9 474.5,215.2 474.7,214.5 474.9,213.8 475.1,213.0 475.3,212.3 475.5,211.6 475.7,210.9 475.9,210.6 476.1,210.4 476.3,210.1 476.3,210.1 476.1,210.1 475.9,210.0 475.7,209.9 475.5,210.5 475.3,211.2 475.1,211.9 474.9,212.6 474.7,213.3 474.5,214.0 474.3,214.7 474.1,215.5 473.9,216.2 473.7,216.9 473.5,217.6 473.3,218.3 473.1,219.0 472.9,219.8 472.7,220.6 472.5,221.4 472.3,222.2 472.1,223.0 471.9,223.9 471.7,224.7 471.5,225.5 471.3,226.3 471.1,227.1 470.9,227.9 470.7,228.8 470.5,229.6 470.3,230.4 470.1,230.9 469.9,230.8 469.7,230.7 469.5,230.6 469.3,230.5 469.1,230.3 468.9,230.2 468.7,230.1 468.5,230.0 468.3,229.9 468.1,229.8 467.9,229.7 467.7,229.6 467.5,229.5 467.3,229.1 467.1,228.5 466.9,227.9 466.7,227.2 466.5,226.6 466.3,226.0 466.1,225.4 465.9,224.8 465.7,224.2 465.5,223.6 465.3,222.9 465.1,222.3 464.9,221.7 464.7,221.1 464.5,221.6 464.3,222.0 464.1,222.5 463.9,223.0 463.7,223.4 463.5,223.9 463.3,224.4 463.1,224.8 462.9,225.3 462.7,225.8 462.5,226.2 462.3,226.7 462.1,227.2 461.9,227.6 461.7,227.9 461.5,228.1 461.3,228.4 461.1,228.7 460.9,229.0 460.7,229.2 460.5,229.3" fill="#90b4d4" fill-opacity="1"/>
<polygon points="591.1,160.9 591.3,161.9 591.5,163.5 591.7,165.0 591.9,166.6 592.1,168.2 592.3,169.8 592.5,171.4 592.7,173.0 592.9,174.6 593.1,176.2 593.3,177.8 593.5,178.4 593.7,177.3 593.9,176.2 594.1,175.0 594.3,173.9 594.5,172.8 594.7,171.7 594.9,170.5 595.1,169.4 595.3,168.3 595.5,167.2 595.7,166.0 595.9,164.9 596.1,163.8 596.3,162.2 596.5,160.2 596.7,158.3 596.9,156.4 597.1,154.4 597.3,152.5 597.5,150.6 597.7,149.1 597.7,149.1 597.5,150.4 597.3,151.3 597.1,152.2 596.9,153.1 596.7,154.0 596.5,154.9 596.3,155.8 596.1,156.7 595.9,157.1 595.7,157.5 595.5,157.9 595.3,158.3 595.1,158.7 594.9,159.1 594.7,159.5 594.5,159.9 594.3,160.3 594.1,160.7 593.9,161.1 593.7,161.5 593.5,161.9 593.3,162.0 593.1,161.9 592.9,161.9 592.7,161.8 592.5,161.8 592.3,161.7 592.1,161.7 591.9,161.6 591.7,161.6 591.5,161.5 591.3,161.5 591.1,160.9" fill="#90b4d4" fill-opacity="1"/>
<polygon points="601.7,139.5 601.9,142.7 602.1,148.4 602.3,154.0 602.5,159.7 602.7,165.4 602.9,171.0 603.1,176.7 603.3,182.4 603.5,188.0 603.7,193.7 603.9,199.4 604.1,205.0 604.3,210.7 604.5,210.9 604.7,206.8 604.9,202.6 605.1,198.5 605.3,194.4 605.5,190.3 605.7,186.1 605.9,182.0 606.1,177.9 606.3,173.8 606.5,169.6 606.7,165.5 606.9,161.4 607.1,157.3 607.3,155.7 607.3,155.7 607.1,155.4 606.9,154.5 606.7,153.5 606.5,152.4 606.3,151.3 606.1,150.3 605.9,149.2 605.7,148.2 605.5,147.1 605.3,146.1 605.1,145.0 604.9,144.0 604.7,142.9 604.5,141.9 604.3,141.3 604.1,141.3 603.9,141.4 603.7,141.4 603.5,141.5 603.3,141.5 603.1,141.6 602.9,141.6 602.7,141.7 602.5,141.7 602.3,141.8 602.1,141.8 601.9,141.9 601.7,139.5" fill="#90b4d4" fill-opacity="1"/>
<polygon points="624.1,147.6 624.3,148.1 624.5,148.9 624.7,149.6 624.9,150.3 625.1,151.0 625.3,151.7 625.5,152.4 625.7,153.2 625.9,153.9 626.1,154.6 626.3,155.3 626.5,156.6 626.7,157.9 626.9,159.2 627.1,160.5 627.3,161.8 627.5,163.1 627.7,164.4 627.9,165.8 628.1,167.1 628.3,168.4 628.5,169.7 628.7,171.0 628.9,172.3 629.1,173.0 629.3,172.4 629.5,171.8 629.7,171.2 629.9,170.6 630.1,169.9 630.3,169.3 630.5,168.7 630.7,168.1 630.9,167.5 631.1,166.9 631.3,166.3 631.5,165.7 631.7,165.0 631.9,165.0 632.1,165.3 632.3,165.6 632.5,165.9 632.7,166.2 632.9,166.5 633.1,166.8 633.3,167.1 633.5,167.4 633.7,167.7 633.9,168.1 634.1,168.4 634.3,168.7 634.5,169.0 634.7,170.4 634.9,171.8 635.1,173.3 635.3,174.8 635.5,176.3 635.7,177.8 635.9,179.3 636.1,180.7 636.3,182.2 636.5,183.7 636.7,185.2 636.9,186.7 637.1,188.1 637.3,189.3 637.5,189.5 637.7,189.8 637.9,190.0 638.1,190.2 638.3,190.4 638.5,190.6 638.7,190.8 638.9,191.0 639.1,191.2 639.3,191.4 639.5,191.6 639.7,191.8 639.9,192.0 640.1,191.2 640.3,189.6 640.5,188.0 640.7,186.3 640.9,184.7 641.1,183.1 641.3,181.4 641.5,179.8 641.7,178.2 641.9,176.5 642.1,174.9 642.3,173.2 642.5,171.6 642.7,170.0 642.9,169.3 643.1,168.8 643.3,168.3 643.5,167.7 643.7,167.2 643.9,166.7 644.1,166.2 644.3,165.7 644.5,165.2 644.7,164.7 644.9,164.2 645.1,163.7 645.3,163.1 645.5,162.7 645.7,162.6 645.9,162.6 646.1,162.5 646.3,162.5 646.5,162.4 646.7,162.4 646.9,162.3 647.1,162.3 647.3,162.2 647.5,162.2 647.7,162.1 647.9,162.1 648.1,162.0 648.3,162.6 648.5,163.8 648.7,165.1 648.9,166.4 649.1,167.7 649.3,169.0 649.5,170.2 649.7,171.5 649.9,172.8 650.1,174.1 650.3,175.3 650.5,176.6 650.7,177.9 650.9,179.2 651.1,179.5 651.3,179.5 651.5,179.5 651.7,179.5 651.9,179.5 652.1,179.5 652.3,179.5 652.5,179.5 652.7,179.5 652.9,179.5 653.1,179.5 653.3,179.5 653.5,179.5 653.7,179.5 653.9,178.6 654.1,177.8 654.3,177.0 654.5,176.2 654.7,175.4 654.9,174.6 655.1,173.7 655.3,172.9 655.5,172.1 655.7,171.3 655.9,170.5 656.1,169.6 656.3,168.8 656.5,168.3 656.7,168.2 656.9,168.1 657.1,168.1 657.3,168.0 657.5,167.9 657.7,167.8 657.9,167.8 658.1,167.7 658.3,167.6 658.5,167.5 658.7,167.5 658.9,167.4 659.1,167.3 659.3,167.1 659.5,166.9 659.7,166.7 659.9,166.4 660.1,166.2 660.3,166.0 660.5,165.7 660.7,165.5 660.9,165.3 661.1,165.0 661.3,164.8 661.5,164.6 661.7,164.3 661.9,164.1 662.1,163.9 662.3,163.6 662.5,163.4 662.7,163.1 662.9,162.8 663.1,162.6 663.3,162.3 663.5,162.1 663.7,161.8 663.9,161.6 664.1,161.3 664.3,161.1 664.5,160.8 664.7,160.4 664.9,158.6 665.1,156.8 665.3,155.0 665.5,153.2 665.7,151.4 665.9,149.7 666.1,147.9 666.3,146.9 666.5,146.9 666.7,147.0 666.9,147.0 667.1,147.1 667.3,147.1 667.5,146.7 667.7,146.2 667.9,145.7 668.1,145.2 668.3,144.7 668.3,144.7 668.1,145.1 667.9,145.6 667.7,146.0 667.5,146.5 667.3,146.8 667.1,146.7 666.9,146.5 666.7,146.4 666.5,146.2 666.3,146.0 666.1,145.9 665.9,145.7 665.7,145.6 665.5,145.4 665.3,145.3 665.1,145.1 664.9,144.9 664.7,144.8 664.5,144.8 664.3,144.8 664.1,144.8 663.9,144.8 663.7,144.8 663.5,144.8 663.3,144.8 663.1,144.8 662.9,144.8 662.7,144.8 662.5,144.8 662.3,144.8 662.1,144.8 661.9,144.7 661.7,144.7 661.5,144.6 661.3,144.6 661.1,144.5 660.9,144.5 660.7,144.4 660.5,144.4 660.3,144.3 660.1,144.3 659.9,144.2 659.7,144.2 659.5,144.1 659.3,144.1 659.1,144.2 658.9,144.4 658.7,144.7 658.5,144.9 658.3,145.2 658.1,145.4 657.9,145.7 657.7,145.9 657.5,146.2 657.3,146.4 657.1,146.7 656.9,146.9 656.7,147.2 656.5,147.4 656.3,147.4 656.1,147.0 655.9,146.5 655.7,146.1 655.5,145.7 655.3,145.3 655.1,144.9 654.9,144.4 654.7,144.0 654.5,143.6 654.3,143.2 654.1,142.7 653.9,142.3 653.7,142.0 653.5,142.5 653.3,142.9 653.1,143.4 652.9,143.8 652.7,144.3 652.5,144.7 652.3,145.2 652.1,145.6 651.9,146.1 651.7,146.5 651.5,147.0 651.3,147.4 651.1,147.9 650.9,148.3 650.7,148.5 650.5,148.8 650.3,149.0 650.1,149.3 649.9,149.5 649.7,149.8 649.5,150.0 649.3,150.3 649.1,150.5 648.9,150.8 648.7,151.0 648.5,151.3 648.3,151.5 648.1,151.8 647.9,151.6 647.7,151.4 647.5,151.3 647.3,151.1 647.1,151.0 646.9,150.8 646.7,150.7 646.5,150.5 646.3,150.3 646.1,150.2 645.9,150.0 645.7,149.9 645.5,149.7 645.3,149.9 645.1,150.2 644.9,150.5 644.7,150.8 644.5,151.1 644.3,151.4 644.1,151.7 643.9,152.0 643.7,152.3 643.5,152.6 643.3,152.9 643.1,153.2 642.9,153.5 642.7,153.8 642.5,154.2 642.3,154.5 642.1,154.9 641.9,155.3 641.7,155.6 641.5,156.0 641.3,156.4 641.1,156.7 640.9,157.1 640.7,157.5 640.5,157.8 640.3,158.2 640.1,158.6 639.9,158.5 639.7,158.0 639.5,157.4 639.3,156.9 639.1,156.3 638.9,155.8 638.7,155.2 638.5,154.7 638.3,154.1 638.1,153.6 637.9,153.0 637.7,152.5 637.5,151.9 637.3,151.4 637.1,151.2 636.9,151.4 636.7,151.6 636.5,151.8 636.3,152.0 636.1,152.2 635.9,152.4 635.7,152.6 635.5,152.8 635.3,153.1 635.1,153.3 634.9,153.5 634.7,153.7 634.5,153.9 634.3,154.3 634.1,154.7 633.9,155.1 633.7,155.5 633.5,155.9 633.3,156.3 633.1,156.7 632.9,157.1 632.7,157.5 632.5,157.9 632.3,158.3 632.1,158.7 631.9,159.1 631.7,159.4 631.5,158.9 631.3,158.4 631.1,157.9 630.9,157.3 630.7,156.8 630.5,156.3 630.3,155.8 630.1,155.2 629.9,154.7 629.7,154.2 629.5,153.6 629.3,153.1 629.1,152.6 628.9,152.2 628.7,151.9 628.5,151.6 628.3,151.3 628.1,151.0 627.9,150.7 627.7,150.4 627.5,150.1 627.3,149.8 627.1,149.5 626.9,149.2 626.7,148.9 626.5,148.6 626.3,148.3 626.1,148.2 625.9,148.2 625.7,148.1 625.5,148.1 625.3,148.0 625.1,148.0 624.9,147.9 624.7,147.9 624.5,147.8 624.3,147.8 624.1,147.6" fill="#90b4d4" fill-opacity="1"/>
<polygon points="709.5,162.7 709.7,163.9 709.9,167.0 710.1,170.1 710.3,173.2 710.5,176.3 710.7,179.4 710.9,182.5 711.1,185.5 711.3,187.4 711.5,187.7 711.7,188.0 711.9,188.3 712.1,188.6 712.3,189.0 712.5,189.3 712.7,189.6 712.9,189.9 713.1,190.2 713.3,190.5 713.5,190.9 713.7,191.2 713.9,191.4 714.1,191.3 714.3,191.2 714.5,191.1 714.7,191.0 714.9,190.9 715.1,190.8 715.3,190.7 715.5,190.6 715.7,190.5 715.9,190.4 716.1,190.3 716.3,190.2 716.5,190.1 716.7,189.9 716.9,188.7 717.1,187.5 717.3,186.3 717.5,185.1 717.7,183.9 717.9,182.7 718.1,181.5 718.3,180.3 718.5,179.1 718.7,177.9 718.9,176.7 719.1,175.5 719.3,174.3 719.5,173.1 719.7,172.3 719.9,171.5 720.1,170.6 720.3,169.8 720.5,168.9 720.7,168.1 720.9,167.2 721.1,166.4 721.3,165.6 721.5,164.7 721.7,163.9 721.9,163.0 722.1,162.2 722.3,162.3 722.5,162.7 722.7,163.1 722.9,163.5 723.1,163.9 723.3,164.3 723.5,164.7 723.7,165.1 723.9,165.5 724.1,165.9 724.3,166.3 724.5,166.7 724.7,167.1 724.9,167.5 725.1,166.0 725.3,163.8 725.5,161.7 725.7,159.6 725.9,157.4 726.1,155.6 726.1,155.6 725.9,155.1 725.7,154.2 725.5,153.4 725.3,152.6 725.1,151.7 724.9,151.1 724.7,151.1 724.5,151.1 724.3,151.1 724.1,151.1 723.9,151.1 723.7,151.1 723.5,151.1 723.3,151.1 723.1,151.1 722.9,151.1 722.7,151.1 722.5,151.1 722.3,151.1 722.1,151.0 721.9,150.6 721.7,150.1 721.5,149.7 721.3,149.3 721.1,148.9 720.9,148.5 720.7,148.0 720.5,147.6 720.3,147.2 720.1,146.8 719.9,146.3 719.7,145.9 719.5,145.5 719.3,145.7 719.1,146.0 718.9,146.3 718.7,146.6 718.5,146.9 718.3,147.2 718.1,147.5 717.9,147.8 717.7,148.1 717.5,148.4 717.3,148.7 717.1,149.0 716.9,149.3 716.7,149.6 716.5,149.4 716.3,149.1 716.1,148.8 715.9,148.5 715.7,148.2 715.5,147.9 715.3,147.6 715.1,147.3 714.9,147.0 714.7,146.7 714.5,146.4 714.3,146.1 714.1,145.8 713.9,145.5 713.7,146.0 713.5,146.6 713.3,147.3 713.1,147.9 712.9,148.5 712.7,149.2 712.5,149.8 712.3,150.4 712.1,151.1 711.9,151.7 711.7,152.3 711.5,153.0 711.3,153.6 711.1,154.9 710.9,156.9 710.7,158.8 710.5,160.8 710.3,162.7 710.1,164.7 709.9,164.2 709.7,163.6 709.5,162.7" fill="#90b4d4" fill-opacity="1"/>
<polygon points="729.1,160.1 729.3,162.6 729.5,165.3 729.7,168.1 729.9,170.9 730.1,173.6 730.3,176.4 730.5,178.0 730.7,178.2 730.9,178.3 731.1,178.4 731.3,178.5 731.5,178.6 731.7,178.7 731.9,178.8 732.1,179.0 732.3,179.1 732.5,179.2 732.7,179.3 732.9,179.4 733.1,179.8 733.3,181.8 733.5,183.8 733.7,185.8 733.9,187.8 734.1,189.8 734.3,191.8 734.5,193.8 734.7,195.8 734.9,197.8 735.1,199.8 735.3,201.8 735.5,203.8 735.7,205.8 735.9,207.3 736.1,204.7 736.3,202.2 736.5,199.6 736.7,197.0 736.9,194.4 737.1,191.8 737.3,189.3 737.5,186.7 737.7,184.1 737.9,181.5 738.1,178.9 738.3,176.4 738.5,173.8 738.7,173.8 738.9,174.5 739.1,175.2 739.3,175.9 739.5,176.6 739.7,177.3 739.9,178.0 740.1,178.7 740.3,179.4 740.5,180.1 740.5,180.1 740.3,179.3 740.1,178.4 739.9,177.6 739.7,176.7 739.5,175.9 739.3,175.0 739.1,174.2 738.9,173.3 738.7,172.5 738.5,171.7 738.3,171.3 738.1,170.9 737.9,170.5 737.7,170.0 737.5,169.6 737.3,169.2 737.1,168.8 736.9,168.4 736.7,167.9 736.5,167.5 736.3,167.1 736.1,166.7 735.9,166.3 735.7,166.1 735.5,165.9 735.3,165.7 735.1,165.5 734.9,165.3 734.7,165.1 734.5,165.0 734.3,164.8 734.1,164.6 733.9,164.4 733.7,164.2 733.5,164.1 733.3,163.9 733.1,163.7 732.9,163.4 732.7,163.0 732.5,162.6 732.3,162.3 732.1,161.9 731.9,161.5 731.7,161.1 731.5,160.8 731.3,160.4 731.1,160.0 730.9,159.7 730.7,159.3 730.5,158.9 730.3,158.9 730.1,159.2 729.9,159.4 729.7,159.7 729.5,159.9 729.3,160.2 729.1,160.1" fill="#90b4d4" fill-opacity="1"/>
<polygon points="741.3,183.2 741.5,183.8 741.7,184.8 741.9,185.8 742.1,186.8 742.3,187.8 742.5,188.8 742.7,189.8 742.9,190.8 743.1,191.8 743.3,192.8 743.5,193.8 743.7,194.8 743.9,195.8 744.1,196.8 744.3,198.0 744.5,199.3 744.7,200.5 744.9,201.8 745.1,203.0 745.3,204.3 745.5,205.6 745.7,206.8 745.9,208.1 746.1,209.4 746.3,210.6 746.5,211.9 746.7,213.2 746.9,213.1 747.1,211.4 747.3,209.7 747.5,208.0 747.7,206.3 747.9,204.6 748.1,202.9 748.3,201.2 748.5,199.5 748.7,197.8 748.9,196.1 749.1,194.4 749.3,192.7 749.5,191.0 749.7,189.7 749.9,188.8 750.1,187.9 750.3,187.0 750.5,186.1 750.7,185.2 750.9,184.3 751.1,183.4 751.3,182.5 751.5,181.6 751.7,180.7 751.9,179.8 752.1,178.9 752.3,178.2 752.5,179.3 752.7,180.4 752.9,181.5 753.1,182.6 753.3,183.7 753.5,184.8 753.7,185.9 753.9,187.0 754.1,188.1 754.3,189.2 754.5,190.3 754.7,191.4 754.9,192.5 755.1,193.4 755.3,191.8 755.5,190.2 755.7,188.5 755.9,186.9 756.1,185.3 756.3,183.6 756.5,182.0 756.7,180.4 756.9,178.7 757.1,177.1 757.3,175.5 757.5,173.8 757.7,172.2 757.9,171.1 758.1,170.1 758.3,169.9 758.3,169.9 758.1,170.0 757.9,169.4 757.7,169.1 757.5,169.3 757.3,169.6 757.1,169.9 756.9,170.1 756.7,170.4 756.5,170.7 756.3,170.9 756.1,171.2 755.9,171.4 755.7,171.7 755.5,172.0 755.3,172.2 755.1,172.5 754.9,172.7 754.7,172.9 754.5,173.1 754.3,173.3 754.1,173.5 753.9,173.7 753.7,173.9 753.5,174.1 753.3,174.3 753.1,174.5 752.9,174.7 752.7,174.9 752.5,175.1 752.3,175.3 752.1,175.5 751.9,175.7 751.7,175.9 751.5,176.1 751.3,176.4 751.1,176.6 750.9,176.8 750.7,177.0 750.5,177.2 750.3,177.4 750.1,177.6 749.9,177.8 749.7,178.0 749.5,178.2 749.3,178.2 749.1,178.3 748.9,178.3 748.7,178.4 748.5,178.4 748.3,178.5 748.1,178.5 747.9,178.6 747.7,178.6 747.5,178.7 747.3,178.7 747.1,178.8 746.9,178.8 746.7,178.6 746.5,178.3 746.3,177.9 746.1,177.5 745.9,177.1 745.7,176.8 745.5,176.4 745.3,176.0 745.1,175.7 744.9,175.3 744.7,174.9 744.5,174.6 744.3,174.2 744.1,174.1 743.9,174.8 743.7,175.5 743.5,176.2 743.3,176.9 743.1,177.6 742.9,178.3 742.7,179.0 742.5,179.7 742.3,180.4 742.1,181.1 741.9,181.8 741.7,182.5 741.5,183.2 741.3,183.2" fill="#90b4d4" fill-opacity="1"/>
<polygon points="765.9,181.4 766.1,182.5 766.3,184.7 766.5,186.8 766.7,189.0 766.9,191.2 767.1,193.3 767.3,195.5 767.5,197.6 767.7,199.8 767.9,201.9 768.1,204.1 768.3,206.3 768.5,208.4 768.7,210.3 768.9,209.3 769.1,208.4 769.3,207.4 769.5,206.5 769.7,205.5 769.9,204.6 770.1,203.6 770.3,202.7 770.5,201.7 770.7,200.8 770.9,199.8 771.1,198.9 771.3,197.9 771.5,197.0 771.7,196.1 771.9,195.3 772.1,194.5 772.3,193.6 772.5,192.8 772.7,191.9 772.9,191.1 773.1,190.2 773.3,189.4 773.5,188.6 773.7,187.7 773.9,186.9 774.1,186.0 774.3,185.9 774.5,186.0 774.7,186.1 774.9,186.2 775.1,186.3 775.1,186.3 774.9,185.5 774.7,184.7 774.5,183.8 774.3,183.0 774.1,182.4 773.9,182.6 773.7,182.8 773.5,183.0 773.3,183.2 773.1,183.4 772.9,183.6 772.7,183.9 772.5,184.1 772.3,184.3 772.1,184.5 771.9,184.7 771.7,184.9 771.5,185.1 771.3,185.1 771.1,185.0 770.9,185.0 770.7,184.9 770.5,184.9 770.3,184.8 770.1,184.8 769.9,184.7 769.7,184.7 769.5,184.6 769.3,184.6 769.1,184.5 768.9,184.5 768.7,184.4 768.5,184.3 768.3,184.1 768.1,184.0 767.9,183.8 767.7,183.7 767.5,183.5 767.3,183.3 767.1,183.2 766.9,183.0 766.7,182.9 766.5,182.7 766.3,182.6 766.1,182.4 765.9,181.4" fill="#90b4d4" fill-opacity="1"/>
<polygon points="798.5,208.3 798.7,209.1 798.9,211.1 799.1,213.8 799.3,216.5 799.5,219.2 799.7,221.9 799.9,224.6 800.1,227.3 800.3,230.0 800.5,232.7 800.7,235.4 800.9,238.1 801.1,240.8 801.3,243.5 801.5,246.2 801.7,247.8 801.9,248.4 802.1,249.0 802.3,249.5 802.5,250.1 802.7,250.7 802.9,251.3 803.1,251.8 803.3,252.4 803.5,253.0 803.7,253.6 803.9,254.1 804.1,254.7 804.3,255.3 804.5,255.7 804.7,256.0 804.9,256.3 805.1,256.6 805.3,256.9 805.5,257.2 805.7,257.5 805.9,257.8 806.1,258.1 806.3,258.4 806.5,258.7 806.7,259.0 806.9,259.3 807.1,259.6 807.3,259.8 807.5,259.9 807.7,260.1 807.9,260.3 808.1,260.4 808.3,260.6 808.5,260.7 808.7,260.9 808.9,261.1 809.1,261.2 809.3,261.4 809.5,261.5 809.7,261.7 809.9,261.4 810.1,260.5 810.3,259.6 810.5,258.7 810.7,257.8 810.9,256.9 811.1,256.0 811.3,255.1 811.5,254.2 811.7,253.3 811.9,252.4 812.1,251.5 812.3,250.6 812.5,249.7 812.7,247.8 812.9,245.4 813.1,243.0 813.3,240.7 813.5,238.3 813.7,236.0 813.9,233.6 814.1,231.2 814.3,228.9 814.5,226.5 814.7,224.2 814.9,221.8 815.1,219.5 815.3,217.2 815.5,216.3 815.7,215.5 815.9,214.7 816.1,213.9 816.3,213.1 816.5,212.3 816.7,211.4 816.9,210.6 817.1,209.8 817.3,209.0 817.5,208.2 817.7,207.4 817.7,207.4 817.5,206.9 817.3,206.5 817.1,206.0 816.9,205.6 816.7,205.1 816.5,204.7 816.3,204.2 816.1,203.8 815.9,203.3 815.7,202.9 815.5,202.4 815.3,202.0 815.1,202.1 814.9,202.4 814.7,202.8 814.5,203.2 814.3,203.6 814.1,204.0 813.9,204.3 813.7,204.7 813.5,205.1 813.3,205.5 813.1,205.8 812.9,206.2 812.7,206.6 812.5,206.8 812.3,206.6 812.1,206.4 811.9,206.2 811.7,206.0 811.5,205.8 811.3,205.6 811.1,205.4 810.9,205.2 810.7,205.0 810.5,204.8 810.3,204.6 810.1,204.4 809.9,204.2 809.7,204.1 809.5,204.5 809.3,204.8 809.1,205.1 808.9,205.4 808.7,205.7 808.5,206.0 808.3,206.4 808.1,206.7 807.9,207.0 807.7,207.3 807.5,207.6 807.3,207.9 807.1,208.2 806.9,208.2 806.7,208.2 806.5,208.1 806.3,208.1 806.1,208.0 805.9,208.0 805.7,207.9 805.5,207.9 805.3,207.8 805.1,207.8 804.9,207.7 804.7,207.7 804.5,207.6 804.3,207.6 804.1,207.5 803.9,207.5 803.7,207.4 803.5,207.4 803.3,207.3 803.1,207.3 802.9,207.2 802.7,207.1 802.5,207.1 802.3,207.0 802.1,207.0 801.9,206.9 801.7,206.9 801.5,206.9 801.3,207.0 801.1,207.1 800.9,207.2 800.7,207.3 800.5,207.4 800.3,207.5 800.1,207.6 799.9,207.7 799.7,207.8 799.5,207.9 799.3,208.0 799.1,208.1 798.9,208.2 798.7,208.5 798.5,208.3" fill="#90b4d4" fill-opacity="1"/>
<polygon points="818.9,208.3 819.1,208.7 819.3,209.2 819.5,209.8 819.7,210.3 819.9,210.8 820.1,211.3 820.3,211.8 820.5,212.3 820.7,212.8 820.9,213.7 821.1,214.7 821.3,215.7 821.5,216.7 821.7,217.8 821.9,218.8 822.1,219.8 822.3,220.8 822.5,221.8 822.7,222.9 822.9,223.9 823.1,224.9 823.3,225.9 823.5,227.0 823.7,227.4 823.9,227.9 824.1,228.4 824.3,228.9 824.5,229.3 824.7,229.8 824.9,230.3 825.1,230.7 825.3,231.2 825.5,231.7 825.7,232.1 825.9,232.6 826.1,233.1 826.3,233.4 826.5,233.3 826.7,233.3 826.9,233.2 827.1,233.2 827.3,233.1 827.5,233.1 827.7,233.0 827.9,233.0 828.1,232.9 828.3,232.9 828.5,232.8 828.7,232.8 828.9,232.7 829.1,231.8 829.3,230.1 829.5,228.5 829.7,226.8 829.9,225.2 830.1,223.5 830.3,221.9 830.5,220.3 830.7,218.6 830.9,217.0 831.1,215.3 831.3,213.7 831.5,212.0 831.7,210.4 831.9,210.2 831.9,210.2 831.7,210.4 831.5,210.7 831.3,211.1 831.1,211.4 830.9,211.8 830.7,212.1 830.5,212.5 830.3,212.8 830.1,213.2 829.9,213.5 829.7,213.9 829.5,214.2 829.3,214.6 829.1,214.9 828.9,215.3 828.7,215.7 828.5,216.2 828.3,216.6 828.1,217.1 827.9,217.5 827.7,218.0 827.5,218.4 827.3,218.9 827.1,219.3 826.9,219.8 826.7,220.2 826.5,220.7 826.3,221.1 826.1,221.6 825.9,221.9 825.7,222.3 825.5,222.7 825.3,223.0 825.1,223.4 824.9,223.8 824.7,224.1 824.5,224.5 824.3,224.9 824.1,225.3 823.9,225.6 823.7,226.0 823.5,226.3 823.3,225.1 823.1,223.8 822.9,222.6 822.7,221.3 822.5,220.1 822.3,218.8 822.1,217.6 821.9,216.3 821.7,215.1 821.5,213.8 821.3,212.6 821.1,211.3 820.9,210.1 820.7,208.8 820.5,208.8 820.3,208.7 820.1,208.7 819.9,208.6 819.7,208.6 819.5,208.5 819.3,208.5 819.1,208.4 818.9,208.3" fill="#90b4d4" fill-opacity="1"/>
<polygon points="836.1,223.4 836.3,226.0 836.5,229.3 836.7,232.6 836.9,236.0 837.1,239.3 837.3,241.6 837.5,242.8 837.7,244.0 837.9,245.2 838.1,246.4 838.3,247.6 838.5,248.9 838.7,250.1 838.9,251.3 839.1,252.5 839.3,253.7 839.5,254.9 839.7,256.1 839.9,257.3 840.1,256.2 840.3,254.5 840.5,252.8 840.7,251.1 840.9,249.3 841.1,247.6 841.3,245.9 841.5,244.2 841.7,242.5 841.9,240.7 842.1,239.0 842.3,237.3 842.5,235.6 842.7,234.0 842.9,233.4 843.1,232.9 843.3,232.4 843.5,231.9 843.7,231.4 843.9,230.9 844.1,230.4 844.3,229.9 844.5,229.4 844.7,228.8 844.9,228.3 845.1,227.8 845.3,227.5 845.3,227.5 845.1,227.7 844.9,227.6 844.7,227.6 844.5,227.5 844.3,227.5 844.1,227.4 843.9,227.4 843.7,227.3 843.5,227.3 843.3,227.2 843.1,227.2 842.9,227.1 842.7,227.0 842.5,226.4 842.3,225.8 842.1,225.2 841.9,224.6 841.7,224.0 841.5,223.4 841.3,222.8 841.1,222.2 840.9,221.6 840.7,221.0 840.5,220.4 840.3,219.8 840.1,219.2 839.9,218.6 839.7,218.7 839.5,218.9 839.3,219.0 839.1,219.1 838.9,219.2 838.7,219.3 838.5,219.4 838.3,219.5 838.1,219.6 837.9,219.7 837.7,219.8 837.5,219.9 837.3,220.0 837.1,220.5 836.9,221.2 836.7,221.9 836.5,222.6 836.3,223.3 836.1,223.4" fill="#90b4d4" fill-opacity="1"/>
<polygon points="88.1,324.4 88.3,324.0 88.5,323.2 88.7,322.3 88.9,321.5 89.1,320.7 89.3,319.8 89.5,319.4 89.7,320.4 89.9,321.4 90.1,322.4 90.3,323.5 90.5,324.5 90.7,325.5 90.9,326.5 91.1,327.5 91.3,328.2 91.3,328.2 91.1,327.6 90.9,327.4 90.7,327.2 90.5,327.0 90.3,326.8 90.1,326.6 89.9,326.4 89.7,326.2 89.5,326.0 89.3,325.8 89.1,325.6 88.9,325.2 88.7,324.9 88.5,324.6 88.3,324.3 88.1,324.4" fill="#f08080" fill-opacity="1"/>
<polygon points="98.9,326.2 99.1,324.3 99.3,321.7 99.5,319.1 99.7,316.4 99.9,313.8 100.1,311.2 100.3,308.6 100.5,307.4 100.7,308.1 100.9,308.7 101.1,309.4 101.3,310.1 101.5,310.7 101.7,311.4 101.9,312.0 102.1,312.7 102.3,313.4 102.5,314.0 102.7,314.7 102.9,315.4 103.1,316.0 103.3,314.5 103.5,312.3 103.7,310.0 103.9,307.8 104.1,305.5 104.3,303.3 104.5,301.0 104.7,298.8 104.9,296.5 105.1,294.3 105.3,292.0 105.5,289.8 105.7,287.5 105.9,285.5 106.1,288.5 106.3,291.4 106.5,294.4 106.7,297.3 106.9,300.3 107.1,303.2 107.3,306.2 107.5,309.1 107.7,312.1 107.9,315.0 108.1,318.0 108.3,320.9 108.5,323.9 108.7,326.8 108.9,329.6 108.9,329.6 108.7,328.8 108.5,328.0 108.3,327.0 108.1,326.1 107.9,325.1 107.7,324.2 107.5,323.2 107.3,322.3 107.1,321.3 106.9,320.3 106.7,319.4 106.5,318.4 106.3,317.5 106.1,316.5 105.9,315.6 105.7,315.5 105.5,317.1 105.3,318.6 105.1,320.2 104.9,321.7 104.7,323.3 104.5,324.8 104.3,326.3 104.1,327.9 103.9,329.4 103.7,331.0 103.5,332.5 103.3,334.1 103.1,335.4 102.9,334.9 102.7,334.3 102.5,333.8 102.3,333.3 102.1,332.7 101.9,332.2 101.7,331.7 101.5,331.1 101.3,330.6 101.1,330.1 100.9,329.5 100.7,329.0 100.5,328.5 100.3,327.9 100.1,327.4 99.9,326.9 99.7,326.3 99.5,325.8 99.3,325.7 99.1,325.6 98.9,326.2" fill="#f08080" fill-opacity="1"/>
<polygon points="137.7,326.2 137.9,323.0 138.1,319.6 138.3,316.2 138.5,312.7 138.7,309.3 138.9,309.7 139.1,311.7 139.3,313.7 139.5,315.6 139.7,317.6 139.9,319.2 139.9,319.2 139.7,319.5 139.5,320.1 139.3,320.8 139.1,321.4 138.9,322.1 138.7,322.7 138.5,323.4 138.3,324.0 138.1,324.7 137.9,325.3 137.7,326.2" fill="#f08080" fill-opacity="1"/>
<polygon points="189.9,311.6 190.1,308.9 190.3,306.0 190.5,303.0 190.7,300.1 190.9,299.8 191.1,302.0 191.3,304.2 191.5,306.3 191.7,308.5 191.9,310.3 191.9,310.3 191.7,310.1 191.5,310.3 191.3,310.4 191.1,310.5 190.9,310.7 190.7,310.8 190.5,310.9 190.3,311.1 190.1,311.2 189.9,311.6" fill="#f08080" fill-opacity="1"/>
<polygon points="198.7,293.0 198.9,292.8 199.1,292.4 199.3,293.0 199.3,293.0 199.1,293.0 198.9,293.0 198.7,293.0" fill="#f08080" fill-opacity="1"/>
<polygon points="203.9,285.8 204.1,285.0 204.3,283.4 204.5,281.8 204.7,282.7 204.9,283.5 205.1,284.3 205.3,285.2 205.5,286.0 205.7,286.9 205.9,287.5 205.9,287.5 205.7,287.1 205.5,286.9 205.3,286.6 205.1,286.4 204.9,286.2 204.7,285.9 204.5,285.7 204.3,285.5 204.1,285.2 203.9,285.8" fill="#f08080" fill-opacity="1"/>
<polygon points="217.3,294.9 217.5,294.1 217.7,293.2 217.9,292.3 218.1,291.4 218.3,291.1 218.5,291.2 218.7,291.3 218.9,291.4 219.1,291.3 219.1,291.3 218.9,292.0 218.7,292.9 218.5,293.8 218.3,294.7 218.1,295.2 217.9,295.1 217.7,295.0 217.5,294.9 217.3,294.9" fill="#f08080" fill-opacity="1"/>
<polygon points="223.3,286.4 223.5,285.9 223.7,285.6 223.9,286.0 224.1,286.4 224.3,286.8 224.5,287.2 224.7,287.6 224.9,288.0 225.1,288.4 225.3,288.8 225.5,289.2 225.7,289.6 225.9,290.0 226.1,290.4 226.3,290.8 226.5,291.2 226.7,291.5 226.7,291.5 226.5,291.5 226.3,291.8 226.1,291.4 225.9,291.0 225.7,290.7 225.5,290.3 225.3,289.9 225.1,289.5 224.9,289.2 224.7,288.8 224.5,288.4 224.3,288.1 224.1,287.7 223.9,287.3 223.7,287.0 223.5,286.7 223.3,286.4" fill="#f08080" fill-opacity="1"/>
<polygon points="248.1,280.5 248.3,278.7 248.5,279.3 248.7,280.2 248.9,281.2 249.1,282.1 249.3,283.0 249.5,283.9 249.7,284.8 249.7,284.8 249.5,284.1 249.3,283.4 249.1,282.7 248.9,281.9 248.7,281.2 248.5,280.5 248.3,279.9 248.1,280.5" fill="#f08080" fill-opacity="1"/>
<polygon points="251.1,290.3 251.3,290.0 251.5,289.2 251.7,288.4 251.9,287.6 252.1,286.8 252.3,286.0 252.5,285.2 252.7,284.3 252.9,283.5 253.1,282.7 253.3,281.9 253.5,281.1 253.7,280.3 253.9,280.5 254.1,281.8 254.3,283.0 254.5,284.2 254.7,285.4 254.9,286.7 255.1,287.2 255.1,287.2 254.9,287.0 254.7,287.5 254.5,288.0 254.3,288.4 254.1,288.9 253.9,289.4 253.7,289.7 253.5,289.7 253.3,289.8 253.1,289.9 252.9,289.9 252.7,290.0 252.5,290.0 252.3,290.1 252.1,290.1 251.9,290.2 251.7,290.2 251.5,290.3 251.3,290.4 251.1,290.3" fill="#f08080" fill-opacity="1"/>
<polygon points="332.1,258.9 332.3,256.6 332.5,254.4 332.7,252.1 332.9,249.9 333.1,247.6 333.3,246.5 333.5,247.2 333.7,247.9 333.9,248.6 334.1,249.3 334.3,250.0 334.5,250.8 334.7,251.5 334.9,252.2 335.1,252.9 335.3,253.6 335.5,254.3 335.7,255.0 335.9,255.8 336.1,255.3 336.1,255.3 335.9,256.1 335.7,257.0 335.5,257.8 335.3,258.6 335.1,259.5 334.9,260.3 334.7,261.2 334.5,262.0 334.3,262.9 334.1,263.7 333.9,264.5 333.7,265.4 333.5,266.2 333.3,267.1 333.1,266.1 332.9,264.6 332.7,263.2 332.5,261.7 332.3,260.3 332.1,258.9" fill="#f08080" fill-opacity="1"/>
<polygon points="336.1,255.3 336.3,254.3 336.5,253.3 336.7,252.2 336.9,251.2 337.1,250.2 337.3,249.2 337.5,248.2 337.7,247.1 337.9,246.1 338.1,245.1 338.3,244.1 338.5,243.0 338.7,242.0 338.9,242.5 338.9,242.5 338.7,243.3 338.5,244.3 338.3,245.2 338.1,246.1 337.9,247.0 337.7,247.9 337.5,248.8 337.3,249.7 337.1,250.6 336.9,251.6 336.7,252.5 336.5,253.4 336.3,254.3 336.1,255.3" fill="#f08080" fill-opacity="1"/>
<polygon points="411.9,222.8 412.1,220.9 412.3,218.2 412.5,215.5 412.7,213.7 412.9,215.3 413.1,216.9 413.3,217.7 413.3,217.7 413.1,217.3 412.9,217.7 412.7,218.1 412.5,218.9 412.3,219.9 412.1,221.0 411.9,222.8" fill="#f08080" fill-opacity="1"/>
<polygon points="482.3,183.4 482.5,182.5 482.7,181.2 482.9,179.9 483.1,178.5 483.3,177.2 483.5,175.9 483.7,174.5 483.9,173.3 484.1,172.4 484.3,171.5 484.5,170.7 484.7,169.8 484.9,168.9 485.1,168.1 485.3,167.2 485.5,166.3 485.7,165.5 485.9,164.6 486.1,163.7 486.3,162.9 486.5,162.0 486.7,161.1 486.9,160.3 487.1,159.5 487.3,158.6 487.5,157.8 487.7,157.0 487.9,156.1 488.1,155.3 488.3,154.5 488.5,153.6 488.7,152.8 488.9,152.0 489.1,151.1 489.3,150.3 489.5,150.6 489.7,151.2 489.9,151.8 490.1,152.4 490.3,153.0 490.5,153.6 490.7,154.2 490.9,154.9 491.1,155.5 491.3,156.1 491.5,156.7 491.7,157.3 491.9,157.9 492.1,158.7 492.3,161.6 492.5,164.6 492.7,167.6 492.9,170.6 493.1,173.6 493.3,175.0 493.3,175.0 493.1,174.6 492.9,175.7 492.7,176.9 492.5,178.0 492.3,179.2 492.1,180.4 491.9,180.7 491.7,181.0 491.5,181.3 491.3,181.6 491.1,181.9 490.9,182.2 490.7,182.5 490.5,182.8 490.3,183.1 490.1,183.4 489.9,183.7 489.7,184.0 489.5,184.3 489.3,184.6 489.1,184.8 488.9,185.0 488.7,185.2 488.5,185.5 488.3,185.7 488.1,185.9 487.9,186.1 487.7,186.3 487.5,186.5 487.3,186.7 487.1,186.9 486.9,187.1 486.7,187.3 486.5,187.5 486.3,187.5 486.1,187.6 485.9,187.6 485.7,187.7 485.5,187.7 485.3,187.8 485.1,187.8 484.9,187.9 484.7,187.9 484.5,188.0 484.3,188.0 484.1,188.1 483.9,188.1 483.7,187.7 483.5,187.0 483.3,186.4 483.1,185.7 482.9,185.0 482.7,184.3 482.5,183.6 482.3,183.4" fill="#f08080" fill-opacity="1"/>
<polygon points="513.9,160.9 514.1,159.7 514.3,157.9 514.5,156.1 514.7,154.3 514.9,152.5 515.1,150.7 515.3,148.9 515.5,147.1 515.7,145.3 515.9,143.5 516.1,141.7 516.3,139.9 516.5,138.1 516.7,136.3 516.9,136.2 517.1,137.0 517.3,137.9 517.5,138.7 517.7,139.5 517.9,140.4 518.1,141.2 518.3,142.1 518.5,142.9 518.7,143.8 518.9,144.6 519.1,145.4 519.3,146.3 519.5,147.0 519.7,147.5 519.9,148.0 520.1,148.5 520.3,148.8 520.3,148.8 520.1,148.8 519.9,149.1 519.7,149.3 519.5,149.6 519.3,150.1 519.1,150.7 518.9,151.4 518.7,152.0 518.5,152.6 518.3,153.3 518.1,153.9 517.9,154.5 517.7,155.2 517.5,155.8 517.3,156.4 517.1,157.1 516.9,157.7 516.7,158.2 516.5,158.4 516.3,158.6 516.1,158.8 515.9,159.0 515.7,159.2 515.5,159.4 515.3,159.6 515.1,159.8 514.9,160.0 514.7,160.2 514.5,160.4 514.3,160.6 514.1,160.8 513.9,160.9" fill="#f08080" fill-opacity="1"/>
<polygon points="526.9,147.5 527.1,147.3 527.3,146.7 527.5,146.1 527.7,145.5 527.9,145.7 528.1,146.0 528.3,146.2 528.5,146.5 528.7,146.6 528.7,146.6 528.5,146.8 528.3,147.2 528.1,147.5 527.9,147.9 527.7,148.3 527.5,148.0 527.3,147.7 527.1,147.4 526.9,147.5" fill="#f08080" fill-opacity="1"/>
<polygon points="531.3,145.0 531.5,144.7 531.7,144.0 531.9,143.2 532.1,142.5 532.3,141.7 532.5,141.0 532.7,140.2 532.9,139.5 533.1,138.7 533.3,138.1 533.5,137.6 533.7,137.1 533.9,136.5 534.1,136.0 534.3,135.5 534.5,135.0 534.7,134.4 534.9,133.9 535.1,133.4 535.3,132.9 535.5,132.3 535.7,131.8 535.9,131.5 536.1,131.6 536.3,131.8 536.5,131.9 536.7,132.1 536.9,132.2 537.1,132.4 537.3,132.5 537.5,132.7 537.7,132.8 537.9,133.0 538.1,133.1 538.3,133.3 538.5,133.4 538.7,133.6 538.9,133.7 539.1,133.9 539.3,134.0 539.5,134.2 539.7,134.3 539.9,134.5 540.1,134.6 540.3,134.8 540.5,134.9 540.7,135.1 540.9,135.2 541.1,135.4 541.3,135.5 541.5,135.5 541.7,135.1 541.9,134.7 542.1,134.3 542.3,133.9 542.5,133.4 542.7,133.0 542.9,132.6 543.1,132.2 543.3,131.7 543.5,131.3 543.7,130.9 543.9,130.5 544.1,130.1 544.3,129.0 544.5,128.0 544.7,126.9 544.9,125.9 545.1,124.8 545.3,123.8 545.5,122.7 545.7,121.7 545.9,120.6 546.1,119.6 546.3,118.5 546.5,117.5 546.7,116.4 546.9,115.4 547.1,116.1 547.3,116.9 547.5,117.6 547.7,118.4 547.9,119.2 548.1,120.0 548.3,120.8 548.5,121.6 548.7,122.4 548.9,123.2 549.1,124.0 549.3,124.8 549.5,125.5 549.7,126.5 549.9,127.5 550.1,128.6 550.3,129.6 550.5,130.7 550.7,131.7 550.9,132.8 551.1,133.8 551.3,134.9 551.5,135.9 551.7,137.0 551.9,138.0 552.1,139.1 552.3,140.1 552.5,139.6 552.7,137.9 552.9,136.3 553.1,134.7 553.3,133.0 553.5,131.4 553.7,129.8 553.9,128.1 554.1,126.5 554.3,124.9 554.5,123.3 554.7,121.6 554.9,120.0 555.1,119.4 555.3,121.3 555.5,123.3 555.7,125.2 555.9,127.2 556.1,129.1 556.3,131.1 556.5,133.0 556.7,135.0 556.9,136.9 557.1,138.9 557.3,140.8 557.5,142.8 557.7,144.7 557.9,146.2 558.1,146.1 558.1,146.1 557.9,146.7 557.7,147.3 557.5,148.0 557.3,148.6 557.1,149.3 556.9,149.9 556.7,150.6 556.5,151.2 556.3,151.9 556.1,152.5 555.9,153.2 555.7,153.8 555.5,154.5 555.3,155.1 555.1,155.8 554.9,155.7 554.7,155.3 554.5,154.8 554.3,154.4 554.1,154.0 553.9,153.6 553.7,153.2 553.5,152.7 553.3,152.3 553.1,151.9 552.9,151.5 552.7,151.0 552.5,150.6 552.3,150.4 552.1,150.6 551.9,150.7 551.7,150.9 551.5,151.0 551.3,151.2 551.1,151.3 550.9,151.5 550.7,151.6 550.5,151.8 550.3,151.9 550.1,152.1 549.9,152.2 549.7,152.4 549.5,152.4 549.3,152.2 549.1,152.0 548.9,151.8 548.7,151.5 548.5,151.3 548.3,151.1 548.1,150.9 547.9,150.7 547.7,150.5 547.5,150.3 547.3,150.1 547.1,149.9 546.9,149.7 546.7,150.1 546.5,150.5 546.3,150.9 546.1,151.3 545.9,151.7 545.7,152.1 545.5,152.5 545.3,152.9 545.1,153.3 544.9,153.7 544.7,154.1 544.5,154.5 544.3,154.9 544.1,155.3 543.9,154.9 543.7,154.6 543.5,154.3 543.3,154.0 543.1,153.7 542.9,153.4 542.7,153.1 542.5,152.7 542.3,152.4 542.1,152.1 541.9,151.8 541.7,151.5 541.5,151.2 541.3,150.9 541.1,150.6 540.9,150.4 540.7,150.1 540.5,149.9 540.3,149.6 540.1,149.4 539.9,149.1 539.7,148.9 539.5,148.6 539.3,148.4 539.1,148.1 538.9,147.9 538.7,147.6 538.5,147.6 538.3,147.6 538.1,147.6 537.9,147.6 537.7,147.6 537.5,147.6 537.3,147.6 537.1,147.6 536.9,147.6 536.7,147.6 536.5,147.6 536.3,147.6 536.1,147.6 535.9,147.6 535.7,147.5 535.5,147.5 535.3,147.4 535.1,147.4 534.9,147.3 534.7,147.3 534.5,147.2 534.3,147.2 534.1,147.1 533.9,147.1 533.7,147.0 533.5,146.9 533.3,146.9 533.1,146.8 532.9,146.5 532.7,146.3 532.5,146.0 532.3,145.8 532.1,145.5 531.9,145.3 531.7,145.0 531.5,144.8 531.3,145.0" fill="#f08080" fill-opacity="1"/>
<polygon points="563.3,131.1 563.5,130.2 563.7,128.8 563.9,127.4 564.1,126.1 564.3,124.7 564.5,123.3 564.7,122.0 564.9,120.6 565.1,119.2 565.3,117.8 565.5,116.5 565.7,115.1 565.9,113.7 566.1,113.0 566.3,112.6 566.5,112.2 566.7,111.8 566.9,111.4 567.1,111.0 567.3,110.6 567.5,110.2 567.7,109.8 567.9,109.4 568.1,109.0 568.3,108.6 568.5,108.2 568.7,107.8 568.9,107.4 569.1,107.0 569.3,106.6 569.5,106.2 569.7,105.8 569.9,105.4 570.1,105.0 570.3,104.6 570.5,104.2 570.7,103.8 570.9,103.4 571.1,103.0 571.3,102.6 571.5,102.2 571.7,102.5 571.9,103.3 572.1,104.2 572.3,105.0 572.5,105.9 572.7,106.7 572.9,107.6 573.1,108.4 573.3,109.2 573.5,110.1 573.7,110.9 573.9,111.8 574.1,112.6 574.3,113.6 574.5,115.2 574.7,116.7 574.9,118.3 575.1,119.8 575.3,121.4 575.5,122.9 575.7,124.5 575.9,126.0 576.1,127.6 576.3,129.1 576.5,130.7 576.7,132.2 576.9,133.8 577.1,135.1 577.3,135.5 577.5,136.0 577.7,136.5 577.9,137.0 578.1,137.4 578.3,137.9 578.5,138.4 578.7,138.9 578.9,139.3 579.1,139.8 579.3,140.3 579.5,140.8 579.7,141.2 579.9,140.9 580.1,140.6 580.3,140.2 580.5,139.9 580.7,139.5 580.9,139.2 581.1,138.8 581.3,138.5 581.5,138.1 581.7,137.8 581.9,137.4 582.1,137.1 582.3,136.7 582.5,136.4 582.7,136.7 582.9,137.1 583.1,137.4 583.3,137.8 583.5,138.1 583.5,138.1 583.3,138.4 583.1,138.8 582.9,139.1 582.7,139.5 582.5,139.9 582.3,140.1 582.1,140.4 581.9,140.6 581.7,140.9 581.5,141.1 581.3,141.4 581.1,141.6 580.9,141.9 580.7,142.1 580.5,142.4 580.3,142.6 580.1,142.9 579.9,143.1 579.7,143.3 579.5,143.1 579.3,142.8 579.1,142.6 578.9,142.3 578.7,142.0 578.5,141.8 578.3,141.5 578.1,141.2 577.9,141.0 577.7,140.7 577.5,140.4 577.3,140.2 577.1,139.9 576.9,139.6 576.7,139.2 576.5,138.8 576.3,138.4 576.1,138.0 575.9,137.6 575.7,137.2 575.5,136.8 575.3,136.4 575.1,136.0 574.9,135.6 574.7,135.2 574.5,134.8 574.3,134.4 574.1,133.9 573.9,133.4 573.7,133.0 573.5,132.5 573.3,132.0 573.1,131.5 572.9,131.1 572.7,130.6 572.5,130.1 572.3,129.6 572.1,129.2 571.9,128.7 571.7,128.2 571.5,127.9 571.3,127.7 571.1,127.6 570.9,127.4 570.7,127.3 570.5,127.1 570.3,127.0 570.1,126.8 569.9,126.7 569.7,126.5 569.5,126.4 569.3,126.2 569.1,126.1 568.9,125.9 568.7,125.8 568.5,125.8 568.3,125.8 568.1,125.8 567.9,125.8 567.7,125.8 567.5,125.8 567.3,125.8 567.1,125.8 566.9,125.8 566.7,125.8 566.5,125.8 566.3,125.8 566.1,125.8 565.9,126.0 565.7,126.3 565.5,126.7 565.3,127.1 565.1,127.5 564.9,127.8 564.7,128.2 564.5,128.6 564.3,128.9 564.1,129.3 563.9,129.7 563.7,130.0 563.5,130.4 563.3,131.1" fill="#f08080" fill-opacity="1"/>
<polygon points="598.7,139.0 598.9,137.1 599.1,136.9 599.3,136.8 599.5,136.2 599.5,136.2 599.3,136.8 599.1,138.0 598.9,139.1 598.7,139.0" fill="#f08080" fill-opacity="1"/>
<polygon points="618.7,121.2 618.9,120.6 619.1,119.7 619.3,118.8 619.5,117.9 619.7,117.0 619.9,116.0 620.1,115.1 620.3,114.2 620.5,113.3 620.7,112.4 620.9,112.8 621.1,115.2 621.3,117.7 621.5,119.9 621.5,119.9 621.3,119.8 621.1,120.0 620.9,120.1 620.7,120.3 620.5,120.3 620.3,120.4 620.1,120.4 619.9,120.5 619.7,120.5 619.5,120.6 619.3,120.6 619.1,120.7 618.9,120.7 618.7,121.2" fill="#f08080" fill-opacity="1"/>
<polygon points="676.1,124.3 676.3,123.8 676.5,122.8 676.7,121.8 676.9,120.8 677.1,119.8 677.3,118.8 677.5,117.8 677.7,116.8 677.9,115.8 678.1,114.8 678.3,113.9 678.5,113.8 678.7,113.7 678.9,113.6 679.1,113.5 679.3,113.4 679.5,113.3 679.7,113.2 679.9,113.1 680.1,113.0 680.3,112.9 680.5,112.8 680.7,112.7 680.9,112.6 681.1,112.5 681.3,112.2 681.5,112.0 681.7,111.7 681.9,111.5 682.1,111.2 682.3,111.0 682.5,110.7 682.7,110.5 682.9,110.2 683.1,110.0 683.3,109.7 683.5,109.5 683.7,109.2 683.9,109.0 684.1,109.3 684.3,109.5 684.5,109.7 684.7,109.9 684.9,110.1 685.1,110.3 685.3,110.5 685.5,110.7 685.7,110.9 685.7,110.9 685.5,111.1 685.3,111.3 685.1,111.6 684.9,111.9 684.7,112.1 684.5,112.4 684.3,112.7 684.1,112.9 683.9,113.2 683.7,113.4 683.5,113.7 683.3,113.9 683.1,114.2 682.9,114.4 682.7,114.7 682.5,114.9 682.3,115.2 682.1,115.4 681.9,115.7 681.7,115.9 681.5,116.2 681.3,116.4 681.1,116.7 680.9,117.5 680.7,118.5 680.5,119.4 680.3,120.4 680.1,121.3 679.9,122.3 679.7,123.2 679.5,124.2 679.3,125.1 679.1,126.1 678.9,127.0 678.7,128.0 678.5,128.9 678.3,129.9 678.1,129.6 677.9,129.0 677.7,128.4 677.5,127.8 677.3,127.2 677.1,126.7 676.9,126.1 676.7,125.5 676.5,124.9 676.3,124.3 676.1,124.3" fill="#f08080" fill-opacity="1"/>
<polygon points="694.9,131.8 695.1,131.8 695.3,131.6 695.5,131.4 695.7,131.2 695.9,131.0 696.1,130.8 696.3,130.6 696.5,130.4 696.7,130.2 696.9,129.9 697.1,129.7 697.3,129.5 697.5,129.3 697.7,129.2 697.9,129.1 698.1,129.0 698.3,128.9 698.5,128.8 698.7,128.7 698.9,128.6 699.1,128.5 699.3,128.4 699.5,128.3 699.7,128.2 699.9,128.1 700.1,128.0 700.3,128.0 700.5,128.7 700.7,129.4 700.9,130.1 701.1,130.8 701.3,131.4 701.5,132.1 701.7,132.8 701.9,133.5 702.1,134.2 702.3,134.9 702.5,134.9 702.5,134.9 702.3,135.0 702.1,135.7 701.9,136.4 701.7,137.1 701.5,137.8 701.3,138.5 701.1,139.1 700.9,139.8 700.7,140.5 700.5,141.2 700.3,141.9 700.1,141.6 699.9,141.2 699.7,140.8 699.5,140.4 699.3,140.0 699.1,139.6 698.9,139.2 698.7,138.8 698.5,138.4 698.3,138.0 698.1,137.6 697.9,137.2 697.7,136.8 697.5,136.4 697.3,136.0 697.1,135.7 696.9,135.3 696.7,134.9 696.5,134.6 696.3,134.2 696.1,133.8 695.9,133.5 695.7,133.1 695.5,132.7 695.3,132.3 695.1,132.0 694.9,131.8" fill="#f08080" fill-opacity="1"/>
<polygon points="704.9,126.6 705.1,125.7 705.3,124.7 705.5,123.6 705.7,122.6 705.9,124.0 705.9,124.0 705.7,123.9 705.5,124.5 705.3,125.2 705.1,125.8 704.9,126.6" fill="#f08080" fill-opacity="1"/>
<polygon points="762.9,156.5 763.1,156.5 763.3,157.0 763.3,157.0 763.1,156.6 762.9,156.5" fill="#f08080" fill-opacity="1"/>
<polygon points="785.9,173.7 786.1,172.8 786.3,171.3 786.5,169.8 786.7,168.2 786.9,166.7 787.1,165.2 787.3,163.7 787.5,162.1 787.7,160.6 787.9,159.2 788.1,159.3 788.3,159.3 788.5,159.4 788.7,159.4 788.9,159.5 789.1,159.5 789.3,159.6 789.5,159.6 789.7,159.7 789.9,159.7 790.1,159.8 790.3,159.8 790.5,159.9 790.7,159.9 790.9,159.7 791.1,159.6 791.3,159.4 791.5,159.3 791.7,159.1 791.9,158.9 792.1,158.8 792.3,158.6 792.5,158.5 792.7,158.3 792.9,158.2 793.1,158.0 793.3,157.8 793.5,159.6 793.7,162.0 793.9,164.4 794.1,166.8 794.3,169.2 794.5,171.6 794.7,174.0 794.9,176.4 795.1,178.8 795.3,181.2 795.5,183.6 795.7,186.0 795.9,188.4 796.1,190.8 796.3,191.9 796.3,191.9 796.1,191.4 795.9,191.1 795.7,190.9 795.5,190.6 795.3,190.4 795.1,190.1 794.9,189.9 794.7,189.6 794.5,189.4 794.3,189.1 794.1,188.9 793.9,188.6 793.7,188.4 793.5,188.1 793.3,187.9 793.1,187.5 792.9,187.2 792.7,186.9 792.5,186.6 792.3,186.3 792.1,186.0 791.9,185.6 791.7,185.3 791.5,185.0 791.3,184.7 791.1,184.4 790.9,184.1 790.7,183.8 790.5,183.4 790.3,183.1 790.1,182.7 789.9,182.4 789.7,182.0 789.5,181.7 789.3,181.3 789.1,181.0 788.9,180.6 788.7,180.3 788.5,179.9 788.3,179.6 788.1,179.2 787.9,178.9 787.7,178.3 787.5,177.7 787.3,177.1 787.1,176.6 786.9,176.0 786.7,175.4 786.5,174.8 786.3,174.2 786.1,173.7 785.9,173.7" fill="#f08080" fill-opacity="1"/>
<polygon points="833.3,201.2 833.5,200.7 833.7,199.6 833.9,198.5 834.1,197.5 834.3,196.4 834.5,196.1 834.7,199.4 834.9,201.6 834.9,201.6 834.7,201.0 834.5,201.6 834.3,201.7 834.1,201.5 833.9,201.3 833.7,201.0 833.5,200.8 833.3,201.2" fill="#f08080" fill-opacity="1"/>
<polygon points="278.7,334.9 278.9,334.9 279.1,335.5 279.3,336.1 279.5,336.8 279.7,337.4 279.9,338.0 280.1,338.6 280.3,339.3 280.5,339.9 280.7,340.5 280.9,341.1 281.1,341.7 281.3,340.9 281.5,338.9 281.7,336.9 281.9,334.9 282.1,332.9 282.3,330.9 282.5,328.9 282.7,326.9 282.9,325.5 282.9,325.5 282.7,325.6 282.5,325.1 282.3,324.6 282.1,324.1 281.9,323.6 281.7,323.1 281.5,322.6 281.3,322.1 281.1,321.7 280.9,322.9 280.7,324.0 280.5,325.2 280.3,326.3 280.1,327.5 279.9,328.7 279.7,329.8 279.5,331.0 279.3,332.1 279.1,333.3 278.9,334.5 278.7,334.9" fill="#2e74ae" fill-opacity="1"/>
<polygon points="285.7,325.4 285.9,326.2 286.1,327.4 286.3,328.6 286.5,329.7 286.7,330.2 286.9,327.6 287.1,325.0 287.3,323.1 287.3,323.1 287.1,323.9 286.9,324.1 286.7,324.3 286.5,324.6 286.3,324.9 286.1,325.2 285.9,325.5 285.7,325.4" fill="#2e74ae" fill-opacity="1"/>
<polygon points="299.3,316.8 299.5,318.3 299.7,319.9 299.9,321.5 300.1,323.0 300.3,324.6 300.5,323.8 300.7,322.0 300.9,320.1 301.1,318.3 301.3,316.7 301.3,316.7 301.1,317.0 300.9,317.1 300.7,317.2 300.5,317.3 300.3,317.4 300.1,317.3 299.9,317.2 299.7,317.1 299.5,317.0 299.3,316.8" fill="#2e74ae" fill-opacity="1"/>
<polygon points="316.3,305.9 316.5,306.4 316.7,307.2 316.9,306.2 317.1,303.5 317.3,301.6 317.3,301.6 317.1,302.9 316.9,303.6 316.7,304.2 316.5,305.3 316.3,305.9" fill="#2e74ae" fill-opacity="1"/>
<polygon points="365.3,302.1 365.5,302.9 365.7,305.0 365.9,307.0 366.1,309.0 366.3,307.9 366.5,306.9 366.7,305.8 366.9,304.7 367.1,303.7 367.3,302.6 367.5,301.6 367.7,300.5 367.9,299.4 368.1,298.4 368.3,297.3 368.5,296.6 368.5,296.6 368.3,297.2 368.1,297.5 367.9,297.8 367.7,298.2 367.5,298.5 367.3,298.8 367.1,299.2 366.9,299.5 366.7,299.8 366.5,300.2 366.3,300.5 366.1,300.8 365.9,301.3 365.7,301.9 365.5,302.6 365.3,302.1" fill="#2e74ae" fill-opacity="1"/>
<polygon points="372.5,289.7 372.7,291.5 372.9,294.2 373.1,296.8 373.3,299.5 373.5,302.2 373.7,304.8 373.9,307.5 374.1,310.2 374.3,312.8 374.5,311.5 374.7,309.9 374.9,308.3 375.1,306.7 375.3,305.1 375.5,303.5 375.7,301.9 375.9,300.2 376.1,298.6 376.3,297.0 376.5,295.4 376.7,294.5 376.7,294.5 376.5,294.7 376.3,294.2 376.1,293.7 375.9,293.3 375.7,292.8 375.5,292.3 375.3,291.9 375.1,291.4 374.9,290.9 374.7,290.5 374.5,290.0 374.3,289.5 374.1,289.1 373.9,288.7 373.7,289.0 373.5,289.2 373.3,289.5 373.1,289.8 372.9,290.1 372.7,290.3 372.5,289.7" fill="#2e74ae" fill-opacity="1"/>
<polygon points="420.3,279.7 420.5,281.7 420.7,284.8 420.9,287.3 421.1,286.5 421.3,285.8 421.5,285.0 421.7,284.2 421.9,283.5 422.1,282.7 422.3,281.9 422.5,281.2 422.7,280.4 422.9,279.6 423.1,278.9 423.3,278.1 423.5,277.3 423.7,276.8 423.9,276.6 424.1,276.4 424.3,276.2 424.5,276.0 424.7,275.8 424.9,275.5 425.1,275.3 425.3,275.1 425.5,274.9 425.7,274.7 425.9,274.5 426.1,274.3 426.3,274.1 426.5,272.8 426.7,271.2 426.9,269.5 427.1,267.9 427.3,266.3 427.5,264.6 427.7,263.0 427.9,261.3 428.1,259.7 428.3,258.1 428.5,256.8 428.5,256.8 428.3,256.8 428.1,256.5 427.9,256.2 427.7,255.9 427.5,255.6 427.3,255.2 427.1,254.9 426.9,254.6 426.7,254.3 426.5,254.0 426.3,253.9 426.1,254.8 425.9,255.6 425.7,256.5 425.5,257.3 425.3,258.2 425.1,259.0 424.9,259.9 424.7,260.7 424.5,261.6 424.3,262.4 424.1,263.3 423.9,264.1 423.7,265.0 423.5,265.9 423.3,267.1 423.1,268.2 422.9,269.4 422.7,270.5 422.5,271.7 422.3,272.9 422.1,274.0 421.9,275.2 421.7,276.3 421.5,277.5 421.3,278.6 421.1,279.8 420.9,281.0 420.7,280.9 420.5,280.8 420.3,279.7" fill="#2e74ae" fill-opacity="1"/>
<polygon points="602.7,168.0 602.9,171.0 603.1,176.7 603.3,182.4 603.5,188.0 603.7,193.7 603.9,199.4 604.1,205.0 604.3,210.7 604.5,210.9 604.7,206.8 604.9,202.6 605.1,198.5 605.3,194.4 605.5,190.3 605.7,186.1 605.9,182.0 606.1,179.8 606.1,179.8 605.9,180.8 605.7,179.8 605.5,178.8 605.3,177.8 605.1,176.8 604.9,175.8 604.7,174.8 604.5,173.8 604.3,173.1 604.1,172.8 603.9,172.5 603.7,172.2 603.5,171.9 603.3,171.6 603.1,171.3 602.9,171.0 602.7,168.0" fill="#2e74ae" fill-opacity="1"/>
<polygon points="637.9,190.4 638.1,190.2 638.3,190.4 638.5,190.6 638.7,190.8 638.9,191.0 639.1,191.2 639.3,191.4 639.5,191.6 639.7,191.8 639.9,192.0 640.1,191.2 640.3,189.6 640.5,188.0 640.7,186.3 640.9,184.7 641.1,183.1 641.3,181.7 641.3,181.7 641.1,182.2 640.9,182.3 640.7,182.5 640.5,182.6 640.3,182.8 640.1,182.9 639.9,183.4 639.7,184.1 639.5,184.9 639.3,185.6 639.1,186.4 638.9,187.1 638.7,187.9 638.5,188.6 638.3,189.4 638.1,190.1 637.9,190.4" fill="#2e74ae" fill-opacity="1"/>
<polygon points="650.3,176.0 650.5,176.6 650.7,177.9 650.9,179.2 651.1,179.5 651.3,179.5 651.5,179.5 651.7,179.5 651.9,179.5 652.1,179.5 652.3,179.5 652.5,179.5 652.7,179.5 652.7,179.5 652.5,179.2 652.3,178.8 652.1,178.4 651.9,178.0 651.7,177.6 651.5,177.2 651.3,176.8 651.1,176.4 650.9,176.0 650.7,176.2 650.5,176.4 650.3,176.0" fill="#2e74ae" fill-opacity="1"/>
<polygon points="710.9,183.9 711.1,185.5 711.3,187.4 711.5,187.7 711.7,188.0 711.9,188.3 712.1,188.6 712.3,189.0 712.5,189.3 712.7,189.6 712.9,189.9 713.1,190.2 713.3,190.5 713.5,190.9 713.7,191.2 713.9,191.4 714.1,191.3 714.3,191.2 714.5,191.1 714.7,191.0 714.9,190.9 715.1,190.8 715.3,190.7 715.5,190.6 715.7,190.5 715.9,190.4 716.1,190.3 716.3,190.2 716.5,190.1 716.7,189.9 716.9,188.7 717.1,187.5 717.3,186.3 717.5,185.1 717.7,183.9 717.9,182.7 718.1,181.5 718.3,180.3 718.5,179.1 718.7,177.9 718.9,176.7 719.1,175.5 719.3,174.3 719.5,173.2 719.5,173.2 719.3,173.0 719.1,172.7 718.9,172.4 718.7,172.1 718.5,171.8 718.3,171.5 718.1,171.2 717.9,170.9 717.7,170.6 717.5,170.3 717.3,170.0 717.1,169.7 716.9,169.4 716.7,169.1 716.5,169.5 716.3,170.1 716.1,170.7 715.9,171.3 715.7,171.9 715.5,172.5 715.3,173.1 715.1,173.7 714.9,174.3 714.7,174.9 714.5,175.5 714.3,176.1 714.1,176.7 713.9,177.3 713.7,177.9 713.5,178.4 713.3,178.9 713.1,179.5 712.9,180.0 712.7,180.5 712.5,181.0 712.3,181.6 712.1,182.1 711.9,182.6 711.7,183.1 711.5,183.7 711.3,184.2 711.1,184.8 710.9,183.9" fill="#2e74ae" fill-opacity="1"/>
<polygon points="734.5,194.4 734.7,195.8 734.9,197.8 735.1,199.8 735.3,201.8 735.5,203.8 735.7,205.8 735.9,207.3 736.1,204.7 736.3,202.2 736.5,199.6 736.7,198.1 736.7,198.1 736.5,198.5 736.3,197.8 736.1,197.1 735.9,196.4 735.7,196.2 735.5,196.0 735.3,195.8 735.1,195.6 734.9,195.4 734.7,195.2 734.5,194.4" fill="#2e74ae" fill-opacity="1"/>
<polygon points="746.1,209.5 746.3,210.6 746.5,211.9 746.7,213.2 746.9,213.1 747.1,211.4 747.3,209.7 747.5,208.0 747.7,207.1 747.7,207.1 747.5,207.9 747.3,208.0 747.1,208.1 746.9,208.2 746.7,208.5 746.5,208.8 746.3,209.2 746.1,209.5" fill="#2e74ae" fill-opacity="1"/>
<polygon points="800.5,233.7 800.7,235.4 800.9,238.1 801.1,240.8 801.3,243.5 801.5,246.2 801.7,247.8 801.9,248.4 802.1,249.0 802.3,249.5 802.5,250.1 802.7,250.7 802.9,251.3 803.1,251.8 803.3,252.4 803.5,253.0 803.7,253.6 803.9,254.1 804.1,254.7 804.3,255.3 804.5,255.7 804.7,256.0 804.9,256.3 805.1,256.6 805.3,256.9 805.5,257.2 805.7,257.5 805.9,257.8 806.1,258.1 806.3,258.4 806.5,258.7 806.7,259.0 806.9,259.3 807.1,259.6 807.3,259.8 807.5,259.9 807.7,260.1 807.9,260.3 808.1,260.4 808.3,260.6 808.5,260.7 808.7,260.9 808.9,261.1 809.1,261.2 809.3,261.4 809.5,261.5 809.7,261.7 809.9,261.4 810.1,260.5 810.3,259.6 810.5,258.7 810.7,257.8 810.9,256.9 811.1,256.0 811.3,255.1 811.5,254.2 811.7,253.3 811.9,252.4 812.1,251.5 812.3,250.6 812.5,249.7 812.7,247.8 812.9,246.2 812.9,246.2 812.7,245.9 812.5,244.8 812.3,243.7 812.1,242.7 811.9,241.6 811.7,240.5 811.5,239.9 811.3,239.7 811.1,239.5 810.9,239.3 810.7,239.1 810.5,238.9 810.3,238.7 810.1,238.5 809.9,238.3 809.7,238.1 809.5,237.9 809.3,237.7 809.1,237.5 808.9,237.3 808.7,236.8 808.5,236.1 808.3,235.3 808.1,234.6 807.9,233.8 807.7,233.1 807.5,232.3 807.3,231.6 807.1,230.8 806.9,230.1 806.7,229.3 806.5,228.6 806.3,227.8 806.1,227.1 805.9,226.8 805.7,226.9 805.5,227.1 805.3,227.2 805.1,227.4 804.9,227.5 804.7,227.7 804.5,227.8 804.3,228.0 804.1,228.1 803.9,228.3 803.7,228.4 803.5,228.6 803.3,228.7 803.1,229.0 802.9,229.4 802.7,229.9 802.5,230.3 802.3,230.7 802.1,231.2 801.9,231.6 801.7,232.0 801.5,232.5 801.3,232.9 801.1,233.3 800.9,233.8 800.7,234.2 800.5,233.7" fill="#2e74ae" fill-opacity="1"/>
<polygon points="838.7,250.2 838.9,251.3 839.1,252.5 839.3,253.7 839.5,254.9 839.7,256.1 839.9,257.3 840.1,256.2 840.3,254.5 840.5,252.8 840.7,251.1 840.9,249.3 841.1,247.9 841.1,247.9 840.9,248.6 840.7,249.0 840.5,249.4 840.3,249.8 840.1,250.2 839.9,250.6 839.7,251.0 839.5,251.1 839.3,250.9 839.1,250.7 838.9,250.5 838.7,250.2" fill="#2e74ae" fill-opacity="1"/>
<polyline points="78.4,328.8 83.8,321.6 86.6,321.6 89.3,325.8 92.3,328.8 95.3,323.4 99.5,325.8 103.1,335.4 105.8,315.0 108.5,328.2 111.6,339.1 117.0,334.8 122.4,323.4 125.4,324.0 130.2,334.8 133.3,310.7 136.3,330.6 141.1,315.0 144.1,302.3 147.1,318.6 152.2,303.5 155.0,315.0 160.4,304.1 164.6,293.9 168.8,290.8 172.4,299.3 176.0,305.9 179.1,308.3 182.7,315.6 185.1,310.7 188.1,312.5 193.5,308.9 196.5,281.2 199.0,293.3 203.8,284.8 208.6,288.4 211.0,289.0 207.2,289.0 212.7,290.4 215.5,293.9 218.2,295.3 220.8,283.4 223.6,286.9 226.3,291.8 229.1,287.6 231.8,282.7 234.6,289.7 237.9,297.4 242.8,279.2 245.5,283.4 248.3,279.9 251.3,290.4 253.8,289.7 256.4,283.4 259.2,272.8 261.9,272.1 264.7,256.7 267.5,260.2 270.2,259.5 273.0,251.8 275.6,270.7 278.5,271.4 281.1,250.4 283.9,260.9 286.6,260.2 289.4,264.4 292.0,254.6 294.9,272.1 297.5,261.6 300.3,249.7 303.1,260.2 305.8,270.0 308.6,272.1 311.3,265.8 314.1,263.0 316.7,261.6 319.5,245.5 322.2,239.9 325.0,250.4 327.8,244.8 330.5,246.9 333.3,267.2 335.9,256.0 339.1,241.3 341.9,232.8 346.3,220.1 349.0,227.2 351.9,235.7 355.4,243.4 357.8,238.5 360.6,232.2 363.4,220.4 366.1,222.5 368.8,232.3 371.6,234.8 374.3,244.6 377.1,256.5 379.8,242.5 382.5,246.0 385.3,247.4 388.0,236.2 390.7,218.3 393.4,219.0 396.2,225.3 398.9,223.2 401.7,228.8 404.3,227.4 407.1,231.6 409.9,232.3 412.6,218.3 415.4,212.7 418.1,213.4 420.9,218.3 423.5,207.1 426.3,209.9 429.0,205.7 431.8,198.6 434.5,197.2 437.3,196.5 439.9,181.1 442.7,186.0 445.4,205.7 447.5,200.0 451.0,207.8 453.7,202.8 456.5,214.1 459.1,217.6 462.0,208.5 464.6,188.8 467.4,188.1 470.1,186.7 472.9,183.9 475.5,176.9 478.4,184.6 481.2,179.0 483.8,188.1 486.6,187.4 489.3,184.6 492.1,180.4 494.8,165.0 497.6,160.8 500.2,170.6 503.0,174.8 505.7,175.5 508.5,162.2 508.5,156.7 511.3,156.0 514.0,160.9 516.8,158.1 519.4,149.7 522.2,146.2 524.9,144.1 527.7,148.3 530.4,143.4 533.2,146.9 535.8,147.6 538.6,147.6 541.4,151.1 544.1,155.3 546.9,149.7 549.6,152.5 552.4,150.4 555.0,156.0 557.8,146.9 560.5,137.8 563.3,130.7 566.0,125.8 568.8,125.8 571.6,127.9 574.2,134.2 577.0,139.9 579.7,143.4 582.5,139.9 585.2,134.9 588.0,130.7 590.6,130.0 593.4,127.9 596.1,136.4 598.9,139.2 601.6,123.0 604.4,129.3 607.0,131.4 609.9,134.2 612.7,125.8 615.3,119.5 618.1,120.9 620.8,120.2 623.6,118.1 626.3,120.9 629.1,122.3 631.7,120.9 634.5,127.2 637.2,122.3 640.0,121.6 642.7,137.8 645.5,131.4 648.1,130.0 650.9,127.2 653.7,123.0 656.4,111.8 659.2,120.9 662.0,121.6 659.2,120.9 661.9,120.9 664.7,117.4 667.3,125.1 670.1,128.6 672.8,126.5 675.6,122.3 678.3,130.0 681.1,116.7 683.9,113.2 686.5,109.7 689.3,106.9 692.0,111.8 694.8,131.4 697.5,136.4 700.3,142.0 702.9,132.8 705.7,123.7 708.4,120.9 711.2,116.0 713.9,116.7 716.7,115.3 719.5,122.3 722.1,120.2 724.9,130.0 727.6,139.9 730.4,144.1 733.1,139.9 735.9,132.8 738.5,145.5 741.3,163.7 744.2,151.1 746.8,153.9 749.6,158.8 752.3,143.4 755.1,142.7 757.7,149.7 760.6,153.9 763.2,156.7 766.0,160.2 768.7,160.9 771.5,160.2 774.1,169.7 777.0,166.9 779.8,162.7 782.4,166.2 785.2,171.1 787.9,178.8 790.7,183.7 793.4,187.9 796.2,191.4 798.8,190.7 801.6,183.7 804.3,180.9 807.1,187.9 809.8,195.7 807.1,189.2 809.8,195.5 812.6,190.6 815.2,183.6 818.0,187.8 820.7,193.4 823.5,197.6 826.2,190.6 829.0,187.8 831.8,199.0 834.4,201.8 837.2,193.4 839.9,185.7 842.7,203.2 845.4,198.3 848.2,200.4 850.8,201.1 853.6,200.4 856.3,205.3 859.1,206.7 861.9,215.8 864.6,213.7 867.4,216.5 870.0,213.7 872.8,211.6 875.5,223.5 878.3,214.4 881.0,224.2 883.8,227.8 886.4,233.4 889.2,233.4 891.9,227.8 894.7,229.2 897.5,234.1 900.2,232.7 903.0,242.5 905.6,246.0 908.4,236.2 911.1,252.3 913.9,253.7 916.7,255.5 919.4,263.9 922.0,263.2 924.8,247.8 927.5,245.7 930.3,257.6 933.1,269.5 935.8,275.1 938.6,266.0 941.2,247.1 944.1,261.8 946.7,257.6 949.5,278.6 952.2,266.0 955.0,275.1 957.8,282.8 960.5,284.9 963.1,286.3 965.9,291.9 968.6,290.5 971.4,282.8 974.2,294.0 976.9,292.6 979.7,287.0 982.3,300.3 985.1,298.2 987.8,296.8 990.6,312.9 993.3,312.9 996.1,322.1 998.9,321.4 1001.5,322.1 1004.3,315.0 1007.0,326.3 1009.8,329.1 1012.5,305.9 1015.3,302.4 1017.9,328.4 1020.7,329.1 1023.4,336.8 1026.2,319.9 1028.9,317.8 1031.7,319.9 1034.5,323.5 1037.1,322.1 1039.9,326.3 1042.6,327.7 1045.4,313.6 1048.1,322.1 1050.9,313.6 1053.5,324.2 1056.3,322.8 1059.0,329.1 1061.8,333.3 1064.5,321.4 1067.3,331.2 1070.1,324.9 1072.7,315.7 1075.5,329.1" fill="none" stroke="#ff0000" stroke-width="0.9" stroke-dasharray="2.6,1.1"/>
<polyline points="78.4,385.0 81.2,396.4 84.0,385.0 86.7,380.1 89.4,379.5 92.2,385.6 94.9,388.6 97.7,386.8 100.5,385.6 103.1,387.4 105.9,378.9 108.7,394.6 111.3,395.8 114.1,392.2 116.9,388.6 119.6,385.0 122.3,380.7 125.1,397.6 127.8,378.9 130.5,369.3 133.3,385.6 136.0,389.2 138.7,378.3 141.5,369.9 144.2,375.9 147.0,367.5 149.6,371.1 152.4,378.3 155.2,365.1 158.0,359.6 160.6,364.5 163.4,371.1 166.2,377.1 168.8,375.3 171.6,383.1 174.4,369.9 177.0,355.4 179.8,372.3 182.6,388.0 185.3,375.9 188.1,362.1 190.8,383.1 193.5,372.3 196.3,378.3 199.0,366.9 201.7,345.8 204.5,337.3 207.3,353.6 209.9,347.0 207.2,352.5 209.9,345.5 212.7,343.4 215.5,336.4 218.2,354.6 220.8,345.5 223.6,354.6 226.3,356.7 229.1,353.9 231.8,347.6 234.6,363.7 237.2,349.7 240.0,352.5 242.8,336.4 245.5,340.6 248.3,331.4 251.0,329.3 253.8,322.3 256.4,336.4 259.2,333.5 261.9,332.1 264.7,364.4 267.5,338.5 270.2,330.0 273.0,349.0 275.6,344.1 278.5,337.1 281.1,321.6 283.9,328.6 286.6,324.4 289.4,321.6 292.0,319.5 294.9,316.7 297.5,316.0 300.3,317.4 303.1,316.0 305.2,312.5 308.6,326.5 311.3,323.7 314.1,318.1 316.7,304.1 318.5,298.5 322.2,309.0 325.0,325.1 327.8,309.0 330.5,313.2 333.3,316.7 335.9,320.9 338.7,310.4 341.4,313.2 344.2,301.3 346.9,297.8 349.7,296.4 352.3,300.6 355.1,301.3 357.8,306.9 360.6,309.0 363.2,309.8 366.0,301.0 370.8,293.0 373.9,288.6 377.1,296.2 379.7,286.7 382.5,281.1 385.3,288.1 387.9,290.2 390.7,286.0 393.4,293.7 397.1,302.9 399.0,306.0 402.0,294.9 404.1,289.1 407.0,304.1 408.5,293.0 409.9,290.0 412.1,298.0 415.0,279.9 418.1,279.0 420.9,281.1 423.5,265.7 426.3,253.7 429.0,257.9 431.8,255.1 434.5,267.8 437.3,275.5 439.9,279.0 442.7,281.1 445.4,279.7 448.2,273.4 451.0,267.8 453.7,265.7 456.5,268.5 459.1,265.7 462.0,278.3 464.6,252.3 467.4,263.5 470.1,276.2 472.9,241.1 475.5,255.1 478.4,248.1 481.2,242.5 483.8,245.3 486.6,250.2 489.3,251.6 492.1,244.6 494.8,238.3 497.6,237.6 500.2,246.0 503.0,234.1 505.7,232.7 508.5,233.4 511.3,228.5 514.0,230.0 516.7,232.0 519.5,229.0 522.2,231.0 525.0,228.0 527.7,224.8 530.4,218.8 533.2,213.2 535.9,226.0 538.7,228.0 541.4,229.0 544.1,228.0 546.9,224.8 549.6,214.6 552.4,204.8 555.0,216.7 557.8,195.7 560.5,190.7 563.3,190.7 566.0,187.9 568.8,193.5 571.6,201.3 574.2,200.6 577.0,199.9 579.7,197.1 582.5,185.8 585.2,174.6 588.0,190.0 590.6,196.4 593.4,192.1 596.1,180.2 598.9,172.5 601.6,169.0 604.4,173.2 607.0,186.5 609.9,192.1 612.7,192.1 615.3,199.2 618.1,187.2 620.8,176.0 623.6,170.4 626.3,169.7 629.1,184.4 631.7,180.9 634.5,176.0 637.2,193.5 640.0,183.0 642.7,180.9 645.5,180.9 648.1,178.8 650.9,176.0 653.7,181.6 656.4,187.9 659.2,186.5 662.0,187.9 659.2,186.5 661.9,187.9 664.7,181.6 667.3,179.5 670.1,178.1 672.8,172.5 675.6,180.9 678.3,182.3 681.1,199.9 683.9,185.1 686.5,181.6 689.3,183.7 692.0,185.1 694.8,196.4 697.5,199.9 700.3,205.5 702.9,188.6 705.7,192.1 708.4,192.8 711.2,184.4 713.9,177.4 716.7,169.0 719.5,173.2 722.1,183.0 724.9,192.8 727.6,188.6 730.4,195.7 733.1,193.5 735.9,196.4 738.5,205.5 741.3,208.3 744.2,213.2 746.8,208.3 749.6,206.9 752.3,194.2 755.1,203.4 757.7,215.3 760.6,222.3 763.2,217.4 766.0,216.0 768.7,228.7 771.5,209.7 774.1,209.0 777.0,208.3 779.8,213.9 782.2,243.5 786.4,238.6 790.6,240.0 794.8,235.8 799.0,237.9 803.2,228.8 806.0,226.7 808.8,237.2 811.6,240.0 813.7,251.2 815.1,263.8 817.2,255.4 822.8,252.6 826.3,242.8 829.1,237.9 834.0,245.6 839.6,251.2 842.4,245.6 846.6,254.0 850.9,250.0 853.6,263.2 856.3,272.3 859.1,268.1 861.9,266.0 864.6,285.7 867.4,295.5 870.0,295.5 872.8,292.7 875.5,296.2 878.3,275.8 881.0,286.4 883.8,286.4 886.4,274.4 889.2,272.3 891.9,285.7 894.7,292.7 897.5,294.8 900.2,298.3 903.0,308.8 905.6,310.9 908.4,304.6 911.1,296.9 913.9,289.2 916.7,304.6 919.4,309.5 922.0,313.7 927.2,318.3 930.0,334.4 932.9,327.4 935.7,319.0 937.8,337.2 940.0,310.1 941.3,310.1 943.9,316.4 946.7,330.5 949.5,337.5 952.2,338.9 955.0,340.3 957.7,333.6 960.5,342.0 963.1,351.1 965.9,348.3 968.6,343.4 971.4,346.9 974.2,358.8 976.9,339.2 979.7,359.5 982.3,378.5 985.1,361.6 987.8,368.6 990.6,360.9 993.3,372.1 996.1,375.7 998.9,375.7 1001.5,372.8 1004.3,371.4 1007.0,372.1 1009.8,370.7 1012.5,365.1 1015.3,366.5 1017.9,364.4 1020.7,371.4 1023.4,377.1 1026.2,396.0 1028.9,368.6 1031.7,373.5 1034.5,381.3 1037.1,379.9 1039.9,382.7 1042.6,379.9 1045.4,392.5 1048.1,384.8 1050.9,379.2 1053.5,382.0 1056.3,381.3 1059.0,386.9 1061.8,376.4 1064.5,382.7 1067.3,391.8 1070.1,374.2 1072.7,370.7 1075.5,372.8" fill="none" stroke="#add8e6" stroke-width="1.5" stroke-dasharray="4.4,1.9"/>
<polyline points="78.4,345.7 81.2,352.9 84.0,354.7 86.7,349.3 89.4,343.3 92.2,348.1 94.9,355.3 97.7,357.7 100.5,360.1 103.1,345.1 105.9,354.1 108.7,363.1 111.3,366.2 114.1,361.6 116.9,366.2 119.6,351.7 122.3,340.8 125.1,355.9 127.8,350.5 130.5,345.1 133.3,354.7 136.0,352.3 138.7,346.9 141.5,341.5 144.2,343.9 147.0,348.1 149.6,354.7 149.6,354.7 152.5,335.5 155.2,333.5 157.9,329.5 160.7,333.5 163.4,336.5 166.1,331.5 168.9,336.5 171.6,338.0 174.4,325.0 177.1,337.0 179.8,324.0 182.6,325.0 185.3,344.0 188.1,339.0 190.8,345.0 193.5,333.5 196.3,326.0 199.0,321.5 201.8,320.0 204.5,316.5 207.2,318.5 210.0,317.0 212.7,327.9 215.4,317.4 218.2,309.7 220.9,302.5 223.7,309.7 226.4,302.0 229.1,308.3 231.9,311.8 234.6,318.1 237.4,318.8 240.1,308.3 242.8,311.1 245.6,308.3 248.3,314.6 251.1,316.0 253.8,309.7 256.5,320.2 259.3,310.0 262.0,294.6 264.8,296.7 267.5,296.7 270.2,298.8 273.0,305.5 275.7,296.7 278.4,291.8 281.2,293.2 283.9,287.6 286.7,293.9 289.4,293.9 292.1,289.0 294.9,290.4 297.6,295.3 300.4,299.5 303.1,291.1 305.8,284.8 308.6,296.7 311.3,282.7 314.1,281.3 316.8,273.5 319.5,272.8 322.3,268.6 325.0,275.6 327.7,282.7 330.5,287.6 333.2,276.4 336.0,286.2 338.7,281.3 341.4,277.0 344.2,284.0 346.9,275.6 349.7,270.7 352.4,265.1 355.1,267.2 357.9,270.0 360.6,267.9 363.4,254.4 366.1,258.6 368.8,250.9 371.6,262.1 374.3,269.2 377.1,276.2 379.8,265.6 382.5,271.3 385.3,262.1 388.0,257.9 390.7,260.0 393.5,267.0 396.2,267.8 399.0,261.4 401.7,257.9 404.4,255.1 407.2,258.6 409.9,265.0 412.7,262.8 415.4,258.6 418.1,238.3 420.9,235.5 423.6,236.2 426.4,233.4 429.1,229.9 431.8,229.2 434.6,227.8 437.3,246.0 440.0,243.9 442.8,240.4 445.5,236.9 448.3,243.2 451.0,236.2 453.7,235.5 456.5,234.8 459.2,231.3 462.0,227.5 464.7,221.1 467.4,229.5 470.2,230.9 472.9,219.7 475.7,209.9 478.4,211.3 481.1,202.8 483.9,201.4 486.6,209.9 489.3,202.1 492.1,200.7 494.8,205.6 497.6,206.4 500.3,204.2 503.0,210.6 505.8,205.6 508.5,198.6 511.3,191.6 514.0,181.6 516.8,199.9 519.4,200.6 522.2,201.3 524.9,202.0 527.7,192.8 530.4,192.1 533.2,183.0 535.8,189.3 538.6,193.5 541.4,198.5 544.1,180.9 546.9,177.4 549.6,173.2 552.4,173.2 555.0,176.0 557.8,169.0 560.5,157.1 563.3,163.4 566.0,168.3 568.8,167.6 571.6,178.1 574.2,162.0 577.0,157.1 579.7,162.0 582.5,162.7 585.2,160.6 588.0,159.9 590.6,161.3 593.4,162.0 596.1,156.7 598.9,144.1 601.6,142.0 604.4,141.3 607.0,155.3 609.9,160.9 612.7,160.2 615.3,155.3 618.1,158.8 620.8,149.7 623.6,147.6 626.3,148.3 629.1,152.5 631.7,159.5 634.5,153.9 637.2,151.1 640.0,158.8 642.7,153.9 645.5,149.7 648.1,151.8 650.9,148.3 653.7,142.0 656.4,147.6 659.2,144.1 662.0,144.8 664.7,144.8 667.3,146.9 670.1,140.6 672.8,145.5 675.6,146.2 678.3,166.2 681.1,149.0 683.9,143.4 686.5,146.9 689.3,149.0 692.0,153.9 694.8,158.1 697.5,158.8 700.3,158.1 702.9,163.4 705.7,158.8 708.4,159.5 710.1,164.8 711.2,153.9 713.9,145.5 716.7,149.7 719.5,145.5 722.1,151.1 724.9,151.1 727.6,162.3 730.4,158.8 733.1,163.7 735.9,166.2 738.5,171.8 741.3,183.7 744.2,173.9 746.8,178.8 749.6,178.1 752.3,175.3 755.1,172.5 757.7,169.0 760.6,176.7 763.2,179.5 766.0,182.3 768.7,184.4 771.5,185.1 774.1,182.3 777.0,194.2 779.8,191.4 782.4,199.2 785.2,199.9 787.9,203.4 790.7,208.3 793.4,211.1 796.2,213.2 798.8,208.3 801.6,206.9 804.3,207.6 807.1,208.3 809.8,204.1 812.6,206.9 815.2,201.8 818.0,208.1 820.7,208.8 823.5,226.4 826.2,221.4 829.0,215.1 831.8,210.2 834.4,229.9 837.2,220.0 839.9,218.6 842.7,227.1 845.4,227.8 848.2,229.9 850.8,232.0 853.6,224.2 856.3,222.8 859.1,239.7 861.9,243.9 864.6,252.3 867.4,243.2 870.0,239.7 872.8,246.0 875.5,246.7 878.3,252.0 881.0,259.0 883.8,263.2 886.4,263.2 889.2,249.2 891.9,246.4 894.7,256.2 897.5,261.8 900.2,270.2 903.0,263.9 905.6,265.3 908.4,262.5 911.1,268.1 913.9,268.8 916.7,273.0 919.4,284.9 922.0,292.7 924.8,293.4 927.5,299.7 930.3,303.9 933.1,297.6 935.8,293.4 938.6,286.4 941.2,289.9 944.1,299.0 946.7,301.8 949.5,299.0 952.2,305.3 955.0,306.0 957.8,308.1 960.5,310.9 963.1,309.4 965.9,315.7 968.6,322.1 971.4,320.7 974.2,324.9 976.9,327.7 979.7,333.3 982.3,329.1 985.1,327.7 987.8,336.4 990.6,339.9 993.3,344.8 996.1,356.0 998.9,349.0 1001.5,344.1 1004.3,343.4 1007.0,340.6 1009.8,347.6 1012.5,340.6 1015.3,344.8 1017.9,353.9 1020.7,353.9 1023.4,360.9 1026.2,361.6 1028.9,352.5 1031.7,351.8 1034.5,346.2 1037.1,348.3 1039.9,353.2 1042.6,360.2 1045.4,357.4 1048.1,361.6 1050.9,349.7 1053.5,347.6 1056.3,340.6 1059.0,353.2 1061.8,353.2 1064.5,356.0 1067.3,361.6 1070.1,356.0 1072.7,352.5 1075.5,351.1" fill="none" stroke="#000" stroke-width="3.4" stroke-linejoin="round"/>
<polyline points="78.5,354.0 81.2,370.4 84.0,365.0 86.7,330.6 89.5,319.2 92.2,333.0 94.9,342.0 97.7,343.0 100.4,307.1 103.2,316.2 105.9,285.4 108.6,325.8 111.4,365.0 114.1,376.4 116.8,375.8 119.6,369.8 122.3,357.7 125.1,375.8 127.8,357.0 130.5,368.6 133.3,384.8 136.0,355.3 138.8,308.3 141.5,335.4 144.2,334.8 147.0,366.2 149.7,317.5 152.5,324.0 155.2,358.9 157.9,333.0 160.7,347.0 163.4,338.0 166.1,344.0 168.9,341.0 171.6,338.5 174.4,331.0 177.1,340.0 179.8,365.6 182.6,324.5 185.3,357.1 188.1,338.5 190.8,298.7 193.5,328.5 196.3,310.0 199.0,292.0 201.8,304.1 204.5,281.8 207.2,293.3 210.0,296.9 212.7,298.0 215.4,303.4 218.2,291.0 220.9,292.5 223.7,285.5 226.4,291.0 229.1,298.0 231.9,304.8 234.6,313.2 237.4,317.1 240.1,296.7 241.5,305.0 242.8,316.7 245.6,308.5 248.3,278.5 251.1,291.0 253.8,279.9 256.5,296.7 259.3,286.9 262.0,304.8 264.8,328.6 267.5,312.5 270.2,300.6 273.0,310.4 275.7,335.6 278.4,333.5 281.2,342.0 283.9,314.6 286.7,330.7 289.4,295.0 292.1,268.6 294.9,287.6 297.6,303.4 300.4,325.1 303.1,300.0 305.8,285.5 308.6,298.5 311.3,284.5 314.1,296.0 316.8,307.6 319.5,271.0 322.3,263.0 325.0,264.4 327.7,306.9 330.5,277.0 333.2,246.2 336.0,256.0 338.7,242.0 341.4,249.0 344.2,243.4 346.9,240.6 349.7,240.6 352.4,251.8 355.1,256.0 357.9,238.5 360.6,261.0 363.4,281.1 366.1,309.0 368.8,294.5 371.6,276.5 374.3,313.0 377.1,291.0 379.8,272.0 382.5,263.5 385.3,260.0 388.0,248.8 390.7,237.6 393.5,265.6 396.2,254.4 399.0,255.1 401.7,247.4 404.4,249.5 407.2,241.8 409.9,250.2 412.7,213.4 415.4,234.8 418.1,246.0 420.9,287.4 423.6,276.9 426.4,274.0 429.1,251.6 431.8,245.3 434.6,248.1 437.3,260.7 440.0,252.3 442.8,245.3 445.5,236.2 448.3,234.8 451.0,232.0 453.7,221.0 456.5,216.2 459.2,223.9 462.0,234.8 464.7,229.2 467.4,243.9 470.2,234.8 472.9,221.0 475.7,211.0 478.4,207.0 481.1,191.6 483.9,173.4 486.6,161.5 489.3,150.1 492.1,158.5 494.8,199.3 497.6,186.0 500.3,193.0 503.0,187.4 505.8,180.4 508.5,174.8 511.3,170.6 514.0,160.9 516.8,135.7 519.4,146.9 522.2,153.9 524.9,153.9 527.7,145.5 530.4,149.0 533.2,138.5 535.8,131.4 538.6,133.5 541.4,135.7 544.1,130.0 546.9,115.3 549.6,125.8 552.4,140.6 555.0,118.8 557.8,146.2 560.5,147.6 563.3,131.4 566.0,113.2 568.8,107.6 571.6,102.0 574.2,113.2 577.0,134.9 579.7,141.3 582.5,136.4 585.2,141.3 588.0,151.8 589.8,148.3 590.6,156.7 593.4,178.8 596.2,163.4 598.9,137.0 601.6,135.6 604.4,213.2 607.1,156.7 609.9,139.9 612.6,144.0 615.3,137.0 618.1,124.4 620.8,111.8 623.6,145.5 626.3,155.3 629.0,173.2 631.8,164.8 634.5,169.0 637.3,189.3 640.0,192.1 642.7,169.7 645.5,162.7 648.2,162.0 651.0,179.5 653.7,179.5 656.4,168.3 659.2,167.3 661.9,164.1 664.7,160.6 666.2,146.9 667.3,147.1 670.1,139.9 672.8,141.3 675.6,127.2 678.3,113.9 681.1,112.5 683.9,109.0 686.5,111.8 689.3,113.9 692.0,138.5 694.8,132.1 697.5,129.3 700.3,127.9 702.9,137.1 705.7,122.3 708.4,156.7 709.7,163.4 711.2,187.2 713.9,191.4 716.7,190.0 719.5,173.2 722.1,162.0 724.9,167.6 727.6,139.2 730.4,178.0 733.1,179.5 735.9,207.6 738.5,173.2 741.3,183.0 744.2,197.1 746.8,213.9 749.6,190.0 752.3,178.1 755.1,193.5 757.7,171.8 760.6,158.5 763.2,156.4 766.0,181.6 768.7,210.4 771.5,197.1 774.1,185.8 777.0,187.2 779.8,175.3 782.4,176.0 785.2,179.5 787.9,159.2 790.7,159.9 793.4,157.8 796.2,191.4 798.8,209.9 801.6,247.5 804.3,255.4 807.1,259.6 809.8,261.8 812.6,249.5 815.3,217.2 818.0,206.0 820.8,213.0 823.5,227.0 826.2,233.4 829.0,232.7 831.7,210.2 834.5,195.5 837.2,241.0 839.9,257.6 842.7,234.0 845.4,227.0 848.2,214.4 850.9,231.3 853.6,222.1 856.4,222.8 859.1,232.7 861.9,232.0 864.6,252.5" fill="none" stroke="#000" stroke-width="1.4" stroke-linejoin="round"/>
</g>
<rect x="78.5" y="60.5" width="997.0" height="385.0" fill="none" stroke="#000" stroke-width="1.1"/>
<line x1="73.5" x2="78.5" y1="440.40" y2="440.40" stroke="#000" stroke-width="1.1"/>
<text x="69.0" y="447.5" font-size="19.44" text-anchor="end">−5</text>
<line x1="73.5" x2="78.5" y1="393.40" y2="393.40" stroke="#000" stroke-width="1.1"/>
<text x="69.0" y="400.5" font-size="19.44" text-anchor="end">0</text>
<line x1="73.5" x2="78.5" y1="346.40" y2="346.40" stroke="#000" stroke-width="1.1"/>
<text x="69.0" y="353.5" font-size="19.44" text-anchor="end">5</text>
<line x1="73.5" x2="78.5" y1="299.40" y2="299.40" stroke="#000" stroke-width="1.1"/>
<text x="69.0" y="306.5" font-size="19.44" text-anchor="end">10</text>
<line x1="73.5" x2="78.5" y1="252.40" y2="252.40" stroke="#000" stroke-width="1.1"/>
<text x="69.0" y="259.5" font-size="19.44" text-anchor="end">15</text>
<line x1="73.5" x2="78.5" y1="205.40" y2="205.40" stroke="#000" stroke-width="1.1"/>
<text x="69.0" y="212.5" font-size="19.44" text-anchor="end">20</text>
<line x1="73.5" x2="78.5" y1="158.40" y2="158.40" stroke="#000" stroke-width="1.1"/>
<text x="69.0" y="165.5" font-size="19.44" text-anchor="end">25</text>
<line x1="73.5" x2="78.5" y1="111.40" y2="111.40" stroke="#000" stroke-width="1.1"/>
<text x="69.0" y="118.5" font-size="19.44" text-anchor="end">30</text>
<line x1="73.5" x2="78.5" y1="64.40" y2="64.40" stroke="#000" stroke-width="1.1"/>
<text x="69.0" y="71.5" font-size="19.44" text-anchor="end">35</text>
<line x1="78.50" x2="78.50" y1="445.5" y2="450.5" stroke="#000" stroke-width="1.1"/>
<text x="78.5" y="468.5" font-size="16.67" text-anchor="middle">Ene</text>
<line x1="163.41" x2="163.41" y1="445.5" y2="450.5" stroke="#000" stroke-width="1.1"/>
<text x="163.4" y="468.5" font-size="16.67" text-anchor="middle">Feb</text>
<line x1="240.10" x2="240.10" y1="445.5" y2="450.5" stroke="#000" stroke-width="1.1"/>
<text x="240.1" y="468.5" font-size="16.67" text-anchor="middle">Mar</text>
<line x1="325.01" x2="325.01" y1="445.5" y2="450.5" stroke="#000" stroke-width="1.1"/>
<text x="325.0" y="468.5" font-size="16.67" text-anchor="middle">Abr</text>
<line x1="407.18" x2="407.18" y1="445.5" y2="450.5" stroke="#000" stroke-width="1.1"/>
<text x="407.2" y="468.5" font-size="16.67" text-anchor="middle">May</text>
<line x1="492.09" x2="492.09" y1="445.5" y2="450.5" stroke="#000" stroke-width="1.1"/>
<text x="492.1" y="468.5" font-size="16.67" text-anchor="middle">Jun</text>
<line x1="574.26" x2="574.26" y1="445.5" y2="450.5" stroke="#000" stroke-width="1.1"/>
<text x="574.3" y="468.5" font-size="16.67" text-anchor="middle">Jul</text>
<line x1="659.17" x2="659.17" y1="445.5" y2="450.5" stroke="#000" stroke-width="1.1"/>
<text x="659.2" y="468.5" font-size="16.67" text-anchor="middle">Ago</text>
<line x1="744.08" x2="744.08" y1="445.5" y2="450.5" stroke="#000" stroke-width="1.1"/>
<text x="744.1" y="468.5" font-size="16.67" text-anchor="middle">Sep</text>
<line x1="826.25" x2="826.25" y1="445.5" y2="450.5" stroke="#000" stroke-width="1.1"/>
<text x="826.2" y="468.5" font-size="16.67" text-anchor="middle">Oct</text>
<line x1="911.16" x2="911.16" y1="445.5" y2="450.5" stroke="#000" stroke-width="1.1"/>
<text x="911.2" y="468.5" font-size="16.67" text-anchor="middle">Nov</text>
<line x1="993.33" x2="993.33" y1="445.5" y2="450.5" stroke="#000" stroke-width="1.1"/>
<text x="993.3" y="468.5" font-size="16.67" text-anchor="middle">Dic</text>
<text x="577" y="31.9" font-size="25" text-anchor="middle" style="fill:#2c6da7">Temperatura Media diaria - Llimiana</text>
<text x="49" y="55" font-size="16.67">℃   Última temp: 2025-10-15</text>
<text x="89" y="84.9" font-size="22.2" style="fill:#2c6da7">WWW.EMBALSES.NET</text>
<rect x="185.5" y="476.5" width="783" height="40" rx="3" fill="#fff" fill-opacity="0.8" stroke="#ccc" stroke-width="1"/>
<line x1="192" x2="225.3" y1="491.5" y2="491.5" stroke="#ff0000" stroke-width="0.9" stroke-dasharray="2.6,1.1"/>
<text x="239" y="496.6" font-size="16.67">Percentil 95</text>
<line x1="370.3" x2="403.6" y1="491.5" y2="491.5" stroke="#add8e6" stroke-width="1.5" stroke-dasharray="4.4,1.9"/>
<text x="416" y="496.6" font-size="16.67">Percentil 5</text>
<line x1="538.2" x2="571.5" y1="491.5" y2="491.5" stroke="#000" stroke-width="3.4" stroke-linecap="square"/>
<text x="585" y="496.6" font-size="16.67">Temperatura Mediana</text>
<line x1="799.5" x2="832.8" y1="491.5" y2="491.5" stroke="#000" stroke-width="1.4" stroke-linecap="square"/>
<text x="846" y="496.6" font-size="16.67">T. Media 2025</text>
</svg></body></html>
